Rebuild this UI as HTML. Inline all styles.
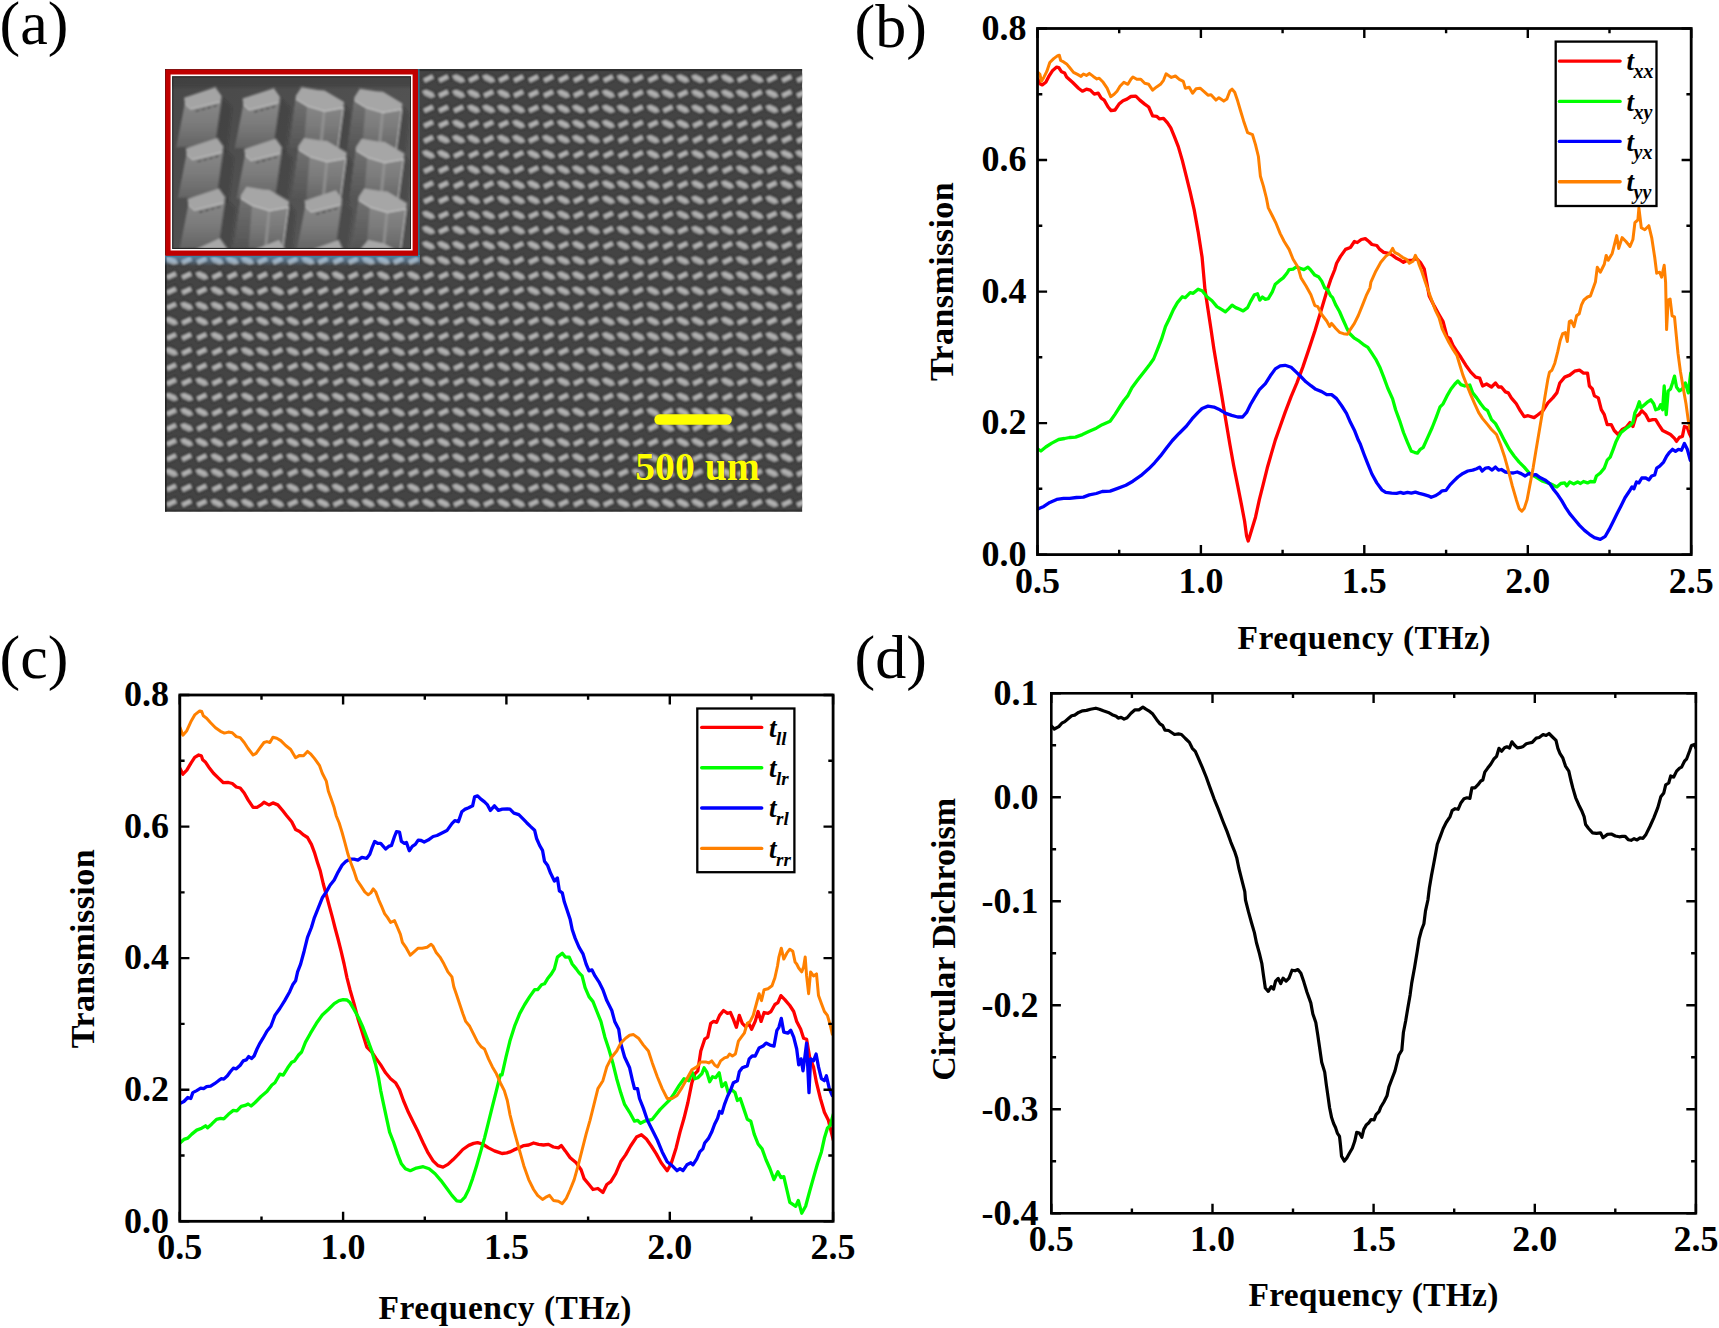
<!DOCTYPE html>
<html><head><meta charset="utf-8"><title>Figure</title>
<style>html,body{margin:0;padding:0;background:#fff}svg{display:block}text{font-family:'Liberation Serif','Times New Roman',serif;fill:#000}</style>
</head><body>
<svg width="1719" height="1328" viewBox="0 0 1719 1328">
<rect width="1719" height="1328" fill="#fff"/>
<defs>
<clipPath id="cb"><rect x="1037.5" y="28.5" width="653.7" height="526.1"/></clipPath>
<clipPath id="cc"><rect x="179.8" y="695" width="653.3" height="526.3"/></clipPath>
<clipPath id="cd"><rect x="1051.3" y="693.3" width="644.6" height="520"/></clipPath>
<clipPath id="csem"><rect x="165" y="69" width="637.3" height="442.8"/></clipPath>
<clipPath id="cins"><rect x="172.7" y="76.8" width="237.9" height="171.7"/></clipPath>
<filter id="blur" x="-2%" y="-2%" width="104%" height="104%"><feGaussianBlur stdDeviation="0.85"/></filter>
<filter id="blur2" x="-2%" y="-2%" width="104%" height="104%"><feGaussianBlur stdDeviation="0.9"/></filter>
<linearGradient id="gbody" x1="0" y1="0" x2="0" y2="1"><stop offset="0" stop-color="#8a8a8a"/><stop offset="0.5" stop-color="#7c7c7c"/><stop offset="1" stop-color="#646464"/></linearGradient>
<linearGradient id="gside" x1="0" y1="0" x2="0" y2="1"><stop offset="0" stop-color="#727272"/><stop offset="1" stop-color="#545454"/></linearGradient>
<linearGradient id="gbg" x1="0" y1="0" x2="1" y2="1"><stop offset="0" stop-color="#484848"/><stop offset="1" stop-color="#5a5a5a"/></linearGradient>
<linearGradient id="gblue" x1="0" y1="0" x2="0" y2="1"><stop offset="0" stop-color="#7ab8ee" stop-opacity="0.55"/><stop offset="0.6" stop-color="#7ab8ee" stop-opacity="0.3"/><stop offset="1" stop-color="#7ab8ee" stop-opacity="0"/></linearGradient>
</defs>
<text x="-0.5" y="43.7" font-size="62.0" text-anchor="start" font-weight="normal" font-style="normal" >(a)</text>
<text x="854.5" y="47.3" font-size="62.0" text-anchor="start" font-weight="normal" font-style="normal" >(b)</text>
<text x="-0.5" y="677.6" font-size="62.0" text-anchor="start" font-weight="normal" font-style="normal" >(c)</text>
<text x="854.5" y="678.0" font-size="62.0" text-anchor="start" font-weight="normal" font-style="normal" >(d)</text>
<g clip-path="url(#csem)">
<rect x="165" y="69" width="637.3" height="442.8" fill="#444444"/>
<g filter="url(#blur)">
<path d="M422.7,78.4L432.1,74.0L434.4,78.8L425.0,83.2ZM437.7,78.4L447.1,74.0L449.4,78.8L440.0,83.2ZM467.8,78.4L477.2,74.0L479.5,78.8L470.0,83.2ZM497.8,78.4L507.2,74.0L509.5,78.8L500.1,83.2ZM512.8,78.4L522.2,74.0L524.5,78.8L515.0,83.2ZM527.7,78.4L537.2,74.0L539.4,78.8L530.0,83.2ZM542.7,78.4L552.1,74.0L554.4,78.8L545.0,83.2ZM557.7,78.4L567.1,74.0L569.4,78.8L560.0,83.2ZM572.6,78.4L582.0,74.0L584.3,78.8L574.9,83.2ZM587.6,78.4L597.0,74.0L599.3,78.8L589.8,83.2ZM602.5,78.4L611.9,74.0L614.2,78.8L604.8,83.2ZM632.3,78.4L641.8,74.0L644.0,78.8L634.6,83.2ZM647.2,78.4L656.7,74.0L658.9,78.8L649.5,83.2ZM706.8,78.4L716.2,74.0L718.5,78.8L709.0,83.2ZM736.5,78.4L745.9,74.0L748.2,78.8L738.7,83.2ZM766.1,78.4L775.6,74.0L777.8,78.8L768.4,83.2ZM780.9,78.4L790.4,74.0L792.7,78.8L783.2,83.2ZM795.8,78.4L805.2,74.0L807.5,78.8L798.0,83.2ZM810.6,78.4L820.0,74.0L822.3,78.8L812.8,83.2ZM437.7,93.5L447.1,89.1L449.4,94.0L440.0,98.4ZM482.8,93.5L492.2,89.1L494.5,94.0L485.1,98.4ZM512.8,93.5L522.2,89.1L524.5,94.0L515.0,98.4ZM527.7,93.5L537.2,89.1L539.4,94.0L530.0,98.4ZM542.7,93.5L552.1,89.1L554.4,94.0L545.0,98.4ZM572.6,93.5L582.0,89.1L584.3,94.0L574.9,98.4ZM587.6,93.5L597.0,89.1L599.3,94.0L589.8,98.4ZM617.4,93.5L626.8,89.1L629.1,94.0L619.7,98.4ZM632.3,93.5L641.8,89.1L644.0,94.0L634.6,98.4ZM677.0,93.5L686.4,89.1L688.7,94.0L679.3,98.4ZM751.3,93.5L760.7,89.1L763.0,94.0L753.6,98.4ZM780.9,93.5L790.4,89.1L792.7,94.0L783.2,98.4ZM795.8,93.5L805.2,89.1L807.5,94.0L798.0,98.4ZM422.7,108.7L432.1,104.3L434.4,109.2L425.0,113.6ZM437.7,108.7L447.1,104.3L449.4,109.2L440.0,113.6ZM452.7,108.7L462.2,104.3L464.5,109.2L455.0,113.6ZM527.7,108.7L537.2,104.3L539.4,109.2L530.0,113.6ZM587.6,108.7L597.0,104.3L599.3,109.2L589.8,113.6ZM632.3,108.7L641.8,104.3L644.0,109.2L634.6,113.6ZM662.1,108.7L671.6,104.3L673.8,109.2L664.4,113.6ZM736.5,108.7L745.9,104.3L748.2,109.2L738.7,113.6ZM751.3,108.7L760.7,104.3L763.0,109.2L753.6,113.6ZM780.9,108.7L790.4,104.3L792.7,109.2L783.2,113.6ZM795.8,108.7L805.2,104.3L807.5,109.2L798.0,113.6ZM810.6,108.7L820.0,104.3L822.3,109.2L812.8,113.6ZM422.7,123.8L432.1,119.4L434.4,124.3L425.0,128.7ZM437.7,123.8L447.1,119.4L449.4,124.3L440.0,128.7ZM467.8,123.8L477.2,119.4L479.5,124.3L470.0,128.7ZM482.8,123.8L492.2,119.4L494.5,124.3L485.1,128.7ZM497.8,123.8L507.2,119.4L509.5,124.3L500.1,128.7ZM527.7,123.8L537.2,119.4L539.4,124.3L530.0,128.7ZM542.7,123.8L552.1,119.4L554.4,124.3L545.0,128.7ZM617.4,123.8L626.8,119.4L629.1,124.3L619.7,128.7ZM632.3,123.8L641.8,119.4L644.0,124.3L634.6,128.7ZM647.2,123.8L656.7,119.4L658.9,124.3L649.5,128.7ZM691.9,123.8L701.3,119.4L703.6,124.3L694.2,128.7ZM706.8,123.8L716.2,119.4L718.5,124.3L709.0,128.7ZM721.6,123.8L731.0,119.4L733.3,124.3L723.9,128.7ZM736.5,123.8L745.9,119.4L748.2,124.3L738.7,128.7ZM751.3,123.8L760.7,119.4L763.0,124.3L753.6,128.7ZM780.9,123.8L790.4,119.4L792.7,124.3L783.2,128.7ZM795.8,123.8L805.2,119.4L807.5,124.3L798.0,128.7ZM810.6,123.8L820.0,119.4L822.3,124.3L812.8,128.7ZM422.7,139.0L432.1,134.6L434.4,139.5L425.0,143.9ZM482.8,139.0L492.2,134.6L494.5,139.5L485.1,143.9ZM527.7,139.0L537.2,134.6L539.4,139.5L530.0,143.9ZM602.5,139.0L611.9,134.6L614.2,139.5L604.8,143.9ZM617.4,139.0L626.8,134.6L629.1,139.5L619.7,143.9ZM632.3,139.0L641.8,134.6L644.0,139.5L634.6,143.9ZM662.1,139.0L671.6,134.6L673.8,139.5L664.4,143.9ZM677.0,139.0L686.4,134.6L688.7,139.5L679.3,143.9ZM691.9,139.0L701.3,134.6L703.6,139.5L694.2,143.9ZM706.8,139.0L716.2,134.6L718.5,139.5L709.0,143.9ZM721.6,139.0L731.0,134.6L733.3,139.5L723.9,143.9ZM736.5,139.0L745.9,134.6L748.2,139.5L738.7,143.9ZM751.3,139.0L760.7,134.6L763.0,139.5L753.6,143.9ZM766.1,139.0L775.6,134.6L777.8,139.5L768.4,143.9ZM780.9,139.0L790.4,134.6L792.7,139.5L783.2,143.9ZM795.8,139.0L805.2,134.6L807.5,139.5L798.0,143.9ZM810.6,139.0L820.0,134.6L822.3,139.5L812.8,143.9ZM452.7,154.2L462.2,149.8L464.5,154.6L455.0,159.0ZM467.8,154.2L477.2,149.8L479.5,154.6L470.0,159.0ZM482.8,154.2L492.2,149.8L494.5,154.6L485.1,159.0ZM497.8,154.2L507.2,149.8L509.5,154.6L500.1,159.0ZM512.8,154.2L522.2,149.8L524.5,154.6L515.0,159.0ZM557.7,154.2L567.1,149.8L569.4,154.6L560.0,159.0ZM572.6,154.2L582.0,149.8L584.3,154.6L574.9,159.0ZM587.6,154.2L597.0,149.8L599.3,154.6L589.8,159.0ZM602.5,154.2L611.9,149.8L614.2,154.6L604.8,159.0ZM617.4,154.2L626.8,149.8L629.1,154.6L619.7,159.0ZM632.3,154.2L641.8,149.8L644.0,154.6L634.6,159.0ZM662.1,154.2L671.6,149.8L673.8,154.6L664.4,159.0ZM677.0,154.2L686.4,149.8L688.7,154.6L679.3,159.0ZM721.6,154.2L731.0,149.8L733.3,154.6L723.9,159.0ZM751.3,154.2L760.7,149.8L763.0,154.6L753.6,159.0ZM422.7,169.3L432.1,164.9L434.4,169.8L425.0,174.2ZM437.7,169.3L447.1,164.9L449.4,169.8L440.0,174.2ZM452.7,169.3L462.2,164.9L464.5,169.8L455.0,174.2ZM512.8,169.3L522.2,164.9L524.5,169.8L515.0,174.2ZM527.7,169.3L537.2,164.9L539.4,169.8L530.0,174.2ZM632.3,169.3L641.8,164.9L644.0,169.8L634.6,174.2ZM647.2,169.3L656.7,164.9L658.9,169.8L649.5,174.2ZM662.1,169.3L671.6,164.9L673.8,169.8L664.4,174.2ZM677.0,169.3L686.4,164.9L688.7,169.8L679.3,174.2ZM691.9,169.3L701.3,164.9L703.6,169.8L694.2,174.2ZM706.8,169.3L716.2,164.9L718.5,169.8L709.0,174.2ZM721.6,169.3L731.0,164.9L733.3,169.8L723.9,174.2ZM766.1,169.3L775.6,164.9L777.8,169.8L768.4,174.2ZM422.7,184.5L432.1,180.1L434.4,185.0L425.0,189.4ZM437.7,184.5L447.1,180.1L449.4,185.0L440.0,189.4ZM452.7,184.5L462.2,180.1L464.5,185.0L455.0,189.4ZM467.8,184.5L477.2,180.1L479.5,185.0L470.0,189.4ZM482.8,184.5L492.2,180.1L494.5,185.0L485.1,189.4ZM542.7,184.5L552.1,180.1L554.4,185.0L545.0,189.4ZM587.6,184.5L597.0,180.1L599.3,185.0L589.8,189.4ZM662.1,184.5L671.6,180.1L673.8,185.0L664.4,189.4ZM677.0,184.5L686.4,180.1L688.7,185.0L679.3,189.4ZM706.8,184.5L716.2,180.1L718.5,185.0L709.0,189.4ZM751.3,184.5L760.7,180.1L763.0,185.0L753.6,189.4ZM766.1,184.5L775.6,180.1L777.8,185.0L768.4,189.4ZM810.6,184.5L820.0,180.1L822.3,185.0L812.8,189.4ZM422.7,199.6L432.1,195.2L434.4,200.1L425.0,204.5ZM437.7,199.6L447.1,195.2L449.4,200.1L440.0,204.5ZM482.8,199.6L492.2,195.2L494.5,200.1L485.1,204.5ZM542.7,199.6L552.1,195.2L554.4,200.1L545.0,204.5ZM572.6,199.6L582.0,195.2L584.3,200.1L574.9,204.5ZM587.6,199.6L597.0,195.2L599.3,200.1L589.8,204.5ZM662.1,199.6L671.6,195.2L673.8,200.1L664.4,204.5ZM706.8,199.6L716.2,195.2L718.5,200.1L709.0,204.5ZM721.6,199.6L731.0,195.2L733.3,200.1L723.9,204.5ZM736.5,199.6L745.9,195.2L748.2,200.1L738.7,204.5ZM751.3,199.6L760.7,195.2L763.0,200.1L753.6,204.5ZM780.9,199.6L790.4,195.2L792.7,200.1L783.2,204.5ZM795.8,199.6L805.2,195.2L807.5,200.1L798.0,204.5ZM810.6,199.6L820.0,195.2L822.3,200.1L812.8,204.5ZM437.7,214.8L447.1,210.4L449.4,215.3L440.0,219.7ZM452.7,214.8L462.2,210.4L464.5,215.3L455.0,219.7ZM497.8,214.8L507.2,210.4L509.5,215.3L500.1,219.7ZM527.7,214.8L537.2,210.4L539.4,215.3L530.0,219.7ZM572.6,214.8L582.0,210.4L584.3,215.3L574.9,219.7ZM587.6,214.8L597.0,210.4L599.3,215.3L589.8,219.7ZM602.5,214.8L611.9,210.4L614.2,215.3L604.8,219.7ZM617.4,214.8L626.8,210.4L629.1,215.3L619.7,219.7ZM647.2,214.8L656.7,210.4L658.9,215.3L649.5,219.7ZM662.1,214.8L671.6,210.4L673.8,215.3L664.4,219.7ZM706.8,214.8L716.2,210.4L718.5,215.3L709.0,219.7ZM721.6,214.8L731.0,210.4L733.3,215.3L723.9,219.7ZM766.1,214.8L775.6,210.4L777.8,215.3L768.4,219.7ZM795.8,214.8L805.2,210.4L807.5,215.3L798.0,219.7ZM810.6,214.8L820.0,210.4L822.3,215.3L812.8,219.7ZM437.7,230.0L447.1,225.6L449.4,230.4L440.0,234.8ZM497.8,230.0L507.2,225.6L509.5,230.4L500.1,234.8ZM527.7,230.0L537.2,225.6L539.4,230.4L530.0,234.8ZM542.7,230.0L552.1,225.6L554.4,230.4L545.0,234.8ZM572.6,230.0L582.0,225.6L584.3,230.4L574.9,234.8ZM602.5,230.0L611.9,225.6L614.2,230.4L604.8,234.8ZM677.0,230.0L686.4,225.6L688.7,230.4L679.3,234.8ZM736.5,230.0L745.9,225.6L748.2,230.4L738.7,234.8ZM751.3,230.0L760.7,225.6L763.0,230.4L753.6,234.8ZM766.1,230.0L775.6,225.6L777.8,230.4L768.4,234.8ZM780.9,230.0L790.4,225.6L792.7,230.4L783.2,234.8ZM795.8,230.0L805.2,225.6L807.5,230.4L798.0,234.8ZM810.6,230.0L820.0,225.6L822.3,230.4L812.8,234.8ZM467.8,245.1L477.2,240.7L479.5,245.6L470.0,250.0ZM512.8,245.1L522.2,240.7L524.5,245.6L515.0,250.0ZM557.7,245.1L567.1,240.7L569.4,245.6L560.0,250.0ZM587.6,245.1L597.0,240.7L599.3,245.6L589.8,250.0ZM602.5,245.1L611.9,240.7L614.2,245.6L604.8,250.0ZM647.2,245.1L656.7,240.7L658.9,245.6L649.5,250.0ZM662.1,245.1L671.6,240.7L673.8,245.6L664.4,250.0ZM677.0,245.1L686.4,240.7L688.7,245.6L679.3,250.0ZM691.9,245.1L701.3,240.7L703.6,245.6L694.2,250.0ZM706.8,245.1L716.2,240.7L718.5,245.6L709.0,250.0ZM721.6,245.1L731.0,240.7L733.3,245.6L723.9,250.0ZM751.3,245.1L760.7,240.7L763.0,245.6L753.6,250.0ZM780.9,245.1L790.4,240.7L792.7,245.6L783.2,250.0ZM795.8,245.1L805.2,240.7L807.5,245.6L798.0,250.0ZM810.6,245.1L820.0,240.7L822.3,245.6L812.8,250.0ZM180.8,260.3L190.3,255.9L192.5,260.8L183.1,265.2ZM196.0,260.3L205.5,255.9L207.7,260.8L198.3,265.2ZM256.7,260.3L266.1,255.9L268.4,260.8L259.0,265.2ZM271.8,260.3L281.2,255.9L283.5,260.8L274.1,265.2ZM286.9,260.3L296.4,255.9L298.7,260.8L289.2,265.2ZM317.2,260.3L326.6,255.9L328.9,260.8L319.5,265.2ZM332.3,260.3L341.7,255.9L344.0,260.8L334.6,265.2ZM347.4,260.3L356.8,255.9L359.1,260.8L349.7,265.2ZM392.6,260.3L402.0,255.9L404.3,260.8L394.9,265.2ZM407.6,260.3L417.1,255.9L419.4,260.8L409.9,265.2ZM467.8,260.3L477.2,255.9L479.5,260.8L470.0,265.2ZM482.8,260.3L492.2,255.9L494.5,260.8L485.1,265.2ZM512.8,260.3L522.2,255.9L524.5,260.8L515.0,265.2ZM527.7,260.3L537.2,255.9L539.4,260.8L530.0,265.2ZM587.6,260.3L597.0,255.9L599.3,260.8L589.8,265.2ZM617.4,260.3L626.8,255.9L629.1,260.8L619.7,265.2ZM647.2,260.3L656.7,255.9L658.9,260.8L649.5,265.2ZM662.1,260.3L671.6,255.9L673.8,260.8L664.4,265.2ZM706.8,260.3L716.2,255.9L718.5,260.8L709.0,265.2ZM721.6,260.3L731.0,255.9L733.3,260.8L723.9,265.2ZM751.3,260.3L760.7,255.9L763.0,260.8L753.6,265.2ZM766.1,260.3L775.6,255.9L777.8,260.8L768.4,265.2ZM780.9,260.3L790.4,255.9L792.7,260.8L783.2,265.2ZM795.8,260.3L805.2,255.9L807.5,260.8L798.0,265.2ZM810.6,260.3L820.0,255.9L822.3,260.8L812.8,265.2ZM165.6,275.4L175.1,271.0L177.4,275.9L167.9,280.3ZM180.8,275.4L190.3,271.0L192.5,275.9L183.1,280.3ZM211.2,275.4L220.6,271.0L222.9,275.9L213.5,280.3ZM226.4,275.4L235.8,271.0L238.1,275.9L228.7,280.3ZM241.5,275.4L251.0,271.0L253.2,275.9L243.8,280.3ZM256.7,275.4L266.1,271.0L268.4,275.9L259.0,280.3ZM271.8,275.4L281.2,271.0L283.5,275.9L274.1,280.3ZM286.9,275.4L296.4,271.0L298.7,275.9L289.2,280.3ZM302.1,275.4L311.5,271.0L313.8,275.9L304.3,280.3ZM347.4,275.4L356.8,271.0L359.1,275.9L349.7,280.3ZM362.5,275.4L371.9,271.0L374.2,275.9L364.7,280.3ZM392.6,275.4L402.0,271.0L404.3,275.9L394.9,280.3ZM422.7,275.4L432.1,271.0L434.4,275.9L425.0,280.3ZM437.7,275.4L447.1,271.0L449.4,275.9L440.0,280.3ZM467.8,275.4L477.2,271.0L479.5,275.9L470.0,280.3ZM482.8,275.4L492.2,271.0L494.5,275.9L485.1,280.3ZM527.7,275.4L537.2,271.0L539.4,275.9L530.0,280.3ZM587.6,275.4L597.0,271.0L599.3,275.9L589.8,280.3ZM602.5,275.4L611.9,271.0L614.2,275.9L604.8,280.3ZM617.4,275.4L626.8,271.0L629.1,275.9L619.7,280.3ZM632.3,275.4L641.8,271.0L644.0,275.9L634.6,280.3ZM647.2,275.4L656.7,271.0L658.9,275.9L649.5,280.3ZM677.0,275.4L686.4,271.0L688.7,275.9L679.3,280.3ZM691.9,275.4L701.3,271.0L703.6,275.9L694.2,280.3ZM706.8,275.4L716.2,271.0L718.5,275.9L709.0,280.3ZM766.1,275.4L775.6,271.0L777.8,275.9L768.4,280.3ZM780.9,275.4L790.4,271.0L792.7,275.9L783.2,280.3ZM795.8,275.4L805.2,271.0L807.5,275.9L798.0,280.3ZM810.6,275.4L820.0,271.0L822.3,275.9L812.8,280.3ZM165.6,290.6L175.1,286.2L177.4,291.1L167.9,295.5ZM180.8,290.6L190.3,286.2L192.5,291.1L183.1,295.5ZM196.0,290.6L205.5,286.2L207.7,291.1L198.3,295.5ZM256.7,290.6L266.1,286.2L268.4,291.1L259.0,295.5ZM286.9,290.6L296.4,286.2L298.7,291.1L289.2,295.5ZM302.1,290.6L311.5,286.2L313.8,291.1L304.3,295.5ZM317.2,290.6L326.6,286.2L328.9,291.1L319.5,295.5ZM332.3,290.6L341.7,286.2L344.0,291.1L334.6,295.5ZM347.4,290.6L356.8,286.2L359.1,291.1L349.7,295.5ZM362.5,290.6L371.9,286.2L374.2,291.1L364.7,295.5ZM377.5,290.6L387.0,286.2L389.2,291.1L379.8,295.5ZM392.6,290.6L402.0,286.2L404.3,291.1L394.9,295.5ZM407.6,290.6L417.1,286.2L419.4,291.1L409.9,295.5ZM422.7,290.6L432.1,286.2L434.4,291.1L425.0,295.5ZM437.7,290.6L447.1,286.2L449.4,291.1L440.0,295.5ZM452.7,290.6L462.2,286.2L464.5,291.1L455.0,295.5ZM467.8,290.6L477.2,286.2L479.5,291.1L470.0,295.5ZM482.8,290.6L492.2,286.2L494.5,291.1L485.1,295.5ZM497.8,290.6L507.2,286.2L509.5,291.1L500.1,295.5ZM512.8,290.6L522.2,286.2L524.5,291.1L515.0,295.5ZM617.4,290.6L626.8,286.2L629.1,291.1L619.7,295.5ZM632.3,290.6L641.8,286.2L644.0,291.1L634.6,295.5ZM662.1,290.6L671.6,286.2L673.8,291.1L664.4,295.5ZM706.8,290.6L716.2,286.2L718.5,291.1L709.0,295.5ZM795.8,290.6L805.2,286.2L807.5,291.1L798.0,295.5ZM165.6,305.8L175.1,301.4L177.4,306.2L167.9,310.6ZM286.9,305.8L296.4,301.4L298.7,306.2L289.2,310.6ZM302.1,305.8L311.5,301.4L313.8,306.2L304.3,310.6ZM317.2,305.8L326.6,301.4L328.9,306.2L319.5,310.6ZM332.3,305.8L341.7,301.4L344.0,306.2L334.6,310.6ZM347.4,305.8L356.8,301.4L359.1,306.2L349.7,310.6ZM437.7,305.8L447.1,301.4L449.4,306.2L440.0,310.6ZM452.7,305.8L462.2,301.4L464.5,306.2L455.0,310.6ZM497.8,305.8L507.2,301.4L509.5,306.2L500.1,310.6ZM542.7,305.8L552.1,301.4L554.4,306.2L545.0,310.6ZM572.6,305.8L582.0,301.4L584.3,306.2L574.9,310.6ZM587.6,305.8L597.0,301.4L599.3,306.2L589.8,310.6ZM602.5,305.8L611.9,301.4L614.2,306.2L604.8,310.6ZM632.3,305.8L641.8,301.4L644.0,306.2L634.6,310.6ZM677.0,305.8L686.4,301.4L688.7,306.2L679.3,310.6ZM691.9,305.8L701.3,301.4L703.6,306.2L694.2,310.6ZM706.8,305.8L716.2,301.4L718.5,306.2L709.0,310.6ZM780.9,305.8L790.4,301.4L792.7,306.2L783.2,310.6ZM795.8,305.8L805.2,301.4L807.5,306.2L798.0,310.6ZM810.6,305.8L820.0,301.4L822.3,306.2L812.8,310.6ZM180.8,320.9L190.3,316.5L192.5,321.4L183.1,325.8ZM211.2,320.9L220.6,316.5L222.9,321.4L213.5,325.8ZM226.4,320.9L235.8,316.5L238.1,321.4L228.7,325.8ZM241.5,320.9L251.0,316.5L253.2,321.4L243.8,325.8ZM302.1,320.9L311.5,316.5L313.8,321.4L304.3,325.8ZM317.2,320.9L326.6,316.5L328.9,321.4L319.5,325.8ZM332.3,320.9L341.7,316.5L344.0,321.4L334.6,325.8ZM347.4,320.9L356.8,316.5L359.1,321.4L349.7,325.8ZM362.5,320.9L371.9,316.5L374.2,321.4L364.7,325.8ZM392.6,320.9L402.0,316.5L404.3,321.4L394.9,325.8ZM437.7,320.9L447.1,316.5L449.4,321.4L440.0,325.8ZM452.7,320.9L462.2,316.5L464.5,321.4L455.0,325.8ZM497.8,320.9L507.2,316.5L509.5,321.4L500.1,325.8ZM512.8,320.9L522.2,316.5L524.5,321.4L515.0,325.8ZM527.7,320.9L537.2,316.5L539.4,321.4L530.0,325.8ZM557.7,320.9L567.1,316.5L569.4,321.4L560.0,325.8ZM587.6,320.9L597.0,316.5L599.3,321.4L589.8,325.8ZM632.3,320.9L641.8,316.5L644.0,321.4L634.6,325.8ZM662.1,320.9L671.6,316.5L673.8,321.4L664.4,325.8ZM706.8,320.9L716.2,316.5L718.5,321.4L709.0,325.8ZM736.5,320.9L745.9,316.5L748.2,321.4L738.7,325.8ZM751.3,320.9L760.7,316.5L763.0,321.4L753.6,325.8ZM766.1,320.9L775.6,316.5L777.8,321.4L768.4,325.8ZM780.9,320.9L790.4,316.5L792.7,321.4L783.2,325.8ZM795.8,320.9L805.2,316.5L807.5,321.4L798.0,325.8ZM810.6,320.9L820.0,316.5L822.3,321.4L812.8,325.8ZM165.6,336.1L175.1,331.7L177.4,336.6L167.9,341.0ZM180.8,336.1L190.3,331.7L192.5,336.6L183.1,341.0ZM196.0,336.1L205.5,331.7L207.7,336.6L198.3,341.0ZM226.4,336.1L235.8,331.7L238.1,336.6L228.7,341.0ZM271.8,336.1L281.2,331.7L283.5,336.6L274.1,341.0ZM332.3,336.1L341.7,331.7L344.0,336.6L334.6,341.0ZM347.4,336.1L356.8,331.7L359.1,336.6L349.7,341.0ZM362.5,336.1L371.9,331.7L374.2,336.6L364.7,341.0ZM407.6,336.1L417.1,331.7L419.4,336.6L409.9,341.0ZM422.7,336.1L432.1,331.7L434.4,336.6L425.0,341.0ZM437.7,336.1L447.1,331.7L449.4,336.6L440.0,341.0ZM452.7,336.1L462.2,331.7L464.5,336.6L455.0,341.0ZM467.8,336.1L477.2,331.7L479.5,336.6L470.0,341.0ZM497.8,336.1L507.2,331.7L509.5,336.6L500.1,341.0ZM527.7,336.1L537.2,331.7L539.4,336.6L530.0,341.0ZM542.7,336.1L552.1,331.7L554.4,336.6L545.0,341.0ZM557.7,336.1L567.1,331.7L569.4,336.6L560.0,341.0ZM572.6,336.1L582.0,331.7L584.3,336.6L574.9,341.0ZM587.6,336.1L597.0,331.7L599.3,336.6L589.8,341.0ZM721.6,336.1L731.0,331.7L733.3,336.6L723.9,341.0ZM751.3,336.1L760.7,331.7L763.0,336.6L753.6,341.0ZM795.8,336.1L805.2,331.7L807.5,336.6L798.0,341.0ZM810.6,336.1L820.0,331.7L822.3,336.6L812.8,341.0ZM180.8,351.2L190.3,346.8L192.5,351.7L183.1,356.1ZM196.0,351.2L205.5,346.8L207.7,351.7L198.3,356.1ZM211.2,351.2L220.6,346.8L222.9,351.7L213.5,356.1ZM226.4,351.2L235.8,346.8L238.1,351.7L228.7,356.1ZM271.8,351.2L281.2,346.8L283.5,351.7L274.1,356.1ZM302.1,351.2L311.5,346.8L313.8,351.7L304.3,356.1ZM332.3,351.2L341.7,346.8L344.0,351.7L334.6,356.1ZM347.4,351.2L356.8,346.8L359.1,351.7L349.7,356.1ZM362.5,351.2L371.9,346.8L374.2,351.7L364.7,356.1ZM377.5,351.2L387.0,346.8L389.2,351.7L379.8,356.1ZM407.6,351.2L417.1,346.8L419.4,351.7L409.9,356.1ZM422.7,351.2L432.1,346.8L434.4,351.7L425.0,356.1ZM467.8,351.2L477.2,346.8L479.5,351.7L470.0,356.1ZM482.8,351.2L492.2,346.8L494.5,351.7L485.1,356.1ZM497.8,351.2L507.2,346.8L509.5,351.7L500.1,356.1ZM512.8,351.2L522.2,346.8L524.5,351.7L515.0,356.1ZM527.7,351.2L537.2,346.8L539.4,351.7L530.0,356.1ZM542.7,351.2L552.1,346.8L554.4,351.7L545.0,356.1ZM557.7,351.2L567.1,346.8L569.4,351.7L560.0,356.1ZM572.6,351.2L582.0,346.8L584.3,351.7L574.9,356.1ZM632.3,351.2L641.8,346.8L644.0,351.7L634.6,356.1ZM647.2,351.2L656.7,346.8L658.9,351.7L649.5,356.1ZM677.0,351.2L686.4,346.8L688.7,351.7L679.3,356.1ZM691.9,351.2L701.3,346.8L703.6,351.7L694.2,356.1ZM706.8,351.2L716.2,346.8L718.5,351.7L709.0,356.1ZM721.6,351.2L731.0,346.8L733.3,351.7L723.9,356.1ZM751.3,351.2L760.7,346.8L763.0,351.7L753.6,356.1ZM766.1,351.2L775.6,346.8L777.8,351.7L768.4,356.1ZM810.6,351.2L820.0,346.8L822.3,351.7L812.8,356.1ZM165.6,366.4L175.1,362.0L177.4,366.9L167.9,371.3ZM180.8,366.4L190.3,362.0L192.5,366.9L183.1,371.3ZM196.0,366.4L205.5,362.0L207.7,366.9L198.3,371.3ZM211.2,366.4L220.6,362.0L222.9,366.9L213.5,371.3ZM271.8,366.4L281.2,362.0L283.5,366.9L274.1,371.3ZM286.9,366.4L296.4,362.0L298.7,366.9L289.2,371.3ZM332.3,366.4L341.7,362.0L344.0,366.9L334.6,371.3ZM362.5,366.4L371.9,362.0L374.2,366.9L364.7,371.3ZM377.5,366.4L387.0,362.0L389.2,366.9L379.8,371.3ZM452.7,366.4L462.2,362.0L464.5,366.9L455.0,371.3ZM467.8,366.4L477.2,362.0L479.5,366.9L470.0,371.3ZM482.8,366.4L492.2,362.0L494.5,366.9L485.1,371.3ZM587.6,366.4L597.0,362.0L599.3,366.9L589.8,371.3ZM617.4,366.4L626.8,362.0L629.1,366.9L619.7,371.3ZM647.2,366.4L656.7,362.0L658.9,366.9L649.5,371.3ZM691.9,366.4L701.3,362.0L703.6,366.9L694.2,371.3ZM706.8,366.4L716.2,362.0L718.5,366.9L709.0,371.3ZM721.6,366.4L731.0,362.0L733.3,366.9L723.9,371.3ZM766.1,366.4L775.6,362.0L777.8,366.9L768.4,371.3ZM780.9,366.4L790.4,362.0L792.7,366.9L783.2,371.3ZM165.6,381.6L175.1,377.2L177.4,382.0L167.9,386.4ZM180.8,381.6L190.3,377.2L192.5,382.0L183.1,386.4ZM211.2,381.6L220.6,377.2L222.9,382.0L213.5,386.4ZM226.4,381.6L235.8,377.2L238.1,382.0L228.7,386.4ZM241.5,381.6L251.0,377.2L253.2,382.0L243.8,386.4ZM302.1,381.6L311.5,377.2L313.8,382.0L304.3,386.4ZM317.2,381.6L326.6,377.2L328.9,382.0L319.5,386.4ZM332.3,381.6L341.7,377.2L344.0,382.0L334.6,386.4ZM377.5,381.6L387.0,377.2L389.2,382.0L379.8,386.4ZM392.6,381.6L402.0,377.2L404.3,382.0L394.9,386.4ZM407.6,381.6L417.1,377.2L419.4,382.0L409.9,386.4ZM437.7,381.6L447.1,377.2L449.4,382.0L440.0,386.4ZM452.7,381.6L462.2,377.2L464.5,382.0L455.0,386.4ZM497.8,381.6L507.2,377.2L509.5,382.0L500.1,386.4ZM512.8,381.6L522.2,377.2L524.5,382.0L515.0,386.4ZM527.7,381.6L537.2,377.2L539.4,382.0L530.0,386.4ZM542.7,381.6L552.1,377.2L554.4,382.0L545.0,386.4ZM572.6,381.6L582.0,377.2L584.3,382.0L574.9,386.4ZM617.4,381.6L626.8,377.2L629.1,382.0L619.7,386.4ZM632.3,381.6L641.8,377.2L644.0,382.0L634.6,386.4ZM662.1,381.6L671.6,377.2L673.8,382.0L664.4,386.4ZM691.9,381.6L701.3,377.2L703.6,382.0L694.2,386.4ZM706.8,381.6L716.2,377.2L718.5,382.0L709.0,386.4ZM736.5,381.6L745.9,377.2L748.2,382.0L738.7,386.4ZM766.1,381.6L775.6,377.2L777.8,382.0L768.4,386.4ZM780.9,381.6L790.4,377.2L792.7,382.0L783.2,386.4ZM795.8,381.6L805.2,377.2L807.5,382.0L798.0,386.4ZM810.6,381.6L820.0,377.2L822.3,382.0L812.8,386.4ZM196.0,396.7L205.5,392.3L207.7,397.2L198.3,401.6ZM211.2,396.7L220.6,392.3L222.9,397.2L213.5,401.6ZM226.4,396.7L235.8,392.3L238.1,397.2L228.7,401.6ZM256.7,396.7L266.1,392.3L268.4,397.2L259.0,401.6ZM271.8,396.7L281.2,392.3L283.5,397.2L274.1,401.6ZM286.9,396.7L296.4,392.3L298.7,397.2L289.2,401.6ZM302.1,396.7L311.5,392.3L313.8,397.2L304.3,401.6ZM392.6,396.7L402.0,392.3L404.3,397.2L394.9,401.6ZM407.6,396.7L417.1,392.3L419.4,397.2L409.9,401.6ZM452.7,396.7L462.2,392.3L464.5,397.2L455.0,401.6ZM482.8,396.7L492.2,392.3L494.5,397.2L485.1,401.6ZM497.8,396.7L507.2,392.3L509.5,397.2L500.1,401.6ZM512.8,396.7L522.2,392.3L524.5,397.2L515.0,401.6ZM527.7,396.7L537.2,392.3L539.4,397.2L530.0,401.6ZM542.7,396.7L552.1,392.3L554.4,397.2L545.0,401.6ZM557.7,396.7L567.1,392.3L569.4,397.2L560.0,401.6ZM572.6,396.7L582.0,392.3L584.3,397.2L574.9,401.6ZM602.5,396.7L611.9,392.3L614.2,397.2L604.8,401.6ZM632.3,396.7L641.8,392.3L644.0,397.2L634.6,401.6ZM647.2,396.7L656.7,392.3L658.9,397.2L649.5,401.6ZM691.9,396.7L701.3,392.3L703.6,397.2L694.2,401.6ZM706.8,396.7L716.2,392.3L718.5,397.2L709.0,401.6ZM721.6,396.7L731.0,392.3L733.3,397.2L723.9,401.6ZM736.5,396.7L745.9,392.3L748.2,397.2L738.7,401.6ZM766.1,396.7L775.6,392.3L777.8,397.2L768.4,401.6ZM780.9,396.7L790.4,392.3L792.7,397.2L783.2,401.6ZM810.6,396.7L820.0,392.3L822.3,397.2L812.8,401.6ZM165.6,411.9L175.1,407.5L177.4,412.4L167.9,416.8ZM211.2,411.9L220.6,407.5L222.9,412.4L213.5,416.8ZM226.4,411.9L235.8,407.5L238.1,412.4L228.7,416.8ZM241.5,411.9L251.0,407.5L253.2,412.4L243.8,416.8ZM271.8,411.9L281.2,407.5L283.5,412.4L274.1,416.8ZM317.2,411.9L326.6,407.5L328.9,412.4L319.5,416.8ZM332.3,411.9L341.7,407.5L344.0,412.4L334.6,416.8ZM377.5,411.9L387.0,407.5L389.2,412.4L379.8,416.8ZM407.6,411.9L417.1,407.5L419.4,412.4L409.9,416.8ZM422.7,411.9L432.1,407.5L434.4,412.4L425.0,416.8ZM437.7,411.9L447.1,407.5L449.4,412.4L440.0,416.8ZM512.8,411.9L522.2,407.5L524.5,412.4L515.0,416.8ZM527.7,411.9L537.2,407.5L539.4,412.4L530.0,416.8ZM542.7,411.9L552.1,407.5L554.4,412.4L545.0,416.8ZM587.6,411.9L597.0,407.5L599.3,412.4L589.8,416.8ZM602.5,411.9L611.9,407.5L614.2,412.4L604.8,416.8ZM617.4,411.9L626.8,407.5L629.1,412.4L619.7,416.8ZM632.3,411.9L641.8,407.5L644.0,412.4L634.6,416.8ZM662.1,411.9L671.6,407.5L673.8,412.4L664.4,416.8ZM751.3,411.9L760.7,407.5L763.0,412.4L753.6,416.8ZM766.1,411.9L775.6,407.5L777.8,412.4L768.4,416.8ZM780.9,411.9L790.4,407.5L792.7,412.4L783.2,416.8ZM810.6,411.9L820.0,407.5L822.3,412.4L812.8,416.8ZM165.6,427.0L175.1,422.6L177.4,427.5L167.9,431.9ZM196.0,427.0L205.5,422.6L207.7,427.5L198.3,431.9ZM211.2,427.0L220.6,422.6L222.9,427.5L213.5,431.9ZM226.4,427.0L235.8,422.6L238.1,427.5L228.7,431.9ZM256.7,427.0L266.1,422.6L268.4,427.5L259.0,431.9ZM317.2,427.0L326.6,422.6L328.9,427.5L319.5,431.9ZM332.3,427.0L341.7,422.6L344.0,427.5L334.6,431.9ZM347.4,427.0L356.8,422.6L359.1,427.5L349.7,431.9ZM362.5,427.0L371.9,422.6L374.2,427.5L364.7,431.9ZM392.6,427.0L402.0,422.6L404.3,427.5L394.9,431.9ZM407.6,427.0L417.1,422.6L419.4,427.5L409.9,431.9ZM422.7,427.0L432.1,422.6L434.4,427.5L425.0,431.9ZM512.8,427.0L522.2,422.6L524.5,427.5L515.0,431.9ZM542.7,427.0L552.1,422.6L554.4,427.5L545.0,431.9ZM572.6,427.0L582.0,422.6L584.3,427.5L574.9,431.9ZM602.5,427.0L611.9,422.6L614.2,427.5L604.8,431.9ZM617.4,427.0L626.8,422.6L629.1,427.5L619.7,431.9ZM632.3,427.0L641.8,422.6L644.0,427.5L634.6,431.9ZM647.2,427.0L656.7,422.6L658.9,427.5L649.5,431.9ZM691.9,427.0L701.3,422.6L703.6,427.5L694.2,431.9ZM706.8,427.0L716.2,422.6L718.5,427.5L709.0,431.9ZM736.5,427.0L745.9,422.6L748.2,427.5L738.7,431.9ZM751.3,427.0L760.7,422.6L763.0,427.5L753.6,431.9ZM810.6,427.0L820.0,422.6L822.3,427.5L812.8,431.9ZM165.6,442.2L175.1,437.8L177.4,442.7L167.9,447.1ZM226.4,442.2L235.8,437.8L238.1,442.7L228.7,447.1ZM241.5,442.2L251.0,437.8L253.2,442.7L243.8,447.1ZM256.7,442.2L266.1,437.8L268.4,442.7L259.0,447.1ZM271.8,442.2L281.2,437.8L283.5,442.7L274.1,447.1ZM332.3,442.2L341.7,437.8L344.0,442.7L334.6,447.1ZM362.5,442.2L371.9,437.8L374.2,442.7L364.7,447.1ZM377.5,442.2L387.0,437.8L389.2,442.7L379.8,447.1ZM422.7,442.2L432.1,437.8L434.4,442.7L425.0,447.1ZM467.8,442.2L477.2,437.8L479.5,442.7L470.0,447.1ZM482.8,442.2L492.2,437.8L494.5,442.7L485.1,447.1ZM497.8,442.2L507.2,437.8L509.5,442.7L500.1,447.1ZM512.8,442.2L522.2,437.8L524.5,442.7L515.0,447.1ZM527.7,442.2L537.2,437.8L539.4,442.7L530.0,447.1ZM572.6,442.2L582.0,437.8L584.3,442.7L574.9,447.1ZM587.6,442.2L597.0,437.8L599.3,442.7L589.8,447.1ZM602.5,442.2L611.9,437.8L614.2,442.7L604.8,447.1ZM632.3,442.2L641.8,437.8L644.0,442.7L634.6,447.1ZM647.2,442.2L656.7,437.8L658.9,442.7L649.5,447.1ZM662.1,442.2L671.6,437.8L673.8,442.7L664.4,447.1ZM706.8,442.2L716.2,437.8L718.5,442.7L709.0,447.1ZM721.6,442.2L731.0,437.8L733.3,442.7L723.9,447.1ZM736.5,442.2L745.9,437.8L748.2,442.7L738.7,447.1ZM780.9,442.2L790.4,437.8L792.7,442.7L783.2,447.1ZM795.8,442.2L805.2,437.8L807.5,442.7L798.0,447.1ZM165.6,457.4L175.1,453.0L177.4,457.8L167.9,462.2ZM180.8,457.4L190.3,453.0L192.5,457.8L183.1,462.2ZM196.0,457.4L205.5,453.0L207.7,457.8L198.3,462.2ZM226.4,457.4L235.8,453.0L238.1,457.8L228.7,462.2ZM256.7,457.4L266.1,453.0L268.4,457.8L259.0,462.2ZM271.8,457.4L281.2,453.0L283.5,457.8L274.1,462.2ZM317.2,457.4L326.6,453.0L328.9,457.8L319.5,462.2ZM332.3,457.4L341.7,453.0L344.0,457.8L334.6,462.2ZM362.5,457.4L371.9,453.0L374.2,457.8L364.7,462.2ZM377.5,457.4L387.0,453.0L389.2,457.8L379.8,462.2ZM407.6,457.4L417.1,453.0L419.4,457.8L409.9,462.2ZM437.7,457.4L447.1,453.0L449.4,457.8L440.0,462.2ZM467.8,457.4L477.2,453.0L479.5,457.8L470.0,462.2ZM482.8,457.4L492.2,453.0L494.5,457.8L485.1,462.2ZM497.8,457.4L507.2,453.0L509.5,457.8L500.1,462.2ZM557.7,457.4L567.1,453.0L569.4,457.8L560.0,462.2ZM587.6,457.4L597.0,453.0L599.3,457.8L589.8,462.2ZM602.5,457.4L611.9,453.0L614.2,457.8L604.8,462.2ZM617.4,457.4L626.8,453.0L629.1,457.8L619.7,462.2ZM632.3,457.4L641.8,453.0L644.0,457.8L634.6,462.2ZM677.0,457.4L686.4,453.0L688.7,457.8L679.3,462.2ZM691.9,457.4L701.3,453.0L703.6,457.8L694.2,462.2ZM736.5,457.4L745.9,453.0L748.2,457.8L738.7,462.2ZM751.3,457.4L760.7,453.0L763.0,457.8L753.6,462.2ZM795.8,457.4L805.2,453.0L807.5,457.8L798.0,462.2ZM810.6,457.4L820.0,453.0L822.3,457.8L812.8,462.2ZM180.8,472.5L190.3,468.1L192.5,473.0L183.1,477.4ZM241.5,472.5L251.0,468.1L253.2,473.0L243.8,477.4ZM271.8,472.5L281.2,468.1L283.5,473.0L274.1,477.4ZM286.9,472.5L296.4,468.1L298.7,473.0L289.2,477.4ZM332.3,472.5L341.7,468.1L344.0,473.0L334.6,477.4ZM347.4,472.5L356.8,468.1L359.1,473.0L349.7,477.4ZM362.5,472.5L371.9,468.1L374.2,473.0L364.7,477.4ZM377.5,472.5L387.0,468.1L389.2,473.0L379.8,477.4ZM392.6,472.5L402.0,468.1L404.3,473.0L394.9,477.4ZM407.6,472.5L417.1,468.1L419.4,473.0L409.9,477.4ZM422.7,472.5L432.1,468.1L434.4,473.0L425.0,477.4ZM467.8,472.5L477.2,468.1L479.5,473.0L470.0,477.4ZM512.8,472.5L522.2,468.1L524.5,473.0L515.0,477.4ZM542.7,472.5L552.1,468.1L554.4,473.0L545.0,477.4ZM602.5,472.5L611.9,468.1L614.2,473.0L604.8,477.4ZM617.4,472.5L626.8,468.1L629.1,473.0L619.7,477.4ZM647.2,472.5L656.7,468.1L658.9,473.0L649.5,477.4ZM677.0,472.5L686.4,468.1L688.7,473.0L679.3,477.4ZM691.9,472.5L701.3,468.1L703.6,473.0L694.2,477.4ZM706.8,472.5L716.2,468.1L718.5,473.0L709.0,477.4ZM736.5,472.5L745.9,468.1L748.2,473.0L738.7,477.4ZM751.3,472.5L760.7,468.1L763.0,473.0L753.6,477.4ZM795.8,472.5L805.2,468.1L807.5,473.0L798.0,477.4ZM810.6,472.5L820.0,468.1L822.3,473.0L812.8,477.4ZM165.6,487.7L175.1,483.3L177.4,488.2L167.9,492.6ZM180.8,487.7L190.3,483.3L192.5,488.2L183.1,492.6ZM196.0,487.7L205.5,483.3L207.7,488.2L198.3,492.6ZM211.2,487.7L220.6,483.3L222.9,488.2L213.5,492.6ZM226.4,487.7L235.8,483.3L238.1,488.2L228.7,492.6ZM241.5,487.7L251.0,483.3L253.2,488.2L243.8,492.6ZM256.7,487.7L266.1,483.3L268.4,488.2L259.0,492.6ZM271.8,487.7L281.2,483.3L283.5,488.2L274.1,492.6ZM302.1,487.7L311.5,483.3L313.8,488.2L304.3,492.6ZM347.4,487.7L356.8,483.3L359.1,488.2L349.7,492.6ZM362.5,487.7L371.9,483.3L374.2,488.2L364.7,492.6ZM377.5,487.7L387.0,483.3L389.2,488.2L379.8,492.6ZM392.6,487.7L402.0,483.3L404.3,488.2L394.9,492.6ZM422.7,487.7L432.1,483.3L434.4,488.2L425.0,492.6ZM497.8,487.7L507.2,483.3L509.5,488.2L500.1,492.6ZM527.7,487.7L537.2,483.3L539.4,488.2L530.0,492.6ZM572.6,487.7L582.0,483.3L584.3,488.2L574.9,492.6ZM617.4,487.7L626.8,483.3L629.1,488.2L619.7,492.6ZM632.3,487.7L641.8,483.3L644.0,488.2L634.6,492.6ZM662.1,487.7L671.6,483.3L673.8,488.2L664.4,492.6ZM691.9,487.7L701.3,483.3L703.6,488.2L694.2,492.6ZM721.6,487.7L731.0,483.3L733.3,488.2L723.9,492.6ZM736.5,487.7L745.9,483.3L748.2,488.2L738.7,492.6ZM766.1,487.7L775.6,483.3L777.8,488.2L768.4,492.6ZM780.9,487.7L790.4,483.3L792.7,488.2L783.2,492.6ZM795.8,487.7L805.2,483.3L807.5,488.2L798.0,492.6ZM810.6,487.7L820.0,483.3L822.3,488.2L812.8,492.6ZM165.6,502.8L175.1,498.4L177.4,503.3L167.9,507.7ZM180.8,502.8L190.3,498.4L192.5,503.3L183.1,507.7ZM196.0,502.8L205.5,498.4L207.7,503.3L198.3,507.7ZM256.7,502.8L266.1,498.4L268.4,503.3L259.0,507.7ZM286.9,502.8L296.4,498.4L298.7,503.3L289.2,507.7ZM332.3,502.8L341.7,498.4L344.0,503.3L334.6,507.7ZM407.6,502.8L417.1,498.4L419.4,503.3L409.9,507.7ZM452.7,502.8L462.2,498.4L464.5,503.3L455.0,507.7ZM482.8,502.8L492.2,498.4L494.5,503.3L485.1,507.7ZM527.7,502.8L537.2,498.4L539.4,503.3L530.0,507.7ZM557.7,502.8L567.1,498.4L569.4,503.3L560.0,507.7ZM572.6,502.8L582.0,498.4L584.3,503.3L574.9,507.7ZM602.5,502.8L611.9,498.4L614.2,503.3L604.8,507.7ZM632.3,502.8L641.8,498.4L644.0,503.3L634.6,507.7ZM706.8,502.8L716.2,498.4L718.5,503.3L709.0,507.7ZM721.6,502.8L731.0,498.4L733.3,503.3L723.9,507.7ZM736.5,502.8L745.9,498.4L748.2,503.3L738.7,507.7ZM751.3,502.8L760.7,498.4L763.0,503.3L753.6,507.7ZM780.9,502.8L790.4,498.4L792.7,503.3L783.2,507.7ZM795.8,502.8L805.2,498.4L807.5,503.3L798.0,507.7ZM165.6,518.0L175.1,513.6L177.4,518.5L167.9,522.9ZM180.8,518.0L190.3,513.6L192.5,518.5L183.1,522.9ZM211.2,518.0L220.6,513.6L222.9,518.5L213.5,522.9ZM226.4,518.0L235.8,513.6L238.1,518.5L228.7,522.9ZM241.5,518.0L251.0,513.6L253.2,518.5L243.8,522.9ZM256.7,518.0L266.1,513.6L268.4,518.5L259.0,522.9ZM271.8,518.0L281.2,513.6L283.5,518.5L274.1,522.9ZM286.9,518.0L296.4,513.6L298.7,518.5L289.2,522.9ZM332.3,518.0L341.7,513.6L344.0,518.5L334.6,522.9ZM362.5,518.0L371.9,513.6L374.2,518.5L364.7,522.9ZM377.5,518.0L387.0,513.6L389.2,518.5L379.8,522.9ZM407.6,518.0L417.1,513.6L419.4,518.5L409.9,522.9ZM422.7,518.0L432.1,513.6L434.4,518.5L425.0,522.9ZM437.7,518.0L447.1,513.6L449.4,518.5L440.0,522.9ZM497.8,518.0L507.2,513.6L509.5,518.5L500.1,522.9ZM512.8,518.0L522.2,513.6L524.5,518.5L515.0,522.9ZM527.7,518.0L537.2,513.6L539.4,518.5L530.0,522.9ZM572.6,518.0L582.0,513.6L584.3,518.5L574.9,522.9ZM602.5,518.0L611.9,513.6L614.2,518.5L604.8,522.9ZM647.2,518.0L656.7,513.6L658.9,518.5L649.5,522.9ZM677.0,518.0L686.4,513.6L688.7,518.5L679.3,522.9ZM706.8,518.0L716.2,513.6L718.5,518.5L709.0,522.9ZM721.6,518.0L731.0,513.6L733.3,518.5L723.9,522.9ZM736.5,518.0L745.9,513.6L748.2,518.5L738.7,522.9ZM766.1,518.0L775.6,513.6L777.8,518.5L768.4,522.9ZM810.6,518.0L820.0,513.6L822.3,518.5L812.8,522.9Z" fill="#a0a0a0" stroke="#2a2a2a" stroke-width="2.6" stroke-linejoin="round" paint-order="stroke"/>
<path d="M451.6,75.7L456.4,74.0L463.0,76.9L465.6,81.5L460.8,83.2L454.2,80.3ZM481.6,75.7L486.4,74.0L493.0,76.9L495.7,81.5L490.8,83.2L484.3,80.3ZM616.2,75.7L621.0,74.0L627.6,76.9L630.3,81.5L625.5,83.2L618.9,80.3ZM661.0,75.7L665.8,74.0L672.3,76.9L675.0,81.5L670.2,83.2L663.6,80.3ZM675.8,75.7L680.6,74.0L687.2,76.9L689.9,81.5L685.1,83.2L678.5,80.3ZM690.7,75.7L695.5,74.0L702.1,76.9L704.8,81.5L700.0,83.2L693.4,80.3ZM720.4,75.7L725.2,74.0L731.8,76.9L734.5,81.5L729.7,83.2L723.1,80.3ZM750.1,75.7L754.9,74.0L761.5,76.9L764.2,81.5L759.4,83.2L752.8,80.3ZM421.5,90.9L426.3,89.2L432.9,92.1L435.6,96.7L430.8,98.4L424.2,95.4ZM451.6,90.9L456.4,89.2L463.0,92.1L465.6,96.7L460.8,98.4L454.2,95.4ZM466.6,90.9L471.4,89.2L478.0,92.1L480.6,96.7L475.8,98.4L469.3,95.4ZM496.6,90.9L501.4,89.2L508.0,92.1L510.6,96.7L505.8,98.4L499.3,95.4ZM556.5,90.9L561.3,89.2L567.9,92.1L570.5,96.7L565.7,98.4L559.2,95.4ZM601.3,90.9L606.1,89.2L612.7,92.1L615.4,96.7L610.6,98.4L604.0,95.4ZM646.1,90.9L650.9,89.2L657.4,92.1L660.1,96.7L655.3,98.4L648.7,95.4ZM661.0,90.9L665.8,89.2L672.3,92.1L675.0,96.7L670.2,98.4L663.6,95.4ZM690.7,90.9L695.5,89.2L702.1,92.1L704.8,96.7L700.0,98.4L693.4,95.4ZM705.6,90.9L710.4,89.2L717.0,92.1L719.6,96.7L714.8,98.4L708.3,95.4ZM720.4,90.9L725.2,89.2L731.8,92.1L734.5,96.7L729.7,98.4L723.1,95.4ZM735.3,90.9L740.1,89.2L746.7,92.1L749.3,96.7L744.5,98.4L738.0,95.4ZM765.0,90.9L769.8,89.2L776.3,92.1L779.0,96.7L774.2,98.4L767.6,95.4ZM809.4,90.9L814.2,89.2L820.8,92.1L823.4,96.7L818.6,98.4L812.1,95.4ZM466.6,106.0L471.4,104.3L478.0,107.2L480.6,111.8L475.8,113.5L469.3,110.6ZM481.6,106.0L486.4,104.3L493.0,107.2L495.7,111.8L490.8,113.5L484.3,110.6ZM496.6,106.0L501.4,104.3L508.0,107.2L510.6,111.8L505.8,113.5L499.3,110.6ZM511.6,106.0L516.4,104.3L523.0,107.2L525.6,111.8L520.8,113.5L514.3,110.6ZM541.5,106.0L546.3,104.3L552.9,107.2L555.6,111.8L550.8,113.5L544.2,110.6ZM556.5,106.0L561.3,104.3L567.9,107.2L570.5,111.8L565.7,113.5L559.2,110.6ZM571.4,106.0L576.3,104.3L582.8,107.2L585.5,111.8L580.7,113.5L574.1,110.6ZM601.3,106.0L606.1,104.3L612.7,107.2L615.4,111.8L610.6,113.5L604.0,110.6ZM616.2,106.0L621.0,104.3L627.6,107.2L630.3,111.8L625.5,113.5L618.9,110.6ZM646.1,106.0L650.9,104.3L657.4,107.2L660.1,111.8L655.3,113.5L648.7,110.6ZM675.8,106.0L680.6,104.3L687.2,107.2L689.9,111.8L685.1,113.5L678.5,110.6ZM690.7,106.0L695.5,104.3L702.1,107.2L704.8,111.8L700.0,113.5L693.4,110.6ZM705.6,106.0L710.4,104.3L717.0,107.2L719.6,111.8L714.8,113.5L708.3,110.6ZM720.4,106.0L725.2,104.3L731.8,107.2L734.5,111.8L729.7,113.5L723.1,110.6ZM765.0,106.0L769.8,104.3L776.3,107.2L779.0,111.8L774.2,113.5L767.6,110.6ZM451.6,121.2L456.4,119.5L463.0,122.4L465.6,127.0L460.8,128.7L454.2,125.8ZM511.6,121.2L516.4,119.5L523.0,122.4L525.6,127.0L520.8,128.7L514.3,125.8ZM556.5,121.2L561.3,119.5L567.9,122.4L570.5,127.0L565.7,128.7L559.2,125.8ZM571.4,121.2L576.3,119.5L582.8,122.4L585.5,127.0L580.7,128.7L574.1,125.8ZM586.4,121.2L591.2,119.5L597.8,122.4L600.4,127.0L595.6,128.7L589.1,125.8ZM601.3,121.2L606.1,119.5L612.7,122.4L615.4,127.0L610.6,128.7L604.0,125.8ZM661.0,121.2L665.8,119.5L672.3,122.4L675.0,127.0L670.2,128.7L663.6,125.8ZM675.8,121.2L680.6,119.5L687.2,122.4L689.9,127.0L685.1,128.7L678.5,125.8ZM765.0,121.2L769.8,119.5L776.3,122.4L779.0,127.0L774.2,128.7L767.6,125.8ZM436.6,136.3L441.4,134.6L447.9,137.6L450.6,142.1L445.8,143.8L439.2,140.9ZM451.6,136.3L456.4,134.6L463.0,137.6L465.6,142.1L460.8,143.8L454.2,140.9ZM466.6,136.3L471.4,134.6L478.0,137.6L480.6,142.1L475.8,143.8L469.3,140.9ZM496.6,136.3L501.4,134.6L508.0,137.6L510.6,142.1L505.8,143.8L499.3,140.9ZM511.6,136.3L516.4,134.6L523.0,137.6L525.6,142.1L520.8,143.8L514.3,140.9ZM541.5,136.3L546.3,134.6L552.9,137.6L555.6,142.1L550.8,143.8L544.2,140.9ZM556.5,136.3L561.3,134.6L567.9,137.6L570.5,142.1L565.7,143.8L559.2,140.9ZM571.4,136.3L576.3,134.6L582.8,137.6L585.5,142.1L580.7,143.8L574.1,140.9ZM586.4,136.3L591.2,134.6L597.8,137.6L600.4,142.1L595.6,143.8L589.1,140.9ZM646.1,136.3L650.9,134.6L657.4,137.6L660.1,142.1L655.3,143.8L648.7,140.9ZM421.5,151.5L426.3,149.8L432.9,152.7L435.6,157.3L430.8,159.0L424.2,156.1ZM436.6,151.5L441.4,149.8L447.9,152.7L450.6,157.3L445.8,159.0L439.2,156.1ZM526.6,151.5L531.4,149.8L537.9,152.7L540.6,157.3L535.8,159.0L529.2,156.1ZM541.5,151.5L546.3,149.8L552.9,152.7L555.6,157.3L550.8,159.0L544.2,156.1ZM646.1,151.5L650.9,149.8L657.4,152.7L660.1,157.3L655.3,159.0L648.7,156.1ZM690.7,151.5L695.5,149.8L702.1,152.7L704.8,157.3L700.0,159.0L693.4,156.1ZM705.6,151.5L710.4,149.8L717.0,152.7L719.6,157.3L714.8,159.0L708.3,156.1ZM735.3,151.5L740.1,149.8L746.7,152.7L749.3,157.3L744.5,159.0L738.0,156.1ZM765.0,151.5L769.8,149.8L776.3,152.7L779.0,157.3L774.2,159.0L767.6,156.1ZM779.8,151.5L784.6,149.8L791.2,152.7L793.8,157.3L789.0,159.0L782.4,156.1ZM794.6,151.5L799.4,149.8L806.0,152.7L808.6,157.3L803.8,159.0L797.3,156.1ZM809.4,151.5L814.2,149.8L820.8,152.7L823.4,157.3L818.6,159.0L812.1,156.1ZM466.6,166.7L471.4,165.0L478.0,167.9L480.6,172.5L475.8,174.2L469.3,171.2ZM481.6,166.7L486.4,165.0L493.0,167.9L495.7,172.5L490.8,174.2L484.3,171.2ZM496.6,166.7L501.4,165.0L508.0,167.9L510.6,172.5L505.8,174.2L499.3,171.2ZM541.5,166.7L546.3,165.0L552.9,167.9L555.6,172.5L550.8,174.2L544.2,171.2ZM556.5,166.7L561.3,165.0L567.9,167.9L570.5,172.5L565.7,174.2L559.2,171.2ZM571.4,166.7L576.3,165.0L582.8,167.9L585.5,172.5L580.7,174.2L574.1,171.2ZM586.4,166.7L591.2,165.0L597.8,167.9L600.4,172.5L595.6,174.2L589.1,171.2ZM601.3,166.7L606.1,165.0L612.7,167.9L615.4,172.5L610.6,174.2L604.0,171.2ZM616.2,166.7L621.0,165.0L627.6,167.9L630.3,172.5L625.5,174.2L618.9,171.2ZM735.3,166.7L740.1,165.0L746.7,167.9L749.3,172.5L744.5,174.2L738.0,171.2ZM750.1,166.7L754.9,165.0L761.5,167.9L764.2,172.5L759.4,174.2L752.8,171.2ZM779.8,166.7L784.6,165.0L791.2,167.9L793.8,172.5L789.0,174.2L782.4,171.2ZM794.6,166.7L799.4,165.0L806.0,167.9L808.6,172.5L803.8,174.2L797.3,171.2ZM809.4,166.7L814.2,165.0L820.8,167.9L823.4,172.5L818.6,174.2L812.1,171.2ZM496.6,181.8L501.4,180.1L508.0,183.0L510.6,187.6L505.8,189.3L499.3,186.4ZM511.6,181.8L516.4,180.1L523.0,183.0L525.6,187.6L520.8,189.3L514.3,186.4ZM526.6,181.8L531.4,180.1L537.9,183.0L540.6,187.6L535.8,189.3L529.2,186.4ZM556.5,181.8L561.3,180.1L567.9,183.0L570.5,187.6L565.7,189.3L559.2,186.4ZM571.4,181.8L576.3,180.1L582.8,183.0L585.5,187.6L580.7,189.3L574.1,186.4ZM601.3,181.8L606.1,180.1L612.7,183.0L615.4,187.6L610.6,189.3L604.0,186.4ZM616.2,181.8L621.0,180.1L627.6,183.0L630.3,187.6L625.5,189.3L618.9,186.4ZM631.2,181.8L636.0,180.1L642.5,183.0L645.2,187.6L640.4,189.3L633.8,186.4ZM646.1,181.8L650.9,180.1L657.4,183.0L660.1,187.6L655.3,189.3L648.7,186.4ZM690.7,181.8L695.5,180.1L702.1,183.0L704.8,187.6L700.0,189.3L693.4,186.4ZM720.4,181.8L725.2,180.1L731.8,183.0L734.5,187.6L729.7,189.3L723.1,186.4ZM735.3,181.8L740.1,180.1L746.7,183.0L749.3,187.6L744.5,189.3L738.0,186.4ZM779.8,181.8L784.6,180.1L791.2,183.0L793.8,187.6L789.0,189.3L782.4,186.4ZM794.6,181.8L799.4,180.1L806.0,183.0L808.6,187.6L803.8,189.3L797.3,186.4ZM451.6,197.0L456.4,195.3L463.0,198.2L465.6,202.8L460.8,204.5L454.2,201.6ZM466.6,197.0L471.4,195.3L478.0,198.2L480.6,202.8L475.8,204.5L469.3,201.6ZM496.6,197.0L501.4,195.3L508.0,198.2L510.6,202.8L505.8,204.5L499.3,201.6ZM511.6,197.0L516.4,195.3L523.0,198.2L525.6,202.8L520.8,204.5L514.3,201.6ZM526.6,197.0L531.4,195.3L537.9,198.2L540.6,202.8L535.8,204.5L529.2,201.6ZM556.5,197.0L561.3,195.3L567.9,198.2L570.5,202.8L565.7,204.5L559.2,201.6ZM601.3,197.0L606.1,195.3L612.7,198.2L615.4,202.8L610.6,204.5L604.0,201.6ZM616.2,197.0L621.0,195.3L627.6,198.2L630.3,202.8L625.5,204.5L618.9,201.6ZM631.2,197.0L636.0,195.3L642.5,198.2L645.2,202.8L640.4,204.5L633.8,201.6ZM646.1,197.0L650.9,195.3L657.4,198.2L660.1,202.8L655.3,204.5L648.7,201.6ZM675.8,197.0L680.6,195.3L687.2,198.2L689.9,202.8L685.1,204.5L678.5,201.6ZM690.7,197.0L695.5,195.3L702.1,198.2L704.8,202.8L700.0,204.5L693.4,201.6ZM765.0,197.0L769.8,195.3L776.3,198.2L779.0,202.8L774.2,204.5L767.6,201.6ZM421.5,212.1L426.3,210.4L432.9,213.4L435.6,217.9L430.8,219.6L424.2,216.7ZM466.6,212.1L471.4,210.4L478.0,213.4L480.6,217.9L475.8,219.6L469.3,216.7ZM481.6,212.1L486.4,210.4L493.0,213.4L495.7,217.9L490.8,219.6L484.3,216.7ZM511.6,212.1L516.4,210.4L523.0,213.4L525.6,217.9L520.8,219.6L514.3,216.7ZM541.5,212.1L546.3,210.4L552.9,213.4L555.6,217.9L550.8,219.6L544.2,216.7ZM556.5,212.1L561.3,210.4L567.9,213.4L570.5,217.9L565.7,219.6L559.2,216.7ZM631.2,212.1L636.0,210.4L642.5,213.4L645.2,217.9L640.4,219.6L633.8,216.7ZM675.8,212.1L680.6,210.4L687.2,213.4L689.9,217.9L685.1,219.6L678.5,216.7ZM690.7,212.1L695.5,210.4L702.1,213.4L704.8,217.9L700.0,219.6L693.4,216.7ZM735.3,212.1L740.1,210.4L746.7,213.4L749.3,217.9L744.5,219.6L738.0,216.7ZM750.1,212.1L754.9,210.4L761.5,213.4L764.2,217.9L759.4,219.6L752.8,216.7ZM779.8,212.1L784.6,210.4L791.2,213.4L793.8,217.9L789.0,219.6L782.4,216.7ZM421.5,227.3L426.3,225.6L432.9,228.5L435.6,233.1L430.8,234.8L424.2,231.9ZM451.6,227.3L456.4,225.6L463.0,228.5L465.6,233.1L460.8,234.8L454.2,231.9ZM466.6,227.3L471.4,225.6L478.0,228.5L480.6,233.1L475.8,234.8L469.3,231.9ZM481.6,227.3L486.4,225.6L493.0,228.5L495.7,233.1L490.8,234.8L484.3,231.9ZM511.6,227.3L516.4,225.6L523.0,228.5L525.6,233.1L520.8,234.8L514.3,231.9ZM556.5,227.3L561.3,225.6L567.9,228.5L570.5,233.1L565.7,234.8L559.2,231.9ZM586.4,227.3L591.2,225.6L597.8,228.5L600.4,233.1L595.6,234.8L589.1,231.9ZM616.2,227.3L621.0,225.6L627.6,228.5L630.3,233.1L625.5,234.8L618.9,231.9ZM631.2,227.3L636.0,225.6L642.5,228.5L645.2,233.1L640.4,234.8L633.8,231.9ZM646.1,227.3L650.9,225.6L657.4,228.5L660.1,233.1L655.3,234.8L648.7,231.9ZM661.0,227.3L665.8,225.6L672.3,228.5L675.0,233.1L670.2,234.8L663.6,231.9ZM690.7,227.3L695.5,225.6L702.1,228.5L704.8,233.1L700.0,234.8L693.4,231.9ZM705.6,227.3L710.4,225.6L717.0,228.5L719.6,233.1L714.8,234.8L708.3,231.9ZM720.4,227.3L725.2,225.6L731.8,228.5L734.5,233.1L729.7,234.8L723.1,231.9ZM421.5,242.5L426.3,240.8L432.9,243.7L435.6,248.3L430.8,250.0L424.2,247.0ZM436.6,242.5L441.4,240.8L447.9,243.7L450.6,248.3L445.8,250.0L439.2,247.0ZM451.6,242.5L456.4,240.8L463.0,243.7L465.6,248.3L460.8,250.0L454.2,247.0ZM481.6,242.5L486.4,240.8L493.0,243.7L495.7,248.3L490.8,250.0L484.3,247.0ZM496.6,242.5L501.4,240.8L508.0,243.7L510.6,248.3L505.8,250.0L499.3,247.0ZM526.6,242.5L531.4,240.8L537.9,243.7L540.6,248.3L535.8,250.0L529.2,247.0ZM541.5,242.5L546.3,240.8L552.9,243.7L555.6,248.3L550.8,250.0L544.2,247.0ZM571.4,242.5L576.3,240.8L582.8,243.7L585.5,248.3L580.7,250.0L574.1,247.0ZM616.2,242.5L621.0,240.8L627.6,243.7L630.3,248.3L625.5,250.0L618.9,247.0ZM631.2,242.5L636.0,240.8L642.5,243.7L645.2,248.3L640.4,250.0L633.8,247.0ZM735.3,242.5L740.1,240.8L746.7,243.7L749.3,248.3L744.5,250.0L738.0,247.0ZM765.0,242.5L769.8,240.8L776.3,243.7L779.0,248.3L774.2,250.0L767.6,247.0ZM164.5,257.6L169.3,255.9L175.9,258.8L178.5,263.4L173.7,265.1L167.1,262.2ZM210.0,257.6L214.8,255.9L221.4,258.8L224.1,263.4L219.3,265.1L212.7,262.2ZM225.2,257.6L230.0,255.9L236.6,258.8L239.2,263.4L234.4,265.1L227.9,262.2ZM240.4,257.6L245.2,255.9L251.7,258.8L254.4,263.4L249.6,265.1L243.0,262.2ZM300.9,257.6L305.7,255.9L312.3,258.8L314.9,263.4L310.1,265.1L303.6,262.2ZM361.3,257.6L366.1,255.9L372.7,258.8L375.3,263.4L370.5,265.1L363.9,262.2ZM376.4,257.6L381.2,255.9L387.7,258.8L390.4,263.4L385.6,265.1L379.0,262.2ZM421.5,257.6L426.3,255.9L432.9,258.8L435.6,263.4L430.8,265.1L424.2,262.2ZM436.6,257.6L441.4,255.9L447.9,258.8L450.6,263.4L445.8,265.1L439.2,262.2ZM451.6,257.6L456.4,255.9L463.0,258.8L465.6,263.4L460.8,265.1L454.2,262.2ZM496.6,257.6L501.4,255.9L508.0,258.8L510.6,263.4L505.8,265.1L499.3,262.2ZM541.5,257.6L546.3,255.9L552.9,258.8L555.6,263.4L550.8,265.1L544.2,262.2ZM556.5,257.6L561.3,255.9L567.9,258.8L570.5,263.4L565.7,265.1L559.2,262.2ZM571.4,257.6L576.3,255.9L582.8,258.8L585.5,263.4L580.7,265.1L574.1,262.2ZM601.3,257.6L606.1,255.9L612.7,258.8L615.4,263.4L610.6,265.1L604.0,262.2ZM631.2,257.6L636.0,255.9L642.5,258.8L645.2,263.4L640.4,265.1L633.8,262.2ZM675.8,257.6L680.6,255.9L687.2,258.8L689.9,263.4L685.1,265.1L678.5,262.2ZM690.7,257.6L695.5,255.9L702.1,258.8L704.8,263.4L700.0,265.1L693.4,262.2ZM735.3,257.6L740.1,255.9L746.7,258.8L749.3,263.4L744.5,265.1L738.0,262.2ZM194.9,272.8L199.7,271.1L206.2,274.0L208.9,278.6L204.1,280.3L197.5,277.4ZM316.0,272.8L320.8,271.1L327.4,274.0L330.1,278.6L325.3,280.3L318.7,277.4ZM331.1,272.8L335.9,271.1L342.5,274.0L345.2,278.6L340.4,280.3L333.8,277.4ZM376.4,272.8L381.2,271.1L387.7,274.0L390.4,278.6L385.6,280.3L379.0,277.4ZM406.5,272.8L411.3,271.1L417.9,274.0L420.5,278.6L415.7,280.3L409.1,277.4ZM451.6,272.8L456.4,271.1L463.0,274.0L465.6,278.6L460.8,280.3L454.2,277.4ZM496.6,272.8L501.4,271.1L508.0,274.0L510.6,278.6L505.8,280.3L499.3,277.4ZM511.6,272.8L516.4,271.1L523.0,274.0L525.6,278.6L520.8,280.3L514.3,277.4ZM541.5,272.8L546.3,271.1L552.9,274.0L555.6,278.6L550.8,280.3L544.2,277.4ZM556.5,272.8L561.3,271.1L567.9,274.0L570.5,278.6L565.7,280.3L559.2,277.4ZM571.4,272.8L576.3,271.1L582.8,274.0L585.5,278.6L580.7,280.3L574.1,277.4ZM661.0,272.8L665.8,271.1L672.3,274.0L675.0,278.6L670.2,280.3L663.6,277.4ZM720.4,272.8L725.2,271.1L731.8,274.0L734.5,278.6L729.7,280.3L723.1,277.4ZM735.3,272.8L740.1,271.1L746.7,274.0L749.3,278.6L744.5,280.3L738.0,277.4ZM750.1,272.8L754.9,271.1L761.5,274.0L764.2,278.6L759.4,280.3L752.8,277.4ZM210.0,287.9L214.8,286.2L221.4,289.2L224.1,293.7L219.3,295.4L212.7,292.5ZM225.2,287.9L230.0,286.2L236.6,289.2L239.2,293.7L234.4,295.4L227.9,292.5ZM240.4,287.9L245.2,286.2L251.7,289.2L254.4,293.7L249.6,295.4L243.0,292.5ZM270.6,287.9L275.4,286.2L282.0,289.2L284.7,293.7L279.9,295.4L273.3,292.5ZM526.6,287.9L531.4,286.2L537.9,289.2L540.6,293.7L535.8,295.4L529.2,292.5ZM541.5,287.9L546.3,286.2L552.9,289.2L555.6,293.7L550.8,295.4L544.2,292.5ZM556.5,287.9L561.3,286.2L567.9,289.2L570.5,293.7L565.7,295.4L559.2,292.5ZM571.4,287.9L576.3,286.2L582.8,289.2L585.5,293.7L580.7,295.4L574.1,292.5ZM586.4,287.9L591.2,286.2L597.8,289.2L600.4,293.7L595.6,295.4L589.1,292.5ZM601.3,287.9L606.1,286.2L612.7,289.2L615.4,293.7L610.6,295.4L604.0,292.5ZM646.1,287.9L650.9,286.2L657.4,289.2L660.1,293.7L655.3,295.4L648.7,292.5ZM675.8,287.9L680.6,286.2L687.2,289.2L689.9,293.7L685.1,295.4L678.5,292.5ZM690.7,287.9L695.5,286.2L702.1,289.2L704.8,293.7L700.0,295.4L693.4,292.5ZM720.4,287.9L725.2,286.2L731.8,289.2L734.5,293.7L729.7,295.4L723.1,292.5ZM735.3,287.9L740.1,286.2L746.7,289.2L749.3,293.7L744.5,295.4L738.0,292.5ZM750.1,287.9L754.9,286.2L761.5,289.2L764.2,293.7L759.4,295.4L752.8,292.5ZM765.0,287.9L769.8,286.2L776.3,289.2L779.0,293.7L774.2,295.4L767.6,292.5ZM779.8,287.9L784.6,286.2L791.2,289.2L793.8,293.7L789.0,295.4L782.4,292.5ZM809.4,287.9L814.2,286.2L820.8,289.2L823.4,293.7L818.6,295.4L812.1,292.5ZM179.7,303.1L184.5,301.4L191.1,304.3L193.7,308.9L188.9,310.6L182.3,307.7ZM194.9,303.1L199.7,301.4L206.2,304.3L208.9,308.9L204.1,310.6L197.5,307.7ZM210.0,303.1L214.8,301.4L221.4,304.3L224.1,308.9L219.3,310.6L212.7,307.7ZM225.2,303.1L230.0,301.4L236.6,304.3L239.2,308.9L234.4,310.6L227.9,307.7ZM240.4,303.1L245.2,301.4L251.7,304.3L254.4,308.9L249.6,310.6L243.0,307.7ZM255.5,303.1L260.3,301.4L266.9,304.3L269.6,308.9L264.8,310.6L258.2,307.7ZM270.6,303.1L275.4,301.4L282.0,304.3L284.7,308.9L279.9,310.6L273.3,307.7ZM361.3,303.1L366.1,301.4L372.7,304.3L375.3,308.9L370.5,310.6L363.9,307.7ZM376.4,303.1L381.2,301.4L387.7,304.3L390.4,308.9L385.6,310.6L379.0,307.7ZM391.4,303.1L396.2,301.4L402.8,304.3L405.5,308.9L400.7,310.6L394.1,307.7ZM406.5,303.1L411.3,301.4L417.9,304.3L420.5,308.9L415.7,310.6L409.1,307.7ZM421.5,303.1L426.3,301.4L432.9,304.3L435.6,308.9L430.8,310.6L424.2,307.7ZM466.6,303.1L471.4,301.4L478.0,304.3L480.6,308.9L475.8,310.6L469.3,307.7ZM481.6,303.1L486.4,301.4L493.0,304.3L495.7,308.9L490.8,310.6L484.3,307.7ZM511.6,303.1L516.4,301.4L523.0,304.3L525.6,308.9L520.8,310.6L514.3,307.7ZM526.6,303.1L531.4,301.4L537.9,304.3L540.6,308.9L535.8,310.6L529.2,307.7ZM556.5,303.1L561.3,301.4L567.9,304.3L570.5,308.9L565.7,310.6L559.2,307.7ZM616.2,303.1L621.0,301.4L627.6,304.3L630.3,308.9L625.5,310.6L618.9,307.7ZM646.1,303.1L650.9,301.4L657.4,304.3L660.1,308.9L655.3,310.6L648.7,307.7ZM661.0,303.1L665.8,301.4L672.3,304.3L675.0,308.9L670.2,310.6L663.6,307.7ZM720.4,303.1L725.2,301.4L731.8,304.3L734.5,308.9L729.7,310.6L723.1,307.7ZM735.3,303.1L740.1,301.4L746.7,304.3L749.3,308.9L744.5,310.6L738.0,307.7ZM750.1,303.1L754.9,301.4L761.5,304.3L764.2,308.9L759.4,310.6L752.8,307.7ZM765.0,303.1L769.8,301.4L776.3,304.3L779.0,308.9L774.2,310.6L767.6,307.7ZM164.5,318.3L169.3,316.6L175.9,319.5L178.5,324.1L173.7,325.8L167.1,322.8ZM194.9,318.3L199.7,316.6L206.2,319.5L208.9,324.1L204.1,325.8L197.5,322.8ZM255.5,318.3L260.3,316.6L266.9,319.5L269.6,324.1L264.8,325.8L258.2,322.8ZM270.6,318.3L275.4,316.6L282.0,319.5L284.7,324.1L279.9,325.8L273.3,322.8ZM285.8,318.3L290.6,316.6L297.2,319.5L299.8,324.1L295.0,325.8L288.4,322.8ZM376.4,318.3L381.2,316.6L387.7,319.5L390.4,324.1L385.6,325.8L379.0,322.8ZM406.5,318.3L411.3,316.6L417.9,319.5L420.5,324.1L415.7,325.8L409.1,322.8ZM421.5,318.3L426.3,316.6L432.9,319.5L435.6,324.1L430.8,325.8L424.2,322.8ZM466.6,318.3L471.4,316.6L478.0,319.5L480.6,324.1L475.8,325.8L469.3,322.8ZM481.6,318.3L486.4,316.6L493.0,319.5L495.7,324.1L490.8,325.8L484.3,322.8ZM541.5,318.3L546.3,316.6L552.9,319.5L555.6,324.1L550.8,325.8L544.2,322.8ZM571.4,318.3L576.3,316.6L582.8,319.5L585.5,324.1L580.7,325.8L574.1,322.8ZM601.3,318.3L606.1,316.6L612.7,319.5L615.4,324.1L610.6,325.8L604.0,322.8ZM616.2,318.3L621.0,316.6L627.6,319.5L630.3,324.1L625.5,325.8L618.9,322.8ZM646.1,318.3L650.9,316.6L657.4,319.5L660.1,324.1L655.3,325.8L648.7,322.8ZM675.8,318.3L680.6,316.6L687.2,319.5L689.9,324.1L685.1,325.8L678.5,322.8ZM690.7,318.3L695.5,316.6L702.1,319.5L704.8,324.1L700.0,325.8L693.4,322.8ZM720.4,318.3L725.2,316.6L731.8,319.5L734.5,324.1L729.7,325.8L723.1,322.8ZM210.0,333.4L214.8,331.7L221.4,334.6L224.1,339.2L219.3,340.9L212.7,338.0ZM240.4,333.4L245.2,331.7L251.7,334.6L254.4,339.2L249.6,340.9L243.0,338.0ZM255.5,333.4L260.3,331.7L266.9,334.6L269.6,339.2L264.8,340.9L258.2,338.0ZM285.8,333.4L290.6,331.7L297.2,334.6L299.8,339.2L295.0,340.9L288.4,338.0ZM300.9,333.4L305.7,331.7L312.3,334.6L314.9,339.2L310.1,340.9L303.6,338.0ZM316.0,333.4L320.8,331.7L327.4,334.6L330.1,339.2L325.3,340.9L318.7,338.0ZM376.4,333.4L381.2,331.7L387.7,334.6L390.4,339.2L385.6,340.9L379.0,338.0ZM391.4,333.4L396.2,331.7L402.8,334.6L405.5,339.2L400.7,340.9L394.1,338.0ZM481.6,333.4L486.4,331.7L493.0,334.6L495.7,339.2L490.8,340.9L484.3,338.0ZM511.6,333.4L516.4,331.7L523.0,334.6L525.6,339.2L520.8,340.9L514.3,338.0ZM601.3,333.4L606.1,331.7L612.7,334.6L615.4,339.2L610.6,340.9L604.0,338.0ZM616.2,333.4L621.0,331.7L627.6,334.6L630.3,339.2L625.5,340.9L618.9,338.0ZM631.2,333.4L636.0,331.7L642.5,334.6L645.2,339.2L640.4,340.9L633.8,338.0ZM646.1,333.4L650.9,331.7L657.4,334.6L660.1,339.2L655.3,340.9L648.7,338.0ZM661.0,333.4L665.8,331.7L672.3,334.6L675.0,339.2L670.2,340.9L663.6,338.0ZM675.8,333.4L680.6,331.7L687.2,334.6L689.9,339.2L685.1,340.9L678.5,338.0ZM690.7,333.4L695.5,331.7L702.1,334.6L704.8,339.2L700.0,340.9L693.4,338.0ZM705.6,333.4L710.4,331.7L717.0,334.6L719.6,339.2L714.8,340.9L708.3,338.0ZM735.3,333.4L740.1,331.7L746.7,334.6L749.3,339.2L744.5,340.9L738.0,338.0ZM765.0,333.4L769.8,331.7L776.3,334.6L779.0,339.2L774.2,340.9L767.6,338.0ZM779.8,333.4L784.6,331.7L791.2,334.6L793.8,339.2L789.0,340.9L782.4,338.0ZM164.5,348.6L169.3,346.9L175.9,349.8L178.5,354.4L173.7,356.1L167.1,353.2ZM240.4,348.6L245.2,346.9L251.7,349.8L254.4,354.4L249.6,356.1L243.0,353.2ZM255.5,348.6L260.3,346.9L266.9,349.8L269.6,354.4L264.8,356.1L258.2,353.2ZM285.8,348.6L290.6,346.9L297.2,349.8L299.8,354.4L295.0,356.1L288.4,353.2ZM316.0,348.6L320.8,346.9L327.4,349.8L330.1,354.4L325.3,356.1L318.7,353.2ZM391.4,348.6L396.2,346.9L402.8,349.8L405.5,354.4L400.7,356.1L394.1,353.2ZM436.6,348.6L441.4,346.9L447.9,349.8L450.6,354.4L445.8,356.1L439.2,353.2ZM451.6,348.6L456.4,346.9L463.0,349.8L465.6,354.4L460.8,356.1L454.2,353.2ZM586.4,348.6L591.2,346.9L597.8,349.8L600.4,354.4L595.6,356.1L589.1,353.2ZM601.3,348.6L606.1,346.9L612.7,349.8L615.4,354.4L610.6,356.1L604.0,353.2ZM616.2,348.6L621.0,346.9L627.6,349.8L630.3,354.4L625.5,356.1L618.9,353.2ZM661.0,348.6L665.8,346.9L672.3,349.8L675.0,354.4L670.2,356.1L663.6,353.2ZM735.3,348.6L740.1,346.9L746.7,349.8L749.3,354.4L744.5,356.1L738.0,353.2ZM779.8,348.6L784.6,346.9L791.2,349.8L793.8,354.4L789.0,356.1L782.4,353.2ZM794.6,348.6L799.4,346.9L806.0,349.8L808.6,354.4L803.8,356.1L797.3,353.2ZM225.2,363.7L230.0,362.0L236.6,365.0L239.2,369.5L234.4,371.2L227.9,368.3ZM240.4,363.7L245.2,362.0L251.7,365.0L254.4,369.5L249.6,371.2L243.0,368.3ZM255.5,363.7L260.3,362.0L266.9,365.0L269.6,369.5L264.8,371.2L258.2,368.3ZM300.9,363.7L305.7,362.0L312.3,365.0L314.9,369.5L310.1,371.2L303.6,368.3ZM316.0,363.7L320.8,362.0L327.4,365.0L330.1,369.5L325.3,371.2L318.7,368.3ZM346.2,363.7L351.0,362.0L357.6,365.0L360.2,369.5L355.4,371.2L348.9,368.3ZM391.4,363.7L396.2,362.0L402.8,365.0L405.5,369.5L400.7,371.2L394.1,368.3ZM406.5,363.7L411.3,362.0L417.9,365.0L420.5,369.5L415.7,371.2L409.1,368.3ZM421.5,363.7L426.3,362.0L432.9,365.0L435.6,369.5L430.8,371.2L424.2,368.3ZM436.6,363.7L441.4,362.0L447.9,365.0L450.6,369.5L445.8,371.2L439.2,368.3ZM496.6,363.7L501.4,362.0L508.0,365.0L510.6,369.5L505.8,371.2L499.3,368.3ZM511.6,363.7L516.4,362.0L523.0,365.0L525.6,369.5L520.8,371.2L514.3,368.3ZM526.6,363.7L531.4,362.0L537.9,365.0L540.6,369.5L535.8,371.2L529.2,368.3ZM541.5,363.7L546.3,362.0L552.9,365.0L555.6,369.5L550.8,371.2L544.2,368.3ZM556.5,363.7L561.3,362.0L567.9,365.0L570.5,369.5L565.7,371.2L559.2,368.3ZM571.4,363.7L576.3,362.0L582.8,365.0L585.5,369.5L580.7,371.2L574.1,368.3ZM601.3,363.7L606.1,362.0L612.7,365.0L615.4,369.5L610.6,371.2L604.0,368.3ZM631.2,363.7L636.0,362.0L642.5,365.0L645.2,369.5L640.4,371.2L633.8,368.3ZM661.0,363.7L665.8,362.0L672.3,365.0L675.0,369.5L670.2,371.2L663.6,368.3ZM675.8,363.7L680.6,362.0L687.2,365.0L689.9,369.5L685.1,371.2L678.5,368.3ZM735.3,363.7L740.1,362.0L746.7,365.0L749.3,369.5L744.5,371.2L738.0,368.3ZM750.1,363.7L754.9,362.0L761.5,365.0L764.2,369.5L759.4,371.2L752.8,368.3ZM794.6,363.7L799.4,362.0L806.0,365.0L808.6,369.5L803.8,371.2L797.3,368.3ZM809.4,363.7L814.2,362.0L820.8,365.0L823.4,369.5L818.6,371.2L812.1,368.3ZM194.9,378.9L199.7,377.2L206.2,380.1L208.9,384.7L204.1,386.4L197.5,383.5ZM255.5,378.9L260.3,377.2L266.9,380.1L269.6,384.7L264.8,386.4L258.2,383.5ZM270.6,378.9L275.4,377.2L282.0,380.1L284.7,384.7L279.9,386.4L273.3,383.5ZM285.8,378.9L290.6,377.2L297.2,380.1L299.8,384.7L295.0,386.4L288.4,383.5ZM346.2,378.9L351.0,377.2L357.6,380.1L360.2,384.7L355.4,386.4L348.9,383.5ZM361.3,378.9L366.1,377.2L372.7,380.1L375.3,384.7L370.5,386.4L363.9,383.5ZM421.5,378.9L426.3,377.2L432.9,380.1L435.6,384.7L430.8,386.4L424.2,383.5ZM466.6,378.9L471.4,377.2L478.0,380.1L480.6,384.7L475.8,386.4L469.3,383.5ZM481.6,378.9L486.4,377.2L493.0,380.1L495.7,384.7L490.8,386.4L484.3,383.5ZM556.5,378.9L561.3,377.2L567.9,380.1L570.5,384.7L565.7,386.4L559.2,383.5ZM586.4,378.9L591.2,377.2L597.8,380.1L600.4,384.7L595.6,386.4L589.1,383.5ZM601.3,378.9L606.1,377.2L612.7,380.1L615.4,384.7L610.6,386.4L604.0,383.5ZM646.1,378.9L650.9,377.2L657.4,380.1L660.1,384.7L655.3,386.4L648.7,383.5ZM675.8,378.9L680.6,377.2L687.2,380.1L689.9,384.7L685.1,386.4L678.5,383.5ZM720.4,378.9L725.2,377.2L731.8,380.1L734.5,384.7L729.7,386.4L723.1,383.5ZM750.1,378.9L754.9,377.2L761.5,380.1L764.2,384.7L759.4,386.4L752.8,383.5ZM164.5,394.1L169.3,392.4L175.9,395.3L178.5,399.9L173.7,401.6L167.1,398.6ZM179.7,394.1L184.5,392.4L191.1,395.3L193.7,399.9L188.9,401.6L182.3,398.6ZM240.4,394.1L245.2,392.4L251.7,395.3L254.4,399.9L249.6,401.6L243.0,398.6ZM316.0,394.1L320.8,392.4L327.4,395.3L330.1,399.9L325.3,401.6L318.7,398.6ZM331.1,394.1L335.9,392.4L342.5,395.3L345.2,399.9L340.4,401.6L333.8,398.6ZM346.2,394.1L351.0,392.4L357.6,395.3L360.2,399.9L355.4,401.6L348.9,398.6ZM361.3,394.1L366.1,392.4L372.7,395.3L375.3,399.9L370.5,401.6L363.9,398.6ZM376.4,394.1L381.2,392.4L387.7,395.3L390.4,399.9L385.6,401.6L379.0,398.6ZM421.5,394.1L426.3,392.4L432.9,395.3L435.6,399.9L430.8,401.6L424.2,398.6ZM436.6,394.1L441.4,392.4L447.9,395.3L450.6,399.9L445.8,401.6L439.2,398.6ZM466.6,394.1L471.4,392.4L478.0,395.3L480.6,399.9L475.8,401.6L469.3,398.6ZM586.4,394.1L591.2,392.4L597.8,395.3L600.4,399.9L595.6,401.6L589.1,398.6ZM616.2,394.1L621.0,392.4L627.6,395.3L630.3,399.9L625.5,401.6L618.9,398.6ZM661.0,394.1L665.8,392.4L672.3,395.3L675.0,399.9L670.2,401.6L663.6,398.6ZM675.8,394.1L680.6,392.4L687.2,395.3L689.9,399.9L685.1,401.6L678.5,398.6ZM750.1,394.1L754.9,392.4L761.5,395.3L764.2,399.9L759.4,401.6L752.8,398.6ZM794.6,394.1L799.4,392.4L806.0,395.3L808.6,399.9L803.8,401.6L797.3,398.6ZM179.7,409.2L184.5,407.5L191.1,410.4L193.7,415.0L188.9,416.7L182.3,413.8ZM194.9,409.2L199.7,407.5L206.2,410.4L208.9,415.0L204.1,416.7L197.5,413.8ZM255.5,409.2L260.3,407.5L266.9,410.4L269.6,415.0L264.8,416.7L258.2,413.8ZM285.8,409.2L290.6,407.5L297.2,410.4L299.8,415.0L295.0,416.7L288.4,413.8ZM300.9,409.2L305.7,407.5L312.3,410.4L314.9,415.0L310.1,416.7L303.6,413.8ZM346.2,409.2L351.0,407.5L357.6,410.4L360.2,415.0L355.4,416.7L348.9,413.8ZM361.3,409.2L366.1,407.5L372.7,410.4L375.3,415.0L370.5,416.7L363.9,413.8ZM391.4,409.2L396.2,407.5L402.8,410.4L405.5,415.0L400.7,416.7L394.1,413.8ZM451.6,409.2L456.4,407.5L463.0,410.4L465.6,415.0L460.8,416.7L454.2,413.8ZM466.6,409.2L471.4,407.5L478.0,410.4L480.6,415.0L475.8,416.7L469.3,413.8ZM481.6,409.2L486.4,407.5L493.0,410.4L495.7,415.0L490.8,416.7L484.3,413.8ZM496.6,409.2L501.4,407.5L508.0,410.4L510.6,415.0L505.8,416.7L499.3,413.8ZM556.5,409.2L561.3,407.5L567.9,410.4L570.5,415.0L565.7,416.7L559.2,413.8ZM571.4,409.2L576.3,407.5L582.8,410.4L585.5,415.0L580.7,416.7L574.1,413.8ZM646.1,409.2L650.9,407.5L657.4,410.4L660.1,415.0L655.3,416.7L648.7,413.8ZM675.8,409.2L680.6,407.5L687.2,410.4L689.9,415.0L685.1,416.7L678.5,413.8ZM690.7,409.2L695.5,407.5L702.1,410.4L704.8,415.0L700.0,416.7L693.4,413.8ZM705.6,409.2L710.4,407.5L717.0,410.4L719.6,415.0L714.8,416.7L708.3,413.8ZM720.4,409.2L725.2,407.5L731.8,410.4L734.5,415.0L729.7,416.7L723.1,413.8ZM735.3,409.2L740.1,407.5L746.7,410.4L749.3,415.0L744.5,416.7L738.0,413.8ZM794.6,409.2L799.4,407.5L806.0,410.4L808.6,415.0L803.8,416.7L797.3,413.8ZM179.7,424.4L184.5,422.7L191.1,425.6L193.7,430.2L188.9,431.9L182.3,429.0ZM240.4,424.4L245.2,422.7L251.7,425.6L254.4,430.2L249.6,431.9L243.0,429.0ZM270.6,424.4L275.4,422.7L282.0,425.6L284.7,430.2L279.9,431.9L273.3,429.0ZM285.8,424.4L290.6,422.7L297.2,425.6L299.8,430.2L295.0,431.9L288.4,429.0ZM300.9,424.4L305.7,422.7L312.3,425.6L314.9,430.2L310.1,431.9L303.6,429.0ZM376.4,424.4L381.2,422.7L387.7,425.6L390.4,430.2L385.6,431.9L379.0,429.0ZM436.6,424.4L441.4,422.7L447.9,425.6L450.6,430.2L445.8,431.9L439.2,429.0ZM451.6,424.4L456.4,422.7L463.0,425.6L465.6,430.2L460.8,431.9L454.2,429.0ZM466.6,424.4L471.4,422.7L478.0,425.6L480.6,430.2L475.8,431.9L469.3,429.0ZM481.6,424.4L486.4,422.7L493.0,425.6L495.7,430.2L490.8,431.9L484.3,429.0ZM496.6,424.4L501.4,422.7L508.0,425.6L510.6,430.2L505.8,431.9L499.3,429.0ZM526.6,424.4L531.4,422.7L537.9,425.6L540.6,430.2L535.8,431.9L529.2,429.0ZM556.5,424.4L561.3,422.7L567.9,425.6L570.5,430.2L565.7,431.9L559.2,429.0ZM586.4,424.4L591.2,422.7L597.8,425.6L600.4,430.2L595.6,431.9L589.1,429.0ZM661.0,424.4L665.8,422.7L672.3,425.6L675.0,430.2L670.2,431.9L663.6,429.0ZM675.8,424.4L680.6,422.7L687.2,425.6L689.9,430.2L685.1,431.9L678.5,429.0ZM720.4,424.4L725.2,422.7L731.8,425.6L734.5,430.2L729.7,431.9L723.1,429.0ZM765.0,424.4L769.8,422.7L776.3,425.6L779.0,430.2L774.2,431.9L767.6,429.0ZM779.8,424.4L784.6,422.7L791.2,425.6L793.8,430.2L789.0,431.9L782.4,429.0ZM794.6,424.4L799.4,422.7L806.0,425.6L808.6,430.2L803.8,431.9L797.3,429.0ZM179.7,439.5L184.5,437.8L191.1,440.8L193.7,445.3L188.9,447.0L182.3,444.1ZM194.9,439.5L199.7,437.8L206.2,440.8L208.9,445.3L204.1,447.0L197.5,444.1ZM210.0,439.5L214.8,437.8L221.4,440.8L224.1,445.3L219.3,447.0L212.7,444.1ZM285.8,439.5L290.6,437.8L297.2,440.8L299.8,445.3L295.0,447.0L288.4,444.1ZM300.9,439.5L305.7,437.8L312.3,440.8L314.9,445.3L310.1,447.0L303.6,444.1ZM316.0,439.5L320.8,437.8L327.4,440.8L330.1,445.3L325.3,447.0L318.7,444.1ZM346.2,439.5L351.0,437.8L357.6,440.8L360.2,445.3L355.4,447.0L348.9,444.1ZM391.4,439.5L396.2,437.8L402.8,440.8L405.5,445.3L400.7,447.0L394.1,444.1ZM406.5,439.5L411.3,437.8L417.9,440.8L420.5,445.3L415.7,447.0L409.1,444.1ZM436.6,439.5L441.4,437.8L447.9,440.8L450.6,445.3L445.8,447.0L439.2,444.1ZM451.6,439.5L456.4,437.8L463.0,440.8L465.6,445.3L460.8,447.0L454.2,444.1ZM541.5,439.5L546.3,437.8L552.9,440.8L555.6,445.3L550.8,447.0L544.2,444.1ZM556.5,439.5L561.3,437.8L567.9,440.8L570.5,445.3L565.7,447.0L559.2,444.1ZM616.2,439.5L621.0,437.8L627.6,440.8L630.3,445.3L625.5,447.0L618.9,444.1ZM675.8,439.5L680.6,437.8L687.2,440.8L689.9,445.3L685.1,447.0L678.5,444.1ZM690.7,439.5L695.5,437.8L702.1,440.8L704.8,445.3L700.0,447.0L693.4,444.1ZM750.1,439.5L754.9,437.8L761.5,440.8L764.2,445.3L759.4,447.0L752.8,444.1ZM765.0,439.5L769.8,437.8L776.3,440.8L779.0,445.3L774.2,447.0L767.6,444.1ZM809.4,439.5L814.2,437.8L820.8,440.8L823.4,445.3L818.6,447.0L812.1,444.1ZM210.0,454.7L214.8,453.0L221.4,455.9L224.1,460.5L219.3,462.2L212.7,459.3ZM240.4,454.7L245.2,453.0L251.7,455.9L254.4,460.5L249.6,462.2L243.0,459.3ZM285.8,454.7L290.6,453.0L297.2,455.9L299.8,460.5L295.0,462.2L288.4,459.3ZM300.9,454.7L305.7,453.0L312.3,455.9L314.9,460.5L310.1,462.2L303.6,459.3ZM346.2,454.7L351.0,453.0L357.6,455.9L360.2,460.5L355.4,462.2L348.9,459.3ZM391.4,454.7L396.2,453.0L402.8,455.9L405.5,460.5L400.7,462.2L394.1,459.3ZM421.5,454.7L426.3,453.0L432.9,455.9L435.6,460.5L430.8,462.2L424.2,459.3ZM451.6,454.7L456.4,453.0L463.0,455.9L465.6,460.5L460.8,462.2L454.2,459.3ZM511.6,454.7L516.4,453.0L523.0,455.9L525.6,460.5L520.8,462.2L514.3,459.3ZM526.6,454.7L531.4,453.0L537.9,455.9L540.6,460.5L535.8,462.2L529.2,459.3ZM541.5,454.7L546.3,453.0L552.9,455.9L555.6,460.5L550.8,462.2L544.2,459.3ZM571.4,454.7L576.3,453.0L582.8,455.9L585.5,460.5L580.7,462.2L574.1,459.3ZM646.1,454.7L650.9,453.0L657.4,455.9L660.1,460.5L655.3,462.2L648.7,459.3ZM661.0,454.7L665.8,453.0L672.3,455.9L675.0,460.5L670.2,462.2L663.6,459.3ZM705.6,454.7L710.4,453.0L717.0,455.9L719.6,460.5L714.8,462.2L708.3,459.3ZM720.4,454.7L725.2,453.0L731.8,455.9L734.5,460.5L729.7,462.2L723.1,459.3ZM765.0,454.7L769.8,453.0L776.3,455.9L779.0,460.5L774.2,462.2L767.6,459.3ZM779.8,454.7L784.6,453.0L791.2,455.9L793.8,460.5L789.0,462.2L782.4,459.3ZM164.5,469.9L169.3,468.2L175.9,471.1L178.5,475.7L173.7,477.4L167.1,474.4ZM194.9,469.9L199.7,468.2L206.2,471.1L208.9,475.7L204.1,477.4L197.5,474.4ZM210.0,469.9L214.8,468.2L221.4,471.1L224.1,475.7L219.3,477.4L212.7,474.4ZM225.2,469.9L230.0,468.2L236.6,471.1L239.2,475.7L234.4,477.4L227.9,474.4ZM255.5,469.9L260.3,468.2L266.9,471.1L269.6,475.7L264.8,477.4L258.2,474.4ZM300.9,469.9L305.7,468.2L312.3,471.1L314.9,475.7L310.1,477.4L303.6,474.4ZM316.0,469.9L320.8,468.2L327.4,471.1L330.1,475.7L325.3,477.4L318.7,474.4ZM436.6,469.9L441.4,468.2L447.9,471.1L450.6,475.7L445.8,477.4L439.2,474.4ZM451.6,469.9L456.4,468.2L463.0,471.1L465.6,475.7L460.8,477.4L454.2,474.4ZM481.6,469.9L486.4,468.2L493.0,471.1L495.7,475.7L490.8,477.4L484.3,474.4ZM496.6,469.9L501.4,468.2L508.0,471.1L510.6,475.7L505.8,477.4L499.3,474.4ZM526.6,469.9L531.4,468.2L537.9,471.1L540.6,475.7L535.8,477.4L529.2,474.4ZM556.5,469.9L561.3,468.2L567.9,471.1L570.5,475.7L565.7,477.4L559.2,474.4ZM571.4,469.9L576.3,468.2L582.8,471.1L585.5,475.7L580.7,477.4L574.1,474.4ZM586.4,469.9L591.2,468.2L597.8,471.1L600.4,475.7L595.6,477.4L589.1,474.4ZM631.2,469.9L636.0,468.2L642.5,471.1L645.2,475.7L640.4,477.4L633.8,474.4ZM661.0,469.9L665.8,468.2L672.3,471.1L675.0,475.7L670.2,477.4L663.6,474.4ZM720.4,469.9L725.2,468.2L731.8,471.1L734.5,475.7L729.7,477.4L723.1,474.4ZM765.0,469.9L769.8,468.2L776.3,471.1L779.0,475.7L774.2,477.4L767.6,474.4ZM779.8,469.9L784.6,468.2L791.2,471.1L793.8,475.7L789.0,477.4L782.4,474.4ZM285.8,485.0L290.6,483.3L297.2,486.2L299.8,490.8L295.0,492.5L288.4,489.6ZM316.0,485.0L320.8,483.3L327.4,486.2L330.1,490.8L325.3,492.5L318.7,489.6ZM331.1,485.0L335.9,483.3L342.5,486.2L345.2,490.8L340.4,492.5L333.8,489.6ZM406.5,485.0L411.3,483.3L417.9,486.2L420.5,490.8L415.7,492.5L409.1,489.6ZM436.6,485.0L441.4,483.3L447.9,486.2L450.6,490.8L445.8,492.5L439.2,489.6ZM451.6,485.0L456.4,483.3L463.0,486.2L465.6,490.8L460.8,492.5L454.2,489.6ZM466.6,485.0L471.4,483.3L478.0,486.2L480.6,490.8L475.8,492.5L469.3,489.6ZM481.6,485.0L486.4,483.3L493.0,486.2L495.7,490.8L490.8,492.5L484.3,489.6ZM511.6,485.0L516.4,483.3L523.0,486.2L525.6,490.8L520.8,492.5L514.3,489.6ZM541.5,485.0L546.3,483.3L552.9,486.2L555.6,490.8L550.8,492.5L544.2,489.6ZM556.5,485.0L561.3,483.3L567.9,486.2L570.5,490.8L565.7,492.5L559.2,489.6ZM586.4,485.0L591.2,483.3L597.8,486.2L600.4,490.8L595.6,492.5L589.1,489.6ZM601.3,485.0L606.1,483.3L612.7,486.2L615.4,490.8L610.6,492.5L604.0,489.6ZM646.1,485.0L650.9,483.3L657.4,486.2L660.1,490.8L655.3,492.5L648.7,489.6ZM675.8,485.0L680.6,483.3L687.2,486.2L689.9,490.8L685.1,492.5L678.5,489.6ZM705.6,485.0L710.4,483.3L717.0,486.2L719.6,490.8L714.8,492.5L708.3,489.6ZM750.1,485.0L754.9,483.3L761.5,486.2L764.2,490.8L759.4,492.5L752.8,489.6ZM210.0,500.2L214.8,498.5L221.4,501.4L224.1,506.0L219.3,507.7L212.7,504.8ZM225.2,500.2L230.0,498.5L236.6,501.4L239.2,506.0L234.4,507.7L227.9,504.8ZM240.4,500.2L245.2,498.5L251.7,501.4L254.4,506.0L249.6,507.7L243.0,504.8ZM270.6,500.2L275.4,498.5L282.0,501.4L284.7,506.0L279.9,507.7L273.3,504.8ZM300.9,500.2L305.7,498.5L312.3,501.4L314.9,506.0L310.1,507.7L303.6,504.8ZM316.0,500.2L320.8,498.5L327.4,501.4L330.1,506.0L325.3,507.7L318.7,504.8ZM346.2,500.2L351.0,498.5L357.6,501.4L360.2,506.0L355.4,507.7L348.9,504.8ZM361.3,500.2L366.1,498.5L372.7,501.4L375.3,506.0L370.5,507.7L363.9,504.8ZM376.4,500.2L381.2,498.5L387.7,501.4L390.4,506.0L385.6,507.7L379.0,504.8ZM391.4,500.2L396.2,498.5L402.8,501.4L405.5,506.0L400.7,507.7L394.1,504.8ZM421.5,500.2L426.3,498.5L432.9,501.4L435.6,506.0L430.8,507.7L424.2,504.8ZM436.6,500.2L441.4,498.5L447.9,501.4L450.6,506.0L445.8,507.7L439.2,504.8ZM466.6,500.2L471.4,498.5L478.0,501.4L480.6,506.0L475.8,507.7L469.3,504.8ZM496.6,500.2L501.4,498.5L508.0,501.4L510.6,506.0L505.8,507.7L499.3,504.8ZM511.6,500.2L516.4,498.5L523.0,501.4L525.6,506.0L520.8,507.7L514.3,504.8ZM541.5,500.2L546.3,498.5L552.9,501.4L555.6,506.0L550.8,507.7L544.2,504.8ZM586.4,500.2L591.2,498.5L597.8,501.4L600.4,506.0L595.6,507.7L589.1,504.8ZM616.2,500.2L621.0,498.5L627.6,501.4L630.3,506.0L625.5,507.7L618.9,504.8ZM646.1,500.2L650.9,498.5L657.4,501.4L660.1,506.0L655.3,507.7L648.7,504.8ZM661.0,500.2L665.8,498.5L672.3,501.4L675.0,506.0L670.2,507.7L663.6,504.8ZM675.8,500.2L680.6,498.5L687.2,501.4L689.9,506.0L685.1,507.7L678.5,504.8ZM690.7,500.2L695.5,498.5L702.1,501.4L704.8,506.0L700.0,507.7L693.4,504.8ZM765.0,500.2L769.8,498.5L776.3,501.4L779.0,506.0L774.2,507.7L767.6,504.8ZM809.4,500.2L814.2,498.5L820.8,501.4L823.4,506.0L818.6,507.7L812.1,504.8ZM194.9,515.3L199.7,513.6L206.2,516.6L208.9,521.1L204.1,522.8L197.5,519.9ZM300.9,515.3L305.7,513.6L312.3,516.6L314.9,521.1L310.1,522.8L303.6,519.9ZM316.0,515.3L320.8,513.6L327.4,516.6L330.1,521.1L325.3,522.8L318.7,519.9ZM346.2,515.3L351.0,513.6L357.6,516.6L360.2,521.1L355.4,522.8L348.9,519.9ZM391.4,515.3L396.2,513.6L402.8,516.6L405.5,521.1L400.7,522.8L394.1,519.9ZM451.6,515.3L456.4,513.6L463.0,516.6L465.6,521.1L460.8,522.8L454.2,519.9ZM466.6,515.3L471.4,513.6L478.0,516.6L480.6,521.1L475.8,522.8L469.3,519.9ZM481.6,515.3L486.4,513.6L493.0,516.6L495.7,521.1L490.8,522.8L484.3,519.9ZM541.5,515.3L546.3,513.6L552.9,516.6L555.6,521.1L550.8,522.8L544.2,519.9ZM556.5,515.3L561.3,513.6L567.9,516.6L570.5,521.1L565.7,522.8L559.2,519.9ZM586.4,515.3L591.2,513.6L597.8,516.6L600.4,521.1L595.6,522.8L589.1,519.9ZM616.2,515.3L621.0,513.6L627.6,516.6L630.3,521.1L625.5,522.8L618.9,519.9ZM631.2,515.3L636.0,513.6L642.5,516.6L645.2,521.1L640.4,522.8L633.8,519.9ZM661.0,515.3L665.8,513.6L672.3,516.6L675.0,521.1L670.2,522.8L663.6,519.9ZM690.7,515.3L695.5,513.6L702.1,516.6L704.8,521.1L700.0,522.8L693.4,519.9ZM750.1,515.3L754.9,513.6L761.5,516.6L764.2,521.1L759.4,522.8L752.8,519.9ZM779.8,515.3L784.6,513.6L791.2,516.6L793.8,521.1L789.0,522.8L782.4,519.9ZM794.6,515.3L799.4,513.6L806.0,516.6L808.6,521.1L803.8,522.8L797.3,519.9Z" fill="#9e9e9e" stroke="#2a2a2a" stroke-width="2.6" stroke-linejoin="round" paint-order="stroke"/>
<path d="M425.6,79.6L431.4,76.8M440.7,79.6L446.5,76.8M470.7,79.6L476.5,76.8M500.7,79.6L506.5,76.8M515.7,79.6L521.5,76.8M530.7,79.6L536.5,76.8M545.7,79.6L551.5,76.8M560.6,79.6L566.4,76.8M575.6,79.6L581.4,76.8M590.5,79.6L596.3,76.8M605.4,79.6L611.2,76.8M635.3,79.6L641.1,76.8M650.2,79.6L656.0,76.8M709.7,79.6L715.5,76.8M739.4,79.6L745.2,76.8M769.1,79.6L774.9,76.8M783.9,79.6L789.7,76.8M798.7,79.6L804.5,76.8M813.5,79.6L819.3,76.8M440.7,94.7L446.5,92.0M485.7,94.7L491.5,92.0M515.7,94.7L521.5,92.0M530.7,94.7L536.5,92.0M545.7,94.7L551.5,92.0M575.6,94.7L581.4,92.0M590.5,94.7L596.3,92.0M620.4,94.7L626.2,92.0M635.3,94.7L641.1,92.0M680.0,94.7L685.8,92.0M754.3,94.7L760.1,92.0M783.9,94.7L789.7,92.0M798.7,94.7L804.5,92.0M425.6,109.9L431.4,107.2M440.7,109.9L446.5,107.2M455.7,109.9L461.5,107.2M530.7,109.9L536.5,107.2M590.5,109.9L596.3,107.2M635.3,109.9L641.1,107.2M665.1,109.9L670.9,107.2M739.4,109.9L745.2,107.2M754.3,109.9L760.1,107.2M783.9,109.9L789.7,107.2M798.7,109.9L804.5,107.2M813.5,109.9L819.3,107.2M425.6,125.0L431.4,122.3M440.7,125.0L446.5,122.3M470.7,125.0L476.5,122.3M485.7,125.0L491.5,122.3M500.7,125.0L506.5,122.3M530.7,125.0L536.5,122.3M545.7,125.0L551.5,122.3M620.4,125.0L626.2,122.3M635.3,125.0L641.1,122.3M650.2,125.0L656.0,122.3M694.8,125.0L700.6,122.3M709.7,125.0L715.5,122.3M724.6,125.0L730.4,122.3M739.4,125.0L745.2,122.3M754.3,125.0L760.1,122.3M783.9,125.0L789.7,122.3M798.7,125.0L804.5,122.3M813.5,125.0L819.3,122.3M425.6,140.2L431.4,137.5M485.7,140.2L491.5,137.5M530.7,140.2L536.5,137.5M605.4,140.2L611.2,137.5M620.4,140.2L626.2,137.5M635.3,140.2L641.1,137.5M665.1,140.2L670.9,137.5M680.0,140.2L685.8,137.5M694.8,140.2L700.6,137.5M709.7,140.2L715.5,137.5M724.6,140.2L730.4,137.5M739.4,140.2L745.2,137.5M754.3,140.2L760.1,137.5M769.1,140.2L774.9,137.5M783.9,140.2L789.7,137.5M798.7,140.2L804.5,137.5M813.5,140.2L819.3,137.5M455.7,155.4L461.5,152.6M470.7,155.4L476.5,152.6M485.7,155.4L491.5,152.6M500.7,155.4L506.5,152.6M515.7,155.4L521.5,152.6M560.6,155.4L566.4,152.6M575.6,155.4L581.4,152.6M590.5,155.4L596.3,152.6M605.4,155.4L611.2,152.6M620.4,155.4L626.2,152.6M635.3,155.4L641.1,152.6M665.1,155.4L670.9,152.6M680.0,155.4L685.8,152.6M724.6,155.4L730.4,152.6M754.3,155.4L760.1,152.6M425.6,170.5L431.4,167.8M440.7,170.5L446.5,167.8M455.7,170.5L461.5,167.8M515.7,170.5L521.5,167.8M530.7,170.5L536.5,167.8M635.3,170.5L641.1,167.8M650.2,170.5L656.0,167.8M665.1,170.5L670.9,167.8M680.0,170.5L685.8,167.8M694.8,170.5L700.6,167.8M709.7,170.5L715.5,167.8M724.6,170.5L730.4,167.8M769.1,170.5L774.9,167.8M425.6,185.7L431.4,183.0M440.7,185.7L446.5,183.0M455.7,185.7L461.5,183.0M470.7,185.7L476.5,183.0M485.7,185.7L491.5,183.0M545.7,185.7L551.5,183.0M590.5,185.7L596.3,183.0M665.1,185.7L670.9,183.0M680.0,185.7L685.8,183.0M709.7,185.7L715.5,183.0M754.3,185.7L760.1,183.0M769.1,185.7L774.9,183.0M813.5,185.7L819.3,183.0M425.6,200.8L431.4,198.1M440.7,200.8L446.5,198.1M485.7,200.8L491.5,198.1M545.7,200.8L551.5,198.1M575.6,200.8L581.4,198.1M590.5,200.8L596.3,198.1M665.1,200.8L670.9,198.1M709.7,200.8L715.5,198.1M724.6,200.8L730.4,198.1M739.4,200.8L745.2,198.1M754.3,200.8L760.1,198.1M783.9,200.8L789.7,198.1M798.7,200.8L804.5,198.1M813.5,200.8L819.3,198.1M440.7,216.0L446.5,213.3M455.7,216.0L461.5,213.3M500.7,216.0L506.5,213.3M530.7,216.0L536.5,213.3M575.6,216.0L581.4,213.3M590.5,216.0L596.3,213.3M605.4,216.0L611.2,213.3M620.4,216.0L626.2,213.3M650.2,216.0L656.0,213.3M665.1,216.0L670.9,213.3M709.7,216.0L715.5,213.3M724.6,216.0L730.4,213.3M769.1,216.0L774.9,213.3M798.7,216.0L804.5,213.3M813.5,216.0L819.3,213.3M440.7,231.2L446.5,228.4M500.7,231.2L506.5,228.4M530.7,231.2L536.5,228.4M545.7,231.2L551.5,228.4M575.6,231.2L581.4,228.4M605.4,231.2L611.2,228.4M680.0,231.2L685.8,228.4M739.4,231.2L745.2,228.4M754.3,231.2L760.1,228.4M769.1,231.2L774.9,228.4M783.9,231.2L789.7,228.4M798.7,231.2L804.5,228.4M813.5,231.2L819.3,228.4M470.7,246.3L476.5,243.6M515.7,246.3L521.5,243.6M560.6,246.3L566.4,243.6M590.5,246.3L596.3,243.6M605.4,246.3L611.2,243.6M650.2,246.3L656.0,243.6M665.1,246.3L670.9,243.6M680.0,246.3L685.8,243.6M694.8,246.3L700.6,243.6M709.7,246.3L715.5,243.6M724.6,246.3L730.4,243.6M754.3,246.3L760.1,243.6M783.9,246.3L789.7,243.6M798.7,246.3L804.5,243.6M813.5,246.3L819.3,243.6M183.8,261.5L189.6,258.8M199.0,261.5L204.8,258.8M259.6,261.5L265.4,258.8M274.8,261.5L280.6,258.8M289.9,261.5L295.7,258.8M320.1,261.5L325.9,258.8M335.2,261.5L341.0,258.8M350.3,261.5L356.1,258.8M395.5,261.5L401.3,258.8M410.6,261.5L416.4,258.8M470.7,261.5L476.5,258.8M485.7,261.5L491.5,258.8M515.7,261.5L521.5,258.8M530.7,261.5L536.5,258.8M590.5,261.5L596.3,258.8M620.4,261.5L626.2,258.8M650.2,261.5L656.0,258.8M665.1,261.5L670.9,258.8M709.7,261.5L715.5,258.8M724.6,261.5L730.4,258.8M754.3,261.5L760.1,258.8M769.1,261.5L774.9,258.8M783.9,261.5L789.7,258.8M798.7,261.5L804.5,258.8M813.5,261.5L819.3,258.8M168.6,276.6L174.4,273.9M183.8,276.6L189.6,273.9M214.2,276.6L220.0,273.9M229.3,276.6L235.1,273.9M244.5,276.6L250.3,273.9M259.6,276.6L265.4,273.9M274.8,276.6L280.6,273.9M289.9,276.6L295.7,273.9M305.0,276.6L310.8,273.9M350.3,276.6L356.1,273.9M365.4,276.6L371.2,273.9M395.5,276.6L401.3,273.9M425.6,276.6L431.4,273.9M440.7,276.6L446.5,273.9M470.7,276.6L476.5,273.9M485.7,276.6L491.5,273.9M530.7,276.6L536.5,273.9M590.5,276.6L596.3,273.9M605.4,276.6L611.2,273.9M620.4,276.6L626.2,273.9M635.3,276.6L641.1,273.9M650.2,276.6L656.0,273.9M680.0,276.6L685.8,273.9M694.8,276.6L700.6,273.9M709.7,276.6L715.5,273.9M769.1,276.6L774.9,273.9M783.9,276.6L789.7,273.9M798.7,276.6L804.5,273.9M813.5,276.6L819.3,273.9M168.6,291.8L174.4,289.1M183.8,291.8L189.6,289.1M199.0,291.8L204.8,289.1M259.6,291.8L265.4,289.1M289.9,291.8L295.7,289.1M305.0,291.8L310.8,289.1M320.1,291.8L325.9,289.1M335.2,291.8L341.0,289.1M350.3,291.8L356.1,289.1M365.4,291.8L371.2,289.1M380.5,291.8L386.3,289.1M395.5,291.8L401.3,289.1M410.6,291.8L416.4,289.1M425.6,291.8L431.4,289.1M440.7,291.8L446.5,289.1M455.7,291.8L461.5,289.1M470.7,291.8L476.5,289.1M485.7,291.8L491.5,289.1M500.7,291.8L506.5,289.1M515.7,291.8L521.5,289.1M620.4,291.8L626.2,289.1M635.3,291.8L641.1,289.1M665.1,291.8L670.9,289.1M709.7,291.8L715.5,289.1M798.7,291.8L804.5,289.1M168.6,307.0L174.4,304.2M289.9,307.0L295.7,304.2M305.0,307.0L310.8,304.2M320.1,307.0L325.9,304.2M335.2,307.0L341.0,304.2M350.3,307.0L356.1,304.2M440.7,307.0L446.5,304.2M455.7,307.0L461.5,304.2M500.7,307.0L506.5,304.2M545.7,307.0L551.5,304.2M575.6,307.0L581.4,304.2M590.5,307.0L596.3,304.2M605.4,307.0L611.2,304.2M635.3,307.0L641.1,304.2M680.0,307.0L685.8,304.2M694.8,307.0L700.6,304.2M709.7,307.0L715.5,304.2M783.9,307.0L789.7,304.2M798.7,307.0L804.5,304.2M813.5,307.0L819.3,304.2M183.8,322.1L189.6,319.4M214.2,322.1L220.0,319.4M229.3,322.1L235.1,319.4M244.5,322.1L250.3,319.4M305.0,322.1L310.8,319.4M320.1,322.1L325.9,319.4M335.2,322.1L341.0,319.4M350.3,322.1L356.1,319.4M365.4,322.1L371.2,319.4M395.5,322.1L401.3,319.4M440.7,322.1L446.5,319.4M455.7,322.1L461.5,319.4M500.7,322.1L506.5,319.4M515.7,322.1L521.5,319.4M530.7,322.1L536.5,319.4M560.6,322.1L566.4,319.4M590.5,322.1L596.3,319.4M635.3,322.1L641.1,319.4M665.1,322.1L670.9,319.4M709.7,322.1L715.5,319.4M739.4,322.1L745.2,319.4M754.3,322.1L760.1,319.4M769.1,322.1L774.9,319.4M783.9,322.1L789.7,319.4M798.7,322.1L804.5,319.4M813.5,322.1L819.3,319.4M168.6,337.3L174.4,334.6M183.8,337.3L189.6,334.6M199.0,337.3L204.8,334.6M229.3,337.3L235.1,334.6M274.8,337.3L280.6,334.6M335.2,337.3L341.0,334.6M350.3,337.3L356.1,334.6M365.4,337.3L371.2,334.6M410.6,337.3L416.4,334.6M425.6,337.3L431.4,334.6M440.7,337.3L446.5,334.6M455.7,337.3L461.5,334.6M470.7,337.3L476.5,334.6M500.7,337.3L506.5,334.6M530.7,337.3L536.5,334.6M545.7,337.3L551.5,334.6M560.6,337.3L566.4,334.6M575.6,337.3L581.4,334.6M590.5,337.3L596.3,334.6M724.6,337.3L730.4,334.6M754.3,337.3L760.1,334.6M798.7,337.3L804.5,334.6M813.5,337.3L819.3,334.6M183.8,352.4L189.6,349.7M199.0,352.4L204.8,349.7M214.2,352.4L220.0,349.7M229.3,352.4L235.1,349.7M274.8,352.4L280.6,349.7M305.0,352.4L310.8,349.7M335.2,352.4L341.0,349.7M350.3,352.4L356.1,349.7M365.4,352.4L371.2,349.7M380.5,352.4L386.3,349.7M410.6,352.4L416.4,349.7M425.6,352.4L431.4,349.7M470.7,352.4L476.5,349.7M485.7,352.4L491.5,349.7M500.7,352.4L506.5,349.7M515.7,352.4L521.5,349.7M530.7,352.4L536.5,349.7M545.7,352.4L551.5,349.7M560.6,352.4L566.4,349.7M575.6,352.4L581.4,349.7M635.3,352.4L641.1,349.7M650.2,352.4L656.0,349.7M680.0,352.4L685.8,349.7M694.8,352.4L700.6,349.7M709.7,352.4L715.5,349.7M724.6,352.4L730.4,349.7M754.3,352.4L760.1,349.7M769.1,352.4L774.9,349.7M813.5,352.4L819.3,349.7M168.6,367.6L174.4,364.9M183.8,367.6L189.6,364.9M199.0,367.6L204.8,364.9M214.2,367.6L220.0,364.9M274.8,367.6L280.6,364.9M289.9,367.6L295.7,364.9M335.2,367.6L341.0,364.9M365.4,367.6L371.2,364.9M380.5,367.6L386.3,364.9M455.7,367.6L461.5,364.9M470.7,367.6L476.5,364.9M485.7,367.6L491.5,364.9M590.5,367.6L596.3,364.9M620.4,367.6L626.2,364.9M650.2,367.6L656.0,364.9M694.8,367.6L700.6,364.9M709.7,367.6L715.5,364.9M724.6,367.6L730.4,364.9M769.1,367.6L774.9,364.9M783.9,367.6L789.7,364.9M168.6,382.8L174.4,380.0M183.8,382.8L189.6,380.0M214.2,382.8L220.0,380.0M229.3,382.8L235.1,380.0M244.5,382.8L250.3,380.0M305.0,382.8L310.8,380.0M320.1,382.8L325.9,380.0M335.2,382.8L341.0,380.0M380.5,382.8L386.3,380.0M395.5,382.8L401.3,380.0M410.6,382.8L416.4,380.0M440.7,382.8L446.5,380.0M455.7,382.8L461.5,380.0M500.7,382.8L506.5,380.0M515.7,382.8L521.5,380.0M530.7,382.8L536.5,380.0M545.7,382.8L551.5,380.0M575.6,382.8L581.4,380.0M620.4,382.8L626.2,380.0M635.3,382.8L641.1,380.0M665.1,382.8L670.9,380.0M694.8,382.8L700.6,380.0M709.7,382.8L715.5,380.0M739.4,382.8L745.2,380.0M769.1,382.8L774.9,380.0M783.9,382.8L789.7,380.0M798.7,382.8L804.5,380.0M813.5,382.8L819.3,380.0M199.0,397.9L204.8,395.2M214.2,397.9L220.0,395.2M229.3,397.9L235.1,395.2M259.6,397.9L265.4,395.2M274.8,397.9L280.6,395.2M289.9,397.9L295.7,395.2M305.0,397.9L310.8,395.2M395.5,397.9L401.3,395.2M410.6,397.9L416.4,395.2M455.7,397.9L461.5,395.2M485.7,397.9L491.5,395.2M500.7,397.9L506.5,395.2M515.7,397.9L521.5,395.2M530.7,397.9L536.5,395.2M545.7,397.9L551.5,395.2M560.6,397.9L566.4,395.2M575.6,397.9L581.4,395.2M605.4,397.9L611.2,395.2M635.3,397.9L641.1,395.2M650.2,397.9L656.0,395.2M694.8,397.9L700.6,395.2M709.7,397.9L715.5,395.2M724.6,397.9L730.4,395.2M739.4,397.9L745.2,395.2M769.1,397.9L774.9,395.2M783.9,397.9L789.7,395.2M813.5,397.9L819.3,395.2M168.6,413.1L174.4,410.4M214.2,413.1L220.0,410.4M229.3,413.1L235.1,410.4M244.5,413.1L250.3,410.4M274.8,413.1L280.6,410.4M320.1,413.1L325.9,410.4M335.2,413.1L341.0,410.4M380.5,413.1L386.3,410.4M410.6,413.1L416.4,410.4M425.6,413.1L431.4,410.4M440.7,413.1L446.5,410.4M515.7,413.1L521.5,410.4M530.7,413.1L536.5,410.4M545.7,413.1L551.5,410.4M590.5,413.1L596.3,410.4M605.4,413.1L611.2,410.4M620.4,413.1L626.2,410.4M635.3,413.1L641.1,410.4M665.1,413.1L670.9,410.4M754.3,413.1L760.1,410.4M769.1,413.1L774.9,410.4M783.9,413.1L789.7,410.4M813.5,413.1L819.3,410.4M168.6,428.2L174.4,425.5M199.0,428.2L204.8,425.5M214.2,428.2L220.0,425.5M229.3,428.2L235.1,425.5M259.6,428.2L265.4,425.5M320.1,428.2L325.9,425.5M335.2,428.2L341.0,425.5M350.3,428.2L356.1,425.5M365.4,428.2L371.2,425.5M395.5,428.2L401.3,425.5M410.6,428.2L416.4,425.5M425.6,428.2L431.4,425.5M515.7,428.2L521.5,425.5M545.7,428.2L551.5,425.5M575.6,428.2L581.4,425.5M605.4,428.2L611.2,425.5M620.4,428.2L626.2,425.5M635.3,428.2L641.1,425.5M650.2,428.2L656.0,425.5M694.8,428.2L700.6,425.5M709.7,428.2L715.5,425.5M739.4,428.2L745.2,425.5M754.3,428.2L760.1,425.5M813.5,428.2L819.3,425.5M168.6,443.4L174.4,440.7M229.3,443.4L235.1,440.7M244.5,443.4L250.3,440.7M259.6,443.4L265.4,440.7M274.8,443.4L280.6,440.7M335.2,443.4L341.0,440.7M365.4,443.4L371.2,440.7M380.5,443.4L386.3,440.7M425.6,443.4L431.4,440.7M470.7,443.4L476.5,440.7M485.7,443.4L491.5,440.7M500.7,443.4L506.5,440.7M515.7,443.4L521.5,440.7M530.7,443.4L536.5,440.7M575.6,443.4L581.4,440.7M590.5,443.4L596.3,440.7M605.4,443.4L611.2,440.7M635.3,443.4L641.1,440.7M650.2,443.4L656.0,440.7M665.1,443.4L670.9,440.7M709.7,443.4L715.5,440.7M724.6,443.4L730.4,440.7M739.4,443.4L745.2,440.7M783.9,443.4L789.7,440.7M798.7,443.4L804.5,440.7M168.6,458.6L174.4,455.8M183.8,458.6L189.6,455.8M199.0,458.6L204.8,455.8M229.3,458.6L235.1,455.8M259.6,458.6L265.4,455.8M274.8,458.6L280.6,455.8M320.1,458.6L325.9,455.8M335.2,458.6L341.0,455.8M365.4,458.6L371.2,455.8M380.5,458.6L386.3,455.8M410.6,458.6L416.4,455.8M440.7,458.6L446.5,455.8M470.7,458.6L476.5,455.8M485.7,458.6L491.5,455.8M500.7,458.6L506.5,455.8M560.6,458.6L566.4,455.8M590.5,458.6L596.3,455.8M605.4,458.6L611.2,455.8M620.4,458.6L626.2,455.8M635.3,458.6L641.1,455.8M680.0,458.6L685.8,455.8M694.8,458.6L700.6,455.8M739.4,458.6L745.2,455.8M754.3,458.6L760.1,455.8M798.7,458.6L804.5,455.8M813.5,458.6L819.3,455.8M183.8,473.7L189.6,471.0M244.5,473.7L250.3,471.0M274.8,473.7L280.6,471.0M289.9,473.7L295.7,471.0M335.2,473.7L341.0,471.0M350.3,473.7L356.1,471.0M365.4,473.7L371.2,471.0M380.5,473.7L386.3,471.0M395.5,473.7L401.3,471.0M410.6,473.7L416.4,471.0M425.6,473.7L431.4,471.0M470.7,473.7L476.5,471.0M515.7,473.7L521.5,471.0M545.7,473.7L551.5,471.0M605.4,473.7L611.2,471.0M620.4,473.7L626.2,471.0M650.2,473.7L656.0,471.0M680.0,473.7L685.8,471.0M694.8,473.7L700.6,471.0M709.7,473.7L715.5,471.0M739.4,473.7L745.2,471.0M754.3,473.7L760.1,471.0M798.7,473.7L804.5,471.0M813.5,473.7L819.3,471.0M168.6,488.9L174.4,486.2M183.8,488.9L189.6,486.2M199.0,488.9L204.8,486.2M214.2,488.9L220.0,486.2M229.3,488.9L235.1,486.2M244.5,488.9L250.3,486.2M259.6,488.9L265.4,486.2M274.8,488.9L280.6,486.2M305.0,488.9L310.8,486.2M350.3,488.9L356.1,486.2M365.4,488.9L371.2,486.2M380.5,488.9L386.3,486.2M395.5,488.9L401.3,486.2M425.6,488.9L431.4,486.2M500.7,488.9L506.5,486.2M530.7,488.9L536.5,486.2M575.6,488.9L581.4,486.2M620.4,488.9L626.2,486.2M635.3,488.9L641.1,486.2M665.1,488.9L670.9,486.2M694.8,488.9L700.6,486.2M724.6,488.9L730.4,486.2M739.4,488.9L745.2,486.2M769.1,488.9L774.9,486.2M783.9,488.9L789.7,486.2M798.7,488.9L804.5,486.2M813.5,488.9L819.3,486.2M168.6,504.0L174.4,501.3M183.8,504.0L189.6,501.3M199.0,504.0L204.8,501.3M259.6,504.0L265.4,501.3M289.9,504.0L295.7,501.3M335.2,504.0L341.0,501.3M410.6,504.0L416.4,501.3M455.7,504.0L461.5,501.3M485.7,504.0L491.5,501.3M530.7,504.0L536.5,501.3M560.6,504.0L566.4,501.3M575.6,504.0L581.4,501.3M605.4,504.0L611.2,501.3M635.3,504.0L641.1,501.3M709.7,504.0L715.5,501.3M724.6,504.0L730.4,501.3M739.4,504.0L745.2,501.3M754.3,504.0L760.1,501.3M783.9,504.0L789.7,501.3M798.7,504.0L804.5,501.3M168.6,519.2L174.4,516.5M183.8,519.2L189.6,516.5M214.2,519.2L220.0,516.5M229.3,519.2L235.1,516.5M244.5,519.2L250.3,516.5M259.6,519.2L265.4,516.5M274.8,519.2L280.6,516.5M289.9,519.2L295.7,516.5M335.2,519.2L341.0,516.5M365.4,519.2L371.2,516.5M380.5,519.2L386.3,516.5M410.6,519.2L416.4,516.5M425.6,519.2L431.4,516.5M440.7,519.2L446.5,516.5M500.7,519.2L506.5,516.5M515.7,519.2L521.5,516.5M530.7,519.2L536.5,516.5M575.6,519.2L581.4,516.5M605.4,519.2L611.2,516.5M650.2,519.2L656.0,516.5M680.0,519.2L685.8,516.5M709.7,519.2L715.5,516.5M724.6,519.2L730.4,516.5M739.4,519.2L745.2,516.5M769.1,519.2L774.9,516.5M813.5,519.2L819.3,516.5M454.9,76.6L462.3,79.8M485.0,76.6L492.3,79.8M619.6,76.6L626.9,79.8M664.3,76.6L671.6,79.8M679.2,76.6L686.5,79.8M694.1,76.6L701.4,79.8M723.8,76.6L731.1,79.8M753.5,76.6L760.8,79.8M424.9,91.7L432.2,95.0M454.9,91.7L462.3,95.0M470.0,91.7L477.3,95.0M500.0,91.7L507.3,95.0M559.9,91.7L567.2,95.0M604.7,91.7L612.0,95.0M649.4,91.7L656.7,95.0M664.3,91.7L671.6,95.0M694.1,91.7L701.4,95.0M709.0,91.7L716.3,95.0M723.8,91.7L731.1,95.0M738.7,91.7L746.0,95.0M768.3,91.7L775.6,95.0M812.8,91.7L820.1,95.0M470.0,106.9L477.3,110.1M485.0,106.9L492.3,110.1M500.0,106.9L507.3,110.1M515.0,106.9L522.3,110.1M544.9,106.9L552.2,110.1M559.9,106.9L567.2,110.1M574.8,106.9L582.1,110.1M604.7,106.9L612.0,110.1M619.6,106.9L626.9,110.1M649.4,106.9L656.7,110.1M679.2,106.9L686.5,110.1M694.1,106.9L701.4,110.1M709.0,106.9L716.3,110.1M723.8,106.9L731.1,110.1M768.3,106.9L775.6,110.1M454.9,122.1L462.3,125.3M515.0,122.1L522.3,125.3M559.9,122.1L567.2,125.3M574.8,122.1L582.1,125.3M589.8,122.1L597.1,125.3M604.7,122.1L612.0,125.3M664.3,122.1L671.6,125.3M679.2,122.1L686.5,125.3M768.3,122.1L775.6,125.3M439.9,137.2L447.2,140.5M454.9,137.2L462.3,140.5M470.0,137.2L477.3,140.5M500.0,137.2L507.3,140.5M515.0,137.2L522.3,140.5M544.9,137.2L552.2,140.5M559.9,137.2L567.2,140.5M574.8,137.2L582.1,140.5M589.8,137.2L597.1,140.5M649.4,137.2L656.7,140.5M424.9,152.4L432.2,155.6M439.9,152.4L447.2,155.6M529.9,152.4L537.2,155.6M544.9,152.4L552.2,155.6M649.4,152.4L656.7,155.6M694.1,152.4L701.4,155.6M709.0,152.4L716.3,155.6M738.7,152.4L746.0,155.6M768.3,152.4L775.6,155.6M783.1,152.4L790.5,155.6M798.0,152.4L805.3,155.6M812.8,152.4L820.1,155.6M470.0,167.5L477.3,170.8M485.0,167.5L492.3,170.8M500.0,167.5L507.3,170.8M544.9,167.5L552.2,170.8M559.9,167.5L567.2,170.8M574.8,167.5L582.1,170.8M589.8,167.5L597.1,170.8M604.7,167.5L612.0,170.8M619.6,167.5L626.9,170.8M738.7,167.5L746.0,170.8M753.5,167.5L760.8,170.8M783.1,167.5L790.5,170.8M798.0,167.5L805.3,170.8M812.8,167.5L820.1,170.8M500.0,182.7L507.3,185.9M515.0,182.7L522.3,185.9M529.9,182.7L537.2,185.9M559.9,182.7L567.2,185.9M574.8,182.7L582.1,185.9M604.7,182.7L612.0,185.9M619.6,182.7L626.9,185.9M634.5,182.7L641.8,185.9M649.4,182.7L656.7,185.9M694.1,182.7L701.4,185.9M723.8,182.7L731.1,185.9M738.7,182.7L746.0,185.9M783.1,182.7L790.5,185.9M798.0,182.7L805.3,185.9M454.9,197.9L462.3,201.1M470.0,197.9L477.3,201.1M500.0,197.9L507.3,201.1M515.0,197.9L522.3,201.1M529.9,197.9L537.2,201.1M559.9,197.9L567.2,201.1M604.7,197.9L612.0,201.1M619.6,197.9L626.9,201.1M634.5,197.9L641.8,201.1M649.4,197.9L656.7,201.1M679.2,197.9L686.5,201.1M694.1,197.9L701.4,201.1M768.3,197.9L775.6,201.1M424.9,213.0L432.2,216.3M470.0,213.0L477.3,216.3M485.0,213.0L492.3,216.3M515.0,213.0L522.3,216.3M544.9,213.0L552.2,216.3M559.9,213.0L567.2,216.3M634.5,213.0L641.8,216.3M679.2,213.0L686.5,216.3M694.1,213.0L701.4,216.3M738.7,213.0L746.0,216.3M753.5,213.0L760.8,216.3M783.1,213.0L790.5,216.3M424.9,228.2L432.2,231.4M454.9,228.2L462.3,231.4M470.0,228.2L477.3,231.4M485.0,228.2L492.3,231.4M515.0,228.2L522.3,231.4M559.9,228.2L567.2,231.4M589.8,228.2L597.1,231.4M619.6,228.2L626.9,231.4M634.5,228.2L641.8,231.4M649.4,228.2L656.7,231.4M664.3,228.2L671.6,231.4M694.1,228.2L701.4,231.4M709.0,228.2L716.3,231.4M723.8,228.2L731.1,231.4M424.9,243.3L432.2,246.6M439.9,243.3L447.2,246.6M454.9,243.3L462.3,246.6M485.0,243.3L492.3,246.6M500.0,243.3L507.3,246.6M529.9,243.3L537.2,246.6M544.9,243.3L552.2,246.6M574.8,243.3L582.1,246.6M619.6,243.3L626.9,246.6M634.5,243.3L641.8,246.6M738.7,243.3L746.0,246.6M768.3,243.3L775.6,246.6M167.8,258.5L175.2,261.7M213.4,258.5L220.7,261.7M228.6,258.5L235.9,261.7M243.7,258.5L251.0,261.7M304.3,258.5L311.6,261.7M364.7,258.5L372.0,261.7M379.7,258.5L387.0,261.7M424.9,258.5L432.2,261.7M439.9,258.5L447.2,261.7M454.9,258.5L462.3,261.7M500.0,258.5L507.3,261.7M544.9,258.5L552.2,261.7M559.9,258.5L567.2,261.7M574.8,258.5L582.1,261.7M604.7,258.5L612.0,261.7M634.5,258.5L641.8,261.7M679.2,258.5L686.5,261.7M694.1,258.5L701.4,261.7M738.7,258.5L746.0,261.7M198.2,273.7L205.5,276.9M319.4,273.7L326.7,276.9M334.5,273.7L341.8,276.9M379.7,273.7L387.0,276.9M409.8,273.7L417.2,276.9M454.9,273.7L462.3,276.9M500.0,273.7L507.3,276.9M515.0,273.7L522.3,276.9M544.9,273.7L552.2,276.9M559.9,273.7L567.2,276.9M574.8,273.7L582.1,276.9M664.3,273.7L671.6,276.9M723.8,273.7L731.1,276.9M738.7,273.7L746.0,276.9M753.5,273.7L760.8,276.9M213.4,288.8L220.7,292.1M228.6,288.8L235.9,292.1M243.7,288.8L251.0,292.1M274.0,288.8L281.3,292.1M529.9,288.8L537.2,292.1M544.9,288.8L552.2,292.1M559.9,288.8L567.2,292.1M574.8,288.8L582.1,292.1M589.8,288.8L597.1,292.1M604.7,288.8L612.0,292.1M649.4,288.8L656.7,292.1M679.2,288.8L686.5,292.1M694.1,288.8L701.4,292.1M723.8,288.8L731.1,292.1M738.7,288.8L746.0,292.1M753.5,288.8L760.8,292.1M768.3,288.8L775.6,292.1M783.1,288.8L790.5,292.1M812.8,288.8L820.1,292.1M183.0,304.0L190.3,307.2M198.2,304.0L205.5,307.2M213.4,304.0L220.7,307.2M228.6,304.0L235.9,307.2M243.7,304.0L251.0,307.2M258.9,304.0L266.2,307.2M274.0,304.0L281.3,307.2M364.7,304.0L372.0,307.2M379.7,304.0L387.0,307.2M394.8,304.0L402.1,307.2M409.8,304.0L417.2,307.2M424.9,304.0L432.2,307.2M470.0,304.0L477.3,307.2M485.0,304.0L492.3,307.2M515.0,304.0L522.3,307.2M529.9,304.0L537.2,307.2M559.9,304.0L567.2,307.2M619.6,304.0L626.9,307.2M649.4,304.0L656.7,307.2M664.3,304.0L671.6,307.2M723.8,304.0L731.1,307.2M738.7,304.0L746.0,307.2M753.5,304.0L760.8,307.2M768.3,304.0L775.6,307.2M167.8,319.1L175.2,322.4M198.2,319.1L205.5,322.4M258.9,319.1L266.2,322.4M274.0,319.1L281.3,322.4M289.1,319.1L296.5,322.4M379.7,319.1L387.0,322.4M409.8,319.1L417.2,322.4M424.9,319.1L432.2,322.4M470.0,319.1L477.3,322.4M485.0,319.1L492.3,322.4M544.9,319.1L552.2,322.4M574.8,319.1L582.1,322.4M604.7,319.1L612.0,322.4M619.6,319.1L626.9,322.4M649.4,319.1L656.7,322.4M679.2,319.1L686.5,322.4M694.1,319.1L701.4,322.4M723.8,319.1L731.1,322.4M213.4,334.3L220.7,337.5M243.7,334.3L251.0,337.5M258.9,334.3L266.2,337.5M289.1,334.3L296.5,337.5M304.3,334.3L311.6,337.5M319.4,334.3L326.7,337.5M379.7,334.3L387.0,337.5M394.8,334.3L402.1,337.5M485.0,334.3L492.3,337.5M515.0,334.3L522.3,337.5M604.7,334.3L612.0,337.5M619.6,334.3L626.9,337.5M634.5,334.3L641.8,337.5M649.4,334.3L656.7,337.5M664.3,334.3L671.6,337.5M679.2,334.3L686.5,337.5M694.1,334.3L701.4,337.5M709.0,334.3L716.3,337.5M738.7,334.3L746.0,337.5M768.3,334.3L775.6,337.5M783.1,334.3L790.5,337.5M167.8,349.5L175.2,352.7M243.7,349.5L251.0,352.7M258.9,349.5L266.2,352.7M289.1,349.5L296.5,352.7M319.4,349.5L326.7,352.7M394.8,349.5L402.1,352.7M439.9,349.5L447.2,352.7M454.9,349.5L462.3,352.7M589.8,349.5L597.1,352.7M604.7,349.5L612.0,352.7M619.6,349.5L626.9,352.7M664.3,349.5L671.6,352.7M738.7,349.5L746.0,352.7M783.1,349.5L790.5,352.7M798.0,349.5L805.3,352.7M228.6,364.6L235.9,367.9M243.7,364.6L251.0,367.9M258.9,364.6L266.2,367.9M304.3,364.6L311.6,367.9M319.4,364.6L326.7,367.9M349.6,364.6L356.9,367.9M394.8,364.6L402.1,367.9M409.8,364.6L417.2,367.9M424.9,364.6L432.2,367.9M439.9,364.6L447.2,367.9M500.0,364.6L507.3,367.9M515.0,364.6L522.3,367.9M529.9,364.6L537.2,367.9M544.9,364.6L552.2,367.9M559.9,364.6L567.2,367.9M574.8,364.6L582.1,367.9M604.7,364.6L612.0,367.9M634.5,364.6L641.8,367.9M664.3,364.6L671.6,367.9M679.2,364.6L686.5,367.9M738.7,364.6L746.0,367.9M753.5,364.6L760.8,367.9M798.0,364.6L805.3,367.9M812.8,364.6L820.1,367.9M198.2,379.8L205.5,383.0M258.9,379.8L266.2,383.0M274.0,379.8L281.3,383.0M289.1,379.8L296.5,383.0M349.6,379.8L356.9,383.0M364.7,379.8L372.0,383.0M424.9,379.8L432.2,383.0M470.0,379.8L477.3,383.0M485.0,379.8L492.3,383.0M559.9,379.8L567.2,383.0M589.8,379.8L597.1,383.0M604.7,379.8L612.0,383.0M649.4,379.8L656.7,383.0M679.2,379.8L686.5,383.0M723.8,379.8L731.1,383.0M753.5,379.8L760.8,383.0M167.8,394.9L175.2,398.2M183.0,394.9L190.3,398.2M243.7,394.9L251.0,398.2M319.4,394.9L326.7,398.2M334.5,394.9L341.8,398.2M349.6,394.9L356.9,398.2M364.7,394.9L372.0,398.2M379.7,394.9L387.0,398.2M424.9,394.9L432.2,398.2M439.9,394.9L447.2,398.2M470.0,394.9L477.3,398.2M589.8,394.9L597.1,398.2M619.6,394.9L626.9,398.2M664.3,394.9L671.6,398.2M679.2,394.9L686.5,398.2M753.5,394.9L760.8,398.2M798.0,394.9L805.3,398.2M183.0,410.1L190.3,413.3M198.2,410.1L205.5,413.3M258.9,410.1L266.2,413.3M289.1,410.1L296.5,413.3M304.3,410.1L311.6,413.3M349.6,410.1L356.9,413.3M364.7,410.1L372.0,413.3M394.8,410.1L402.1,413.3M454.9,410.1L462.3,413.3M470.0,410.1L477.3,413.3M485.0,410.1L492.3,413.3M500.0,410.1L507.3,413.3M559.9,410.1L567.2,413.3M574.8,410.1L582.1,413.3M649.4,410.1L656.7,413.3M679.2,410.1L686.5,413.3M694.1,410.1L701.4,413.3M709.0,410.1L716.3,413.3M723.8,410.1L731.1,413.3M738.7,410.1L746.0,413.3M798.0,410.1L805.3,413.3M183.0,425.3L190.3,428.5M243.7,425.3L251.0,428.5M274.0,425.3L281.3,428.5M289.1,425.3L296.5,428.5M304.3,425.3L311.6,428.5M379.7,425.3L387.0,428.5M439.9,425.3L447.2,428.5M454.9,425.3L462.3,428.5M470.0,425.3L477.3,428.5M485.0,425.3L492.3,428.5M500.0,425.3L507.3,428.5M529.9,425.3L537.2,428.5M559.9,425.3L567.2,428.5M589.8,425.3L597.1,428.5M664.3,425.3L671.6,428.5M679.2,425.3L686.5,428.5M723.8,425.3L731.1,428.5M768.3,425.3L775.6,428.5M783.1,425.3L790.5,428.5M798.0,425.3L805.3,428.5M183.0,440.4L190.3,443.7M198.2,440.4L205.5,443.7M213.4,440.4L220.7,443.7M289.1,440.4L296.5,443.7M304.3,440.4L311.6,443.7M319.4,440.4L326.7,443.7M349.6,440.4L356.9,443.7M394.8,440.4L402.1,443.7M409.8,440.4L417.2,443.7M439.9,440.4L447.2,443.7M454.9,440.4L462.3,443.7M544.9,440.4L552.2,443.7M559.9,440.4L567.2,443.7M619.6,440.4L626.9,443.7M679.2,440.4L686.5,443.7M694.1,440.4L701.4,443.7M753.5,440.4L760.8,443.7M768.3,440.4L775.6,443.7M812.8,440.4L820.1,443.7M213.4,455.6L220.7,458.8M243.7,455.6L251.0,458.8M289.1,455.6L296.5,458.8M304.3,455.6L311.6,458.8M349.6,455.6L356.9,458.8M394.8,455.6L402.1,458.8M424.9,455.6L432.2,458.8M454.9,455.6L462.3,458.8M515.0,455.6L522.3,458.8M529.9,455.6L537.2,458.8M544.9,455.6L552.2,458.8M574.8,455.6L582.1,458.8M649.4,455.6L656.7,458.8M664.3,455.6L671.6,458.8M709.0,455.6L716.3,458.8M723.8,455.6L731.1,458.8M768.3,455.6L775.6,458.8M783.1,455.6L790.5,458.8M167.8,470.7L175.2,474.0M198.2,470.7L205.5,474.0M213.4,470.7L220.7,474.0M228.6,470.7L235.9,474.0M258.9,470.7L266.2,474.0M304.3,470.7L311.6,474.0M319.4,470.7L326.7,474.0M439.9,470.7L447.2,474.0M454.9,470.7L462.3,474.0M485.0,470.7L492.3,474.0M500.0,470.7L507.3,474.0M529.9,470.7L537.2,474.0M559.9,470.7L567.2,474.0M574.8,470.7L582.1,474.0M589.8,470.7L597.1,474.0M634.5,470.7L641.8,474.0M664.3,470.7L671.6,474.0M723.8,470.7L731.1,474.0M768.3,470.7L775.6,474.0M783.1,470.7L790.5,474.0M289.1,485.9L296.5,489.1M319.4,485.9L326.7,489.1M334.5,485.9L341.8,489.1M409.8,485.9L417.2,489.1M439.9,485.9L447.2,489.1M454.9,485.9L462.3,489.1M470.0,485.9L477.3,489.1M485.0,485.9L492.3,489.1M515.0,485.9L522.3,489.1M544.9,485.9L552.2,489.1M559.9,485.9L567.2,489.1M589.8,485.9L597.1,489.1M604.7,485.9L612.0,489.1M649.4,485.9L656.7,489.1M679.2,485.9L686.5,489.1M709.0,485.9L716.3,489.1M753.5,485.9L760.8,489.1M213.4,501.1L220.7,504.3M228.6,501.1L235.9,504.3M243.7,501.1L251.0,504.3M274.0,501.1L281.3,504.3M304.3,501.1L311.6,504.3M319.4,501.1L326.7,504.3M349.6,501.1L356.9,504.3M364.7,501.1L372.0,504.3M379.7,501.1L387.0,504.3M394.8,501.1L402.1,504.3M424.9,501.1L432.2,504.3M439.9,501.1L447.2,504.3M470.0,501.1L477.3,504.3M500.0,501.1L507.3,504.3M515.0,501.1L522.3,504.3M544.9,501.1L552.2,504.3M589.8,501.1L597.1,504.3M619.6,501.1L626.9,504.3M649.4,501.1L656.7,504.3M664.3,501.1L671.6,504.3M679.2,501.1L686.5,504.3M694.1,501.1L701.4,504.3M768.3,501.1L775.6,504.3M812.8,501.1L820.1,504.3M198.2,516.2L205.5,519.5M304.3,516.2L311.6,519.5M319.4,516.2L326.7,519.5M349.6,516.2L356.9,519.5M394.8,516.2L402.1,519.5M454.9,516.2L462.3,519.5M470.0,516.2L477.3,519.5M485.0,516.2L492.3,519.5M544.9,516.2L552.2,519.5M559.9,516.2L567.2,519.5M589.8,516.2L597.1,519.5M619.6,516.2L626.9,519.5M634.5,516.2L641.8,519.5M664.3,516.2L671.6,519.5M694.1,516.2L701.4,519.5M753.5,516.2L760.8,519.5M783.1,516.2L790.5,519.5M798.0,516.2L805.3,519.5" stroke="#c6c6c6" stroke-width="1.3" stroke-linecap="round" fill="none"/>
</g>
<rect x="165" y="69" width="637.3" height="2.2" fill="#2c2c2c" opacity="0.8"/>
<rect x="165" y="509.6" width="637.3" height="2.2" fill="#2c2c2c" opacity="0.7"/>
<rect x="165" y="69" width="1.6" height="442.8" fill="#1c1c1c" opacity="0.8"/>
</g>
<rect x="165" y="255" width="255" height="11" fill="url(#gblue)"/>
<rect x="165" y="255.4" width="255" height="1.8" fill="#2f80a4" opacity="0.75"/>
<rect x="417.6" y="69" width="2.0" height="188" fill="#2f80a4" opacity="0.7"/>
<rect x="165.4" y="69.4" width="252.6" height="186.4" fill="#c00000"/>
<rect x="170.6" y="74.5" width="242.0" height="176.0" fill="#ffffff"/>
<g clip-path="url(#cins)">
<rect x="172.7" y="76.8" width="237.9" height="171.7" fill="url(#gbg)"/>
<g filter="url(#blur2)">
<polygon points="170.9,75.9 415.3,75.9 415.3,86.4 170.9,86.4" fill="#3e3e3e" opacity="0.6"/>
<polygon points="222.4,96.9 232.0,107.4 226.8,152.7 214.9,145.8" fill="#2a2a2a" opacity="0.28"/>
<polygon points="184.9,103.0 190.5,108.8 220.2,101.4 221.9,96.5 214.9,145.8 176.2,147.5" fill="url(#gbody)"/>
<polygon points="184.0,97.8 215.4,87.3 221.6,96.0 220.2,101.8 190.5,109.1 184.9,103.5" fill="#a4a4a4"/>
<polyline points="184.9,103.5 190.5,109.1 220.2,101.8" fill="none" stroke="#c9c9c9" stroke-width="1"/>
<polyline points="195.7,111.2 207.6,108.1 217.0,105.4" fill="none" stroke="#303030" stroke-width="1.1" opacity="0.8" stroke-dasharray="4 2"/>
<polygon points="280.9,97.8 290.5,108.2 285.3,153.6 273.4,146.6" fill="#2a2a2a" opacity="0.28"/>
<polygon points="243.4,103.9 249.0,109.6 278.6,102.3 280.4,97.4 273.4,146.6 234.6,148.4" fill="url(#gbody)"/>
<polygon points="242.5,98.6 273.9,88.2 280.0,96.9 278.6,102.6 249.0,110.0 243.4,104.4" fill="#a4a4a4"/>
<polyline points="243.4,104.4 249.0,110.0 278.6,102.6" fill="none" stroke="#c9c9c9" stroke-width="1"/>
<polyline points="254.2,112.1 266.1,108.9 275.5,106.3" fill="none" stroke="#303030" stroke-width="1.1" opacity="0.8" stroke-dasharray="4 2"/>
<polygon points="344.1,103.9 350.7,112.6 347.2,152.7 337.1,150.1" fill="#2a2a2a" opacity="0.28"/>
<polygon points="295.7,98.6 307.1,105.6 324.5,110.8 343.0,107.7 344.1,103.9 337.1,150.1 289.6,147.5" fill="url(#gbody)"/>
<polygon points="295.7,98.6 307.1,105.6 303.6,149.2 289.6,147.5" fill="url(#gside)"/>
<polygon points="322.8,110.5 325.6,110.8 321.9,150.1 318.9,150.1" fill="#9a9a9a" opacity="0.7"/>
<polygon points="295.7,96.0 301.5,87.3 317.5,89.9 324.5,90.4 344.1,102.1 343.0,107.9 324.5,111.2 307.1,106.0 295.9,99.0" fill="#a6a6a6"/>
<polyline points="295.9,99.0 307.1,106.0 324.5,111.2 343.0,107.9" fill="none" stroke="#cfcfcf" stroke-width="1"/>
<polyline points="343.4,107.4 337.6,149.2" fill="none" stroke="#d0d0d0" stroke-width="0.9"/>
<polygon points="402.5,105.3 409.2,114.0 405.7,154.1 395.5,151.5" fill="#2a2a2a" opacity="0.28"/>
<polygon points="354.2,100.0 365.5,107.0 383.0,112.2 401.5,109.1 402.5,105.3 395.5,151.5 348.1,148.9" fill="url(#gbody)"/>
<polygon points="354.2,100.0 365.5,107.0 362.0,150.6 348.1,148.9" fill="url(#gside)"/>
<polygon points="381.2,111.9 384.0,112.2 380.4,151.5 377.4,151.5" fill="#9a9a9a" opacity="0.7"/>
<polygon points="354.2,97.4 359.9,88.7 376.0,91.3 383.0,91.8 402.5,103.5 401.5,109.3 383.0,112.6 365.5,107.4 354.4,100.4" fill="#a6a6a6"/>
<polyline points="354.4,100.4 365.5,107.4 383.0,112.6 401.5,109.3" fill="none" stroke="#cfcfcf" stroke-width="1"/>
<polyline points="401.8,108.8 396.1,150.6" fill="none" stroke="#d0d0d0" stroke-width="0.9"/>
<polygon points="224.2,147.5 233.8,158.0 228.5,203.3 216.7,196.4" fill="#2a2a2a" opacity="0.28"/>
<polygon points="186.6,153.6 192.2,159.4 221.9,152.0 223.6,147.1 216.7,196.4 177.9,198.1" fill="url(#gbody)"/>
<polygon points="185.8,148.4 217.2,137.9 223.3,146.6 221.9,152.4 192.2,159.7 186.6,154.1" fill="#a4a4a4"/>
<polyline points="186.6,154.1 192.2,159.7 221.9,152.4" fill="none" stroke="#c9c9c9" stroke-width="1"/>
<polyline points="197.5,161.8 209.3,158.7 218.8,156.0" fill="none" stroke="#303030" stroke-width="1.1" opacity="0.8" stroke-dasharray="4 2"/>
<polygon points="282.6,148.4 292.2,158.8 287.0,204.2 275.1,197.2" fill="#2a2a2a" opacity="0.28"/>
<polygon points="245.1,154.5 250.7,160.2 280.4,152.9 282.1,148.0 275.1,197.2 236.4,199.0" fill="url(#gbody)"/>
<polygon points="244.2,149.2 275.7,138.8 281.8,147.5 280.4,153.3 250.7,160.6 245.1,155.0" fill="#a4a4a4"/>
<polyline points="245.1,155.0 250.7,160.6 280.4,153.3" fill="none" stroke="#c9c9c9" stroke-width="1"/>
<polyline points="255.9,162.7 267.8,159.5 277.2,156.9" fill="none" stroke="#303030" stroke-width="1.1" opacity="0.8" stroke-dasharray="4 2"/>
<polygon points="346.7,154.5 353.3,163.2 349.8,203.3 339.7,200.7" fill="#2a2a2a" opacity="0.28"/>
<polygon points="298.3,149.2 309.7,156.2 327.1,161.5 345.6,158.3 346.7,154.5 339.7,200.7 292.2,198.1" fill="url(#gbody)"/>
<polygon points="298.3,149.2 309.7,156.2 306.2,199.9 292.2,198.1" fill="url(#gside)"/>
<polygon points="325.4,161.1 328.2,161.5 324.5,200.7 321.6,200.7" fill="#9a9a9a" opacity="0.7"/>
<polygon points="298.3,146.6 304.1,137.9 320.2,140.5 327.1,141.0 346.7,152.7 345.6,158.5 327.1,161.8 309.7,156.6 298.5,149.6" fill="#a6a6a6"/>
<polyline points="298.5,149.6 309.7,156.6 327.1,161.8 345.6,158.5" fill="none" stroke="#cfcfcf" stroke-width="1"/>
<polyline points="346.0,158.0 340.2,199.9" fill="none" stroke="#d0d0d0" stroke-width="0.9"/>
<polygon points="404.3,155.3 410.9,164.1 407.4,204.2 397.3,201.6" fill="#2a2a2a" opacity="0.28"/>
<polygon points="355.9,150.1 367.3,157.1 384.7,162.3 403.2,159.2 404.3,155.3 397.3,201.6 349.8,199.0" fill="url(#gbody)"/>
<polygon points="355.9,150.1 367.3,157.1 363.8,200.7 349.8,199.0" fill="url(#gside)"/>
<polygon points="383.0,162.0 385.8,162.3 382.1,201.6 379.1,201.6" fill="#9a9a9a" opacity="0.7"/>
<polygon points="355.9,147.5 361.7,138.8 377.7,141.4 384.7,141.9 404.3,153.6 403.2,159.4 384.7,162.7 367.3,157.4 356.1,150.5" fill="#a6a6a6"/>
<polyline points="356.1,150.5 367.3,157.4 384.7,162.7 403.2,159.4" fill="none" stroke="#cfcfcf" stroke-width="1"/>
<polyline points="403.6,158.8 397.8,200.7" fill="none" stroke="#d0d0d0" stroke-width="0.9"/>
<polygon points="225.9,198.1 235.5,208.6 230.3,254.0 218.4,247.0" fill="#2a2a2a" opacity="0.28"/>
<polygon points="188.4,204.2 194.0,210.0 223.6,202.6 225.4,197.8 218.4,247.0 179.7,248.7" fill="url(#gbody)"/>
<polygon points="187.5,199.0 218.9,188.5 225.0,197.2 223.6,203.0 194.0,210.3 188.4,204.7" fill="#a4a4a4"/>
<polyline points="188.4,204.7 194.0,210.3 223.6,203.0" fill="none" stroke="#c9c9c9" stroke-width="1"/>
<polyline points="199.2,212.4 211.1,209.3 220.5,206.7" fill="none" stroke="#303030" stroke-width="1.1" opacity="0.8" stroke-dasharray="4 2"/>
<polygon points="289.1,203.3 295.7,212.1 292.2,252.2 282.1,249.6" fill="#2a2a2a" opacity="0.28"/>
<polygon points="240.8,198.1 252.1,205.1 269.5,210.3 288.0,207.2 289.1,203.3 282.1,249.6 234.6,247.0" fill="url(#gbody)"/>
<polygon points="240.8,198.1 252.1,205.1 248.6,248.7 234.6,247.0" fill="url(#gside)"/>
<polygon points="267.8,210.0 270.6,210.3 266.9,249.6 264.0,249.6" fill="#9a9a9a" opacity="0.7"/>
<polygon points="240.8,195.5 246.5,186.8 262.6,189.4 269.5,189.9 289.1,201.6 288.0,207.4 269.5,210.7 252.1,205.4 240.9,198.5" fill="#a6a6a6"/>
<polyline points="240.9,198.5 252.1,205.4 269.5,210.7 288.0,207.4" fill="none" stroke="#cfcfcf" stroke-width="1"/>
<polyline points="288.4,206.8 282.6,248.7" fill="none" stroke="#d0d0d0" stroke-width="0.9"/>
<polygon points="342.8,199.9 352.4,210.3 347.2,255.7 335.3,248.7" fill="#2a2a2a" opacity="0.28"/>
<polygon points="305.3,206.0 310.9,211.7 340.6,204.4 342.3,199.5 335.3,248.7 296.6,250.5" fill="url(#gbody)"/>
<polygon points="304.5,200.7 335.9,190.3 342.0,199.0 340.6,204.7 310.9,212.1 305.3,206.5" fill="#a4a4a4"/>
<polyline points="305.3,206.5 310.9,212.1 340.6,204.7" fill="none" stroke="#c9c9c9" stroke-width="1"/>
<polyline points="316.1,214.2 328.0,211.0 337.4,208.4" fill="none" stroke="#303030" stroke-width="1.1" opacity="0.8" stroke-dasharray="4 2"/>
<polygon points="406.9,205.1 413.5,213.8 410.0,254.0 399.9,251.3" fill="#2a2a2a" opacity="0.28"/>
<polygon points="358.6,199.9 369.9,206.8 387.3,212.1 405.8,208.9 406.9,205.1 399.9,251.3 352.4,248.7" fill="url(#gbody)"/>
<polygon points="358.6,199.9 369.9,206.8 366.4,250.5 352.4,248.7" fill="url(#gside)"/>
<polygon points="385.6,211.7 388.4,212.1 384.7,251.3 381.8,251.3" fill="#9a9a9a" opacity="0.7"/>
<polygon points="358.6,197.2 364.3,188.5 380.4,191.1 387.3,191.6 406.9,203.3 405.8,209.1 387.3,212.4 369.9,207.2 358.7,200.2" fill="#a6a6a6"/>
<polyline points="358.7,200.2 369.9,207.2 387.3,212.4 405.8,209.1" fill="none" stroke="#cfcfcf" stroke-width="1"/>
<polyline points="406.2,208.6 400.4,250.5" fill="none" stroke="#d0d0d0" stroke-width="0.9"/>
<polygon points="195.4,249.6 219.8,238.2 227.7,249.6" fill="#a8a8a8"/>
<polygon points="254.7,249.6 279.1,240.0 285.3,249.6" fill="#a8a8a8"/>
<polygon points="312.3,249.6 338.5,240.0 342.8,249.6" fill="#a8a8a8"/>
<polygon points="360.3,249.6 368.2,240.0 383.9,243.5 395.2,249.6" fill="#a8a8a8"/>
</g>
<rect x="172.7" y="76.8" width="237.9" height="171.7" fill="none" stroke="#262626" stroke-width="1.2"/>
</g>
<line x1="659.6" y1="419.5" x2="726.6" y2="419.5" stroke="#ffff00" stroke-width="10.5" stroke-linecap="round"/>
<text x="697.6" y="479.8" font-size="40" text-anchor="middle" font-weight="bold" style="fill:#ffff00;stroke:#1a1a50;stroke-width:0.7;paint-order:stroke" textLength="124.8" lengthAdjust="spacingAndGlyphs">500 um</text>
<polyline points="1037.9,79.3 1039.9,83.7 1042.3,84.9 1045.8,82.3 1048.8,76.4 1052.7,70.4 1056.7,67.1 1058.7,67.5 1061.6,71.8 1064.6,73.0 1066.6,77.0 1072.5,82.3 1078.5,88.2 1082.4,91.2 1086.4,89.2 1090.3,90.2 1094.3,94.2 1098.2,93.2 1101.2,98.1 1104.2,100.1 1108.1,107.0 1111.1,110.6 1115.0,110.0 1119.0,104.1 1123.0,100.7 1126.9,99.1 1130.9,96.5 1135.8,96.1 1139.8,100.1 1144.7,104.1 1148.7,107.0 1152.6,115.9 1156.6,116.3 1159.6,118.9 1163.5,118.3 1167.5,122.9 1170.8,127.8 1174.4,136.7 1178.3,146.6 1182.3,160.4 1186.3,176.3 1190.2,192.1 1194.2,209.9 1198.1,231.6 1202.1,257.3 1205.0,289.8 1208.0,309.6 1211.0,329.3 1213.9,349.1 1217.9,372.9 1221.9,396.6 1225.8,420.3 1229.8,444.1 1233.7,465.8 1237.7,485.6 1241.6,505.4 1244.6,521.2 1246.6,536.0 1248.2,541.0 1249.8,536.0 1255.5,517.2 1259.4,499.4 1263.4,483.6 1267.3,467.8 1271.3,453.9 1275.3,440.1 1280.2,426.3 1285.1,412.4 1291.1,396.6 1297.0,382.7 1302.9,366.9 1308.9,349.1 1314.8,331.3 1320.8,311.5 1326.7,291.8 1330.6,279.9 1334.6,270.0 1336.6,263.3 1340.5,256.4 1345.5,249.4 1350.4,247.5 1354.4,241.5 1357.3,242.5 1361.3,239.5 1365.3,238.6 1368.9,241.5 1371.9,244.5 1376.8,245.5 1379.8,249.4 1383.7,252.4 1388.7,253.4 1392.6,255.4 1396.6,258.3 1400.5,260.3 1403.5,262.3 1407.5,260.3 1412.4,260.3 1416.4,258.3 1420.3,262.3 1424.3,269.2 1429.2,296.0 1434.2,305.9 1439.1,314.8 1443.1,321.7 1447.0,336.5 1450.0,338.5 1453.0,345.4 1456.9,351.4 1460.9,357.3 1465.8,365.2 1470.8,372.1 1475.7,377.1 1479.7,378.1 1482.6,386.0 1486.6,384.0 1491.5,387.0 1495.5,383.0 1498.5,387.0 1501.4,387.0 1505.4,391.9 1508.3,392.9 1511.3,397.9 1516.3,403.8 1520.2,410.7 1524.2,416.7 1528.1,415.7 1534.1,417.6 1538.0,414.7 1543.0,410.7 1547.9,402.8 1552.8,397.9 1556.8,392.9 1559.8,383.0 1564.7,377.1 1569.7,375.1 1574.6,371.2 1579.5,370.2 1583.5,373.1 1587.5,373.1 1589.4,386.0 1592.4,389.0 1594.4,395.9 1598.3,397.9 1601.3,409.7 1604.3,414.7 1607.2,424.6 1611.2,424.6 1614.2,430.5 1618.1,434.5 1622.1,429.5 1626.0,427.5 1630.0,422.6 1632.9,426.5 1635.9,416.7 1638.9,414.7 1641.8,410.7 1645.8,414.7 1648.8,420.6 1652.7,419.6 1655.7,419.6 1658.7,424.6 1662.6,430.5 1666.6,432.5 1670.5,434.5 1674.5,438.4 1676.5,441.4 1679.4,437.4 1682.4,436.4 1684.4,426.5 1687.3,427.5 1689.3,433.5 1691.3,437.4" fill="none" stroke="#ff0000" stroke-width="3.30" stroke-linejoin="round" stroke-linecap="round" clip-path="url(#cb)"/>
<polyline points="1037.9,449.0 1040.9,451.0 1045.8,447.0 1051.8,443.1 1058.7,439.5 1064.6,438.5 1069.6,437.5 1075.5,437.1 1082.4,434.6 1089.3,431.2 1096.3,428.2 1102.2,424.7 1110.1,421.3 1115.0,414.4 1120.0,406.5 1123.9,400.5 1127.9,395.6 1131.9,387.7 1137.8,379.8 1144.7,370.9 1149.7,364.5 1153.6,359.0 1157.6,349.1 1161.5,339.2 1165.5,326.4 1169.4,318.5 1173.4,309.6 1177.4,302.6 1182.3,296.7 1185.3,297.7 1190.2,292.7 1193.2,293.3 1198.1,289.2 1202.1,290.8 1207.0,296.7 1212.0,300.7 1216.9,306.6 1221.9,309.6 1225.4,311.9 1228.8,308.6 1232.1,305.2 1235.7,307.6 1239.7,309.2 1243.2,310.9 1247.6,307.6 1250.5,301.6 1254.5,294.7 1257.5,293.7 1259.8,300.1 1262.4,297.1 1265.4,299.3 1268.3,298.7 1272.3,291.8 1275.3,284.2 1279.2,280.9 1283.2,277.9 1287.1,273.0 1289.1,269.6 1293.1,269.2 1296.0,267.2 1300.0,268.2 1303.9,269.6 1307.9,267.2 1310.9,270.2 1314.8,275.1 1318.8,277.1 1321.7,281.1 1324.7,287.8 1327.7,289.8 1330.6,295.7 1332.6,297.7 1335.6,304.6 1339.5,311.5 1342.5,318.5 1346.5,327.4 1349.4,333.3 1354.4,338.2 1359.3,341.2 1364.3,345.2 1367.9,347.4 1371.9,353.4 1375.8,359.3 1379.8,367.2 1383.7,377.1 1387.7,388.0 1392.6,398.9 1395.6,409.7 1399.6,420.6 1403.5,432.5 1407.5,442.4 1411.4,451.3 1414.4,452.3 1417.4,453.2 1420.3,449.3 1423.3,447.3 1428.2,436.4 1432.2,427.5 1436.1,417.6 1440.1,406.8 1443.1,403.8 1447.0,395.9 1451.0,389.0 1454.9,384.0 1457.9,381.0 1460.9,384.6 1464.8,386.0 1469.8,385.0 1472.7,392.9 1476.7,397.9 1480.7,403.8 1484.6,408.7 1487.6,410.7 1491.5,419.6 1495.5,423.6 1500.4,432.5 1504.4,440.4 1509.3,449.3 1514.3,456.2 1519.2,462.1 1524.2,467.1 1530.1,474.0 1536.0,477.0 1542.0,480.9 1547.9,482.9 1552.8,484.9 1556.8,486.9 1560.8,483.5 1564.7,482.9 1566.7,485.9 1569.7,481.9 1573.6,483.9 1577.6,481.9 1580.5,483.5 1583.5,481.5 1587.5,482.9 1590.4,481.5 1594.4,481.9 1596.4,476.0 1600.3,473.0 1604.3,468.1 1607.2,460.2 1610.2,457.2 1613.2,449.3 1616.1,441.4 1618.1,437.4 1621.1,432.5 1626.0,428.5 1630.0,425.6 1632.9,422.6 1634.9,412.7 1636.9,408.7 1639.3,401.8 1640.9,407.8 1644.8,404.4 1647.8,401.8 1650.8,399.8 1653.7,403.8 1655.7,409.7 1658.7,408.7 1660.6,404.8 1662.6,409.7 1664.2,386.0 1666.2,414.7 1668.2,390.9 1670.5,389.0 1672.5,383.0 1674.5,376.1 1676.5,387.0 1679.4,390.9 1682.4,389.0 1685.4,383.0 1688.3,392.9 1690.7,373.1" fill="none" stroke="#00ff00" stroke-width="3.30" stroke-linejoin="round" stroke-linecap="round" clip-path="url(#cb)"/>
<polyline points="1037.9,508.9 1043.8,506.4 1049.8,502.4 1056.7,499.4 1063.6,498.4 1069.6,498.4 1076.5,497.5 1083.4,497.1 1089.3,494.9 1096.3,493.5 1102.2,491.5 1110.1,491.1 1117.0,488.6 1125.9,485.2 1132.9,481.2 1140.8,475.7 1148.7,468.8 1154.6,462.8 1160.5,455.9 1166.5,448.0 1172.4,440.5 1179.3,433.2 1186.3,426.3 1192.2,418.7 1198.1,412.4 1202.1,408.5 1208.0,406.1 1213.9,407.1 1219.9,409.8 1225.8,413.4 1231.7,415.4 1237.7,417.0 1242.6,417.0 1246.6,412.4 1250.5,404.5 1254.5,397.6 1259.4,389.7 1265.4,383.7 1270.3,375.8 1275.3,368.9 1280.2,365.9 1285.1,365.3 1291.1,367.3 1296.0,371.9 1301.0,376.8 1305.9,381.8 1310.9,385.7 1315.8,389.3 1321.7,391.6 1326.7,394.6 1331.6,394.6 1336.6,398.6 1341.5,405.5 1346.5,413.4 1350.4,422.3 1354.4,430.2 1358.3,440.1 1360.0,443.4 1364.0,454.2 1367.9,464.1 1371.9,474.0 1376.8,482.9 1381.8,489.8 1385.7,492.4 1391.6,493.2 1396.6,493.4 1400.5,492.4 1403.5,493.4 1407.5,492.4 1411.4,493.2 1415.4,492.2 1419.3,493.4 1423.3,494.4 1428.2,495.8 1431.2,497.3 1435.2,495.8 1439.1,493.4 1442.1,490.8 1446.0,490.4 1450.0,484.9 1453.9,480.9 1457.9,477.0 1462.9,473.4 1467.8,471.0 1472.7,470.1 1476.7,468.7 1479.7,467.1 1482.2,471.0 1485.6,468.1 1488.6,467.7 1492.1,470.1 1495.5,467.1 1498.5,470.1 1501.4,469.5 1505.4,472.0 1509.3,472.6 1513.3,473.0 1517.2,472.0 1521.2,473.6 1525.2,476.0 1529.1,473.4 1533.1,475.0 1536.0,474.6 1540.0,477.6 1544.9,479.9 1549.9,483.9 1553.8,489.8 1557.8,494.8 1561.7,500.7 1565.7,507.6 1569.7,513.6 1574.6,519.5 1579.5,525.4 1584.5,530.4 1589.4,534.3 1594.4,537.7 1600.3,539.3 1605.3,536.3 1609.2,529.4 1613.2,521.5 1617.1,513.6 1621.1,505.7 1625.0,497.7 1629.0,491.8 1632.0,486.9 1633.9,488.8 1636.5,481.9 1638.9,482.9 1641.8,478.0 1645.8,478.0 1648.8,479.9 1651.7,476.0 1654.7,475.0 1656.7,468.1 1659.7,466.1 1663.6,462.1 1666.6,456.2 1669.5,452.3 1672.5,449.3 1675.5,451.3 1678.4,449.3 1681.4,450.3 1684.4,443.4 1687.3,449.3 1690.3,460.2" fill="none" stroke="#0000ff" stroke-width="3.30" stroke-linejoin="round" stroke-linecap="round" clip-path="url(#cb)"/>
<polyline points="1037.9,72.4 1039.9,74.4 1041.5,81.3 1043.8,77.4 1046.8,71.4 1049.8,62.5 1053.7,58.6 1057.7,55.6 1059.3,55.2 1060.7,60.5 1063.6,61.9 1066.6,63.9 1069.6,67.5 1073.5,72.4 1077.5,74.4 1081.0,76.4 1083.4,74.0 1086.4,75.4 1089.3,73.4 1093.3,76.4 1096.9,78.9 1099.2,78.3 1103.2,82.3 1107.1,88.2 1110.7,96.7 1114.1,94.2 1117.0,91.2 1120.0,86.3 1123.9,82.3 1127.9,84.3 1130.9,79.3 1132.9,77.0 1136.8,79.3 1140.8,79.3 1144.7,83.3 1148.7,84.3 1152.6,90.2 1156.6,86.9 1160.5,84.3 1163.5,80.3 1166.1,73.8 1168.5,75.4 1171.4,77.4 1175.4,76.0 1179.3,79.3 1183.3,81.3 1185.3,88.2 1189.2,87.2 1192.6,93.2 1196.1,88.8 1200.1,88.2 1204.1,91.6 1208.0,95.2 1211.0,94.8 1215.9,100.1 1218.9,97.7 1223.8,101.1 1226.8,99.1 1229.8,91.2 1232.1,89.2 1234.7,92.2 1237.7,101.1 1240.6,111.0 1243.6,120.9 1247.6,132.7 1252.5,134.7 1255.5,144.6 1258.4,156.5 1260.4,176.3 1263.4,186.1 1266.4,198.0 1268.3,207.9 1272.3,215.8 1276.2,223.7 1280.2,233.6 1284.2,241.5 1289.1,249.4 1293.1,259.3 1298.0,267.2 1301.0,277.9 1305.9,285.8 1310.9,294.7 1314.8,305.6 1317.8,306.6 1321.7,314.5 1326.7,321.0 1329.7,326.4 1331.6,323.4 1335.6,328.3 1339.5,332.3 1343.5,333.7 1347.5,334.3 1350.4,329.3 1354.4,323.4 1358.3,315.5 1362.3,305.6 1366.2,295.7 1370.0,287.8 1370.9,282.1 1375.8,271.2 1380.8,262.3 1385.7,256.4 1389.7,253.4 1392.6,248.4 1394.6,252.4 1398.6,254.4 1402.5,257.3 1406.5,259.3 1409.4,263.3 1413.0,261.3 1415.4,255.4 1417.8,260.3 1419.3,265.3 1421.7,271.2 1425.3,282.1 1430.2,296.0 1435.2,309.8 1439.1,317.8 1442.1,328.6 1445.0,334.6 1449.0,342.5 1453.0,349.4 1456.9,355.3 1459.9,365.2 1462.9,375.1 1466.8,385.0 1470.8,394.9 1474.7,403.8 1478.7,412.7 1482.6,418.6 1487.6,424.6 1491.5,429.5 1496.5,434.5 1500.4,444.3 1504.4,456.2 1508.3,470.1 1512.3,485.9 1516.3,499.7 1519.2,508.6 1521.8,511.2 1524.2,508.6 1527.1,499.7 1530.1,483.9 1533.1,468.1 1536.0,450.3 1539.0,432.5 1542.0,414.7 1544.9,396.9 1547.9,379.1 1549.5,372.1 1551.9,370.2 1554.8,363.2 1557.8,351.4 1560.2,340.5 1562.7,333.6 1565.3,332.6 1567.3,341.5 1569.3,321.7 1571.2,320.7 1574.0,326.7 1576.6,315.8 1579.2,313.8 1581.5,304.9 1583.9,300.0 1587.5,297.0 1590.4,296.0 1595.4,282.1 1597.3,267.2 1600.3,272.2 1604.3,264.3 1606.2,255.4 1608.2,260.3 1612.2,253.4 1614.2,245.5 1616.7,235.6 1618.7,248.4 1622.1,237.6 1626.0,241.5 1630.0,246.5 1632.9,239.5 1634.9,222.7 1637.9,219.8 1638.9,207.9 1641.3,227.7 1644.8,229.7 1648.8,225.7 1651.7,237.6 1654.7,257.3 1656.7,273.2 1659.7,272.2 1661.6,277.1 1664.2,265.3 1665.6,282.1 1666.6,329.6 1668.2,300.0 1670.1,299.0 1672.1,315.8 1674.5,316.8 1676.1,333.6 1678.0,353.4 1680.4,371.2 1683.4,389.0 1686.0,403.8 1688.3,420.6 1689.9,428.5" fill="none" stroke="#ff8000" stroke-width="3.00" stroke-linejoin="round" stroke-linecap="round" clip-path="url(#cb)"/>
<rect x="1037.5" y="28.5" width="653.7" height="526.1" fill="none" stroke="#000" stroke-width="2.8"/>
<path d="M1037.5,554.6v-9.6M1037.5,28.5v9.6M1200.9,554.6v-9.6M1200.9,28.5v9.6M1364.3,554.6v-9.6M1364.3,28.5v9.6M1527.8,554.6v-9.6M1527.8,28.5v9.6M1691.2,554.6v-9.6M1691.2,28.5v9.6M1119.2,554.6v-4.8M1119.2,28.5v4.8M1282.6,554.6v-4.8M1282.6,28.5v4.8M1446.1,554.6v-4.8M1446.1,28.5v4.8M1609.5,554.6v-4.8M1609.5,28.5v4.8M1037.5,554.6h9.6M1691.2,554.6h-9.6M1037.5,423.1h9.6M1691.2,423.1h-9.6M1037.5,291.6h9.6M1691.2,291.6h-9.6M1037.5,160.0h9.6M1691.2,160.0h-9.6M1037.5,28.5h9.6M1691.2,28.5h-9.6M1037.5,488.8h4.8M1691.2,488.8h-4.8M1037.5,357.3h4.8M1691.2,357.3h-4.8M1037.5,225.8h4.8M1691.2,225.8h-4.8M1037.5,94.3h4.8M1691.2,94.3h-4.8" stroke="#000" stroke-width="2.4" fill="none"/>
<text x="1037.5" y="592.8" font-size="36.0" text-anchor="middle" font-weight="bold" font-style="normal" >0.5</text>
<text x="1200.9" y="592.8" font-size="36.0" text-anchor="middle" font-weight="bold" font-style="normal" >1.0</text>
<text x="1364.3" y="592.8" font-size="36.0" text-anchor="middle" font-weight="bold" font-style="normal" >1.5</text>
<text x="1527.8" y="592.8" font-size="36.0" text-anchor="middle" font-weight="bold" font-style="normal" >2.0</text>
<text x="1691.2" y="592.8" font-size="36.0" text-anchor="middle" font-weight="bold" font-style="normal" >2.5</text>
<text x="1026.5" y="565.8" font-size="36.0" text-anchor="end" font-weight="bold" font-style="normal" >0.0</text>
<text x="1026.5" y="434.2" font-size="36.0" text-anchor="end" font-weight="bold" font-style="normal" >0.2</text>
<text x="1026.5" y="302.7" font-size="36.0" text-anchor="end" font-weight="bold" font-style="normal" >0.4</text>
<text x="1026.5" y="171.2" font-size="36.0" text-anchor="end" font-weight="bold" font-style="normal" >0.6</text>
<text x="1026.5" y="39.7" font-size="36.0" text-anchor="end" font-weight="bold" font-style="normal" >0.8</text>
<text x="1364.0" y="649.0" font-size="33.5" text-anchor="middle" font-weight="bold" font-style="normal" textLength="253" lengthAdjust="spacing">Frequency (THz)</text>
<text transform="translate(952.5,281.7) rotate(-90)" font-size="34" text-anchor="middle" font-weight="bold" textLength="198.8" lengthAdjust="spacing">Transmission</text>
<rect x="1555.7" y="41.6" width="100.8" height="164.4" fill="#fff" stroke="#000" stroke-width="2.3"/>
<line x1="1559.4" y1="61.1" x2="1620.1" y2="61.1" stroke="#ff0000" stroke-width="3.4" stroke-linecap="round"/>
<text x="1626.6" y="70.3" font-size="27" font-style="italic" font-weight="bold" text-anchor="start">t<tspan font-size="20" dx="-0.6" dy="7.9">xx</tspan></text>
<line x1="1559.4" y1="101.4" x2="1620.1" y2="101.4" stroke="#00ff00" stroke-width="3.4" stroke-linecap="round"/>
<text x="1626.6" y="110.6" font-size="27" font-style="italic" font-weight="bold" text-anchor="start">t<tspan font-size="20" dx="-0.6" dy="7.9">xy</tspan></text>
<line x1="1559.4" y1="141.4" x2="1620.1" y2="141.4" stroke="#0000ff" stroke-width="3.4" stroke-linecap="round"/>
<text x="1626.6" y="150.6" font-size="27" font-style="italic" font-weight="bold" text-anchor="start">t<tspan font-size="20" dx="-0.6" dy="7.9">yx</tspan></text>
<line x1="1559.4" y1="181.8" x2="1620.1" y2="181.8" stroke="#ff8000" stroke-width="3.4" stroke-linecap="round"/>
<text x="1626.6" y="191.0" font-size="27" font-style="italic" font-weight="bold" text-anchor="start">t<tspan font-size="20" dx="-0.6" dy="7.9">yy</tspan></text>
<polyline points="179.9,768.3 182.9,774.2 186.8,770.2 190.8,763.3 194.7,757.4 198.7,755.0 201.3,755.8 202.7,759.8 205.6,762.3 209.6,768.3 213.5,773.2 218.5,778.1 223.4,782.7 228.4,782.5 232.3,783.5 236.3,787.0 240.2,788.0 244.2,793.0 248.1,799.9 253.1,807.4 257.0,807.4 261.0,804.9 264.0,802.3 268.9,804.9 272.9,802.9 277.8,804.9 282.8,810.8 286.7,815.7 291.7,821.7 295.6,829.6 299.6,831.6 303.5,834.9 307.5,837.5 311.4,844.4 314.4,852.3 317.4,862.2 320.3,871.1 323.3,884.0 326.3,894.8 329.2,905.7 332.2,916.6 335.2,928.5 338.1,939.3 341.1,951.2 344.1,964.0 347.0,977.8 350.0,989.7 354.0,1003.6 357.9,1018.4 361.9,1031.2 366.8,1047.1 371.8,1052.0 375.7,1057.9 380.7,1064.9 385.6,1072.8 390.6,1078.7 395.5,1082.7 399.5,1089.6 403.4,1100.5 408.4,1112.3 413.3,1122.2 418.2,1132.1 423.2,1143.0 428.1,1152.9 433.1,1160.8 438.0,1165.7 443.0,1167.1 447.9,1164.4 452.9,1159.8 457.8,1154.9 462.8,1149.5 468.7,1145.4 473.6,1143.4 477.6,1142.6 482.5,1144.0 488.5,1147.9 494.4,1150.9 500.3,1152.9 502.0,1153.5 506.9,1152.9 509.9,1151.9 513.9,1149.9 518.8,1147.9 523.8,1145.6 528.7,1145.0 533.6,1143.0 538.6,1144.4 543.5,1145.0 548.5,1144.4 553.4,1147.0 558.4,1147.9 561.3,1145.6 565.3,1150.9 570.2,1157.8 576.2,1162.8 581.1,1169.7 584.1,1178.6 589.0,1184.5 593.0,1189.5 597.9,1188.5 602.9,1192.4 606.8,1184.5 610.8,1181.6 615.7,1173.7 620.7,1161.8 625.6,1154.9 630.6,1146.0 636.5,1137.1 641.4,1134.7 646.4,1139.0 651.3,1146.0 656.3,1153.9 661.2,1162.8 667.2,1170.7 671.1,1163.8 676.1,1147.9 680.0,1132.1 684.0,1118.3 687.9,1102.5 691.9,1082.7 694.8,1073.8 697.8,1070.8 700.8,1051.0 704.7,1039.2 707.7,1037.2 710.7,1023.3 713.6,1021.4 716.6,1022.3 719.6,1015.4 723.5,1010.5 727.5,1013.4 730.4,1012.5 733.4,1019.4 736.4,1027.3 739.3,1015.4 742.3,1023.3 745.3,1026.3 749.2,1024.3 751.6,1029.3 755.2,1021.4 758.1,1011.5 761.1,1021.4 764.1,1012.5 768.0,1013.4 771.0,1011.5 774.9,1004.5 777.9,1002.6 780.9,995.6 784.8,999.6 789.8,1005.5 793.7,1011.5 796.7,1021.4 800.7,1029.3 803.6,1038.2 806.6,1039.2 809.6,1057.0 813.5,1066.9 816.5,1082.7 820.4,1098.5 824.4,1112.3 828.4,1120.3 831.3,1132.1 833.3,1140.0" fill="none" stroke="#ff0000" stroke-width="3.30" stroke-linejoin="round" stroke-linecap="round" clip-path="url(#cc)"/>
<polyline points="179.9,1143.0 183.9,1139.4 187.8,1138.1 191.8,1134.1 196.7,1130.1 201.7,1128.2 205.6,1125.8 207.6,1127.8 211.6,1124.2 216.5,1119.3 220.5,1118.3 223.8,1118.9 228.4,1114.3 233.3,1110.4 236.9,1110.8 241.2,1106.4 245.2,1105.4 248.1,1104.0 251.1,1106.0 255.1,1102.5 261.0,1096.5 266.9,1091.6 271.9,1085.0 274.9,1082.7 279.8,1074.2 283.2,1075.2 287.7,1067.8 291.7,1062.3 294.6,1060.9 298.6,1055.0 301.6,1052.0 305.5,1042.1 310.5,1033.2 316.4,1023.3 322.3,1015.0 328.3,1009.5 334.2,1003.6 339.1,1000.6 343.1,999.6 347.0,1000.0 350.0,1002.6 354.0,1009.5 358.9,1018.4 362.9,1027.3 367.8,1040.1 371.8,1051.0 375.7,1064.9 378.7,1078.7 380.7,1090.6 383.6,1104.4 386.6,1118.3 389.6,1132.1 393.5,1142.0 397.5,1153.9 401.4,1163.8 405.4,1168.7 410.3,1170.7 416.3,1168.1 423.2,1166.7 429.1,1168.7 435.1,1173.7 441.0,1180.6 446.9,1188.5 451.9,1195.4 456.8,1200.8 460.8,1201.3 464.7,1197.4 468.7,1189.5 472.6,1178.6 476.6,1165.7 480.6,1151.9 484.5,1138.1 488.5,1122.2 492.4,1106.4 496.4,1090.6 500.3,1074.8 502.0,1074.8 506.0,1057.0 509.9,1041.1 514.9,1025.3 519.8,1013.4 524.7,1004.5 529.7,996.6 534.6,989.7 537.6,989.7 541.6,984.8 544.5,983.8 547.5,978.8 551.4,973.9 554.4,968.9 557.4,957.1 562.3,953.2 565.3,957.1 569.2,957.1 572.2,964.0 576.2,968.9 579.1,972.9 582.1,975.9 585.1,987.7 589.0,996.6 593.0,1001.6 596.9,1011.5 600.9,1021.4 604.9,1037.2 608.8,1049.0 612.8,1062.9 616.7,1078.7 620.7,1092.6 624.6,1104.4 629.6,1112.3 634.5,1121.2 637.5,1120.3 640.5,1123.2 644.4,1121.2 648.4,1120.3 652.3,1119.3 656.3,1114.3 660.2,1109.4 665.2,1104.4 670.1,1099.5 674.1,1093.6 679.0,1085.6 684.0,1078.7 688.9,1080.7 691.9,1071.8 694.8,1078.7 697.8,1077.7 701.8,1073.8 704.1,1067.8 706.7,1071.8 709.7,1081.7 712.6,1076.7 715.6,1077.7 719.2,1072.8 721.9,1086.6 725.5,1082.7 728.5,1093.6 731.4,1089.6 735.0,1092.6 737.4,1100.5 740.3,1098.5 744.3,1110.4 747.3,1119.3 750.8,1121.2 754.2,1134.1 758.1,1144.0 762.1,1148.9 766.0,1159.8 770.0,1168.7 774.0,1179.6 777.9,1171.7 780.9,1177.6 783.8,1176.6 786.8,1189.5 789.8,1202.3 792.8,1204.3 795.7,1206.3 798.3,1200.4 801.7,1213.2 805.6,1206.3 809.6,1191.5 813.5,1177.6 817.5,1163.8 821.4,1151.9 824.4,1138.1 827.4,1128.2 830.3,1125.2 833.3,1114.3" fill="none" stroke="#00ff00" stroke-width="3.30" stroke-linejoin="round" stroke-linecap="round" clip-path="url(#cc)"/>
<polyline points="179.9,1103.4 183.9,1101.5 187.8,1097.5 190.8,1098.5 192.8,1092.6 196.7,1090.6 200.7,1088.2 203.6,1088.6 206.6,1086.6 210.6,1086.2 214.5,1083.7 218.5,1080.7 221.4,1078.7 223.8,1079.1 227.4,1075.8 230.3,1071.8 233.3,1068.2 236.3,1068.8 240.2,1065.3 243.2,1060.9 246.2,1059.9 248.7,1056.6 251.5,1058.5 254.1,1056.0 257.0,1049.0 260.0,1043.1 263.0,1038.2 266.9,1031.2 270.9,1026.3 274.9,1015.4 279.8,1008.5 284.7,1000.6 289.7,991.7 292.7,984.8 295.6,980.8 297.6,971.9 300.6,964.1 304.1,951.2 307.5,937.4 311.4,927.5 314.4,917.6 318.4,907.7 322.3,897.8 326.3,891.9 330.2,885.0 334.2,880.0 338.1,872.1 342.1,865.2 346.1,861.2 350.0,859.2 354.0,859.2 357.9,860.2 361.9,857.3 366.8,858.3 369.8,854.3 372.2,847.4 374.7,841.4 377.7,843.4 380.7,843.4 385.6,849.0 388.6,846.4 391.5,845.4 394.5,836.5 396.5,831.6 399.5,832.1 401.4,841.4 404.4,843.4 406.4,842.4 409.3,850.7 412.3,846.4 415.3,844.4 418.2,840.1 421.2,840.5 424.2,842.0 428.1,840.1 433.1,836.5 437.0,835.5 441.0,833.5 446.9,830.6 451.9,823.6 454.8,820.7 458.4,821.7 461.8,811.8 464.7,809.4 468.7,807.8 472.6,805.8 474.6,796.9 477.6,795.9 480.6,798.9 484.5,801.9 487.5,804.9 490.4,810.4 494.4,805.8 498.4,810.4 502.3,809.2 507.3,808.8 509.9,809.2 513.9,813.2 518.8,814.7 522.8,818.7 526.7,822.7 530.7,826.6 534.6,830.2 536.6,838.5 539.6,845.4 542.5,850.3 544.5,861.2 547.5,865.2 550.5,873.1 554.4,881.0 557.4,878.0 559.4,890.9 562.3,892.9 564.3,901.8 567.3,910.7 570.2,919.6 572.2,929.5 575.2,938.4 579.1,947.3 583.1,954.2 586.1,964.0 589.0,970.9 592.0,969.9 595.0,975.9 598.9,981.8 602.9,989.7 606.8,1000.6 611.8,1010.5 614.7,1021.4 618.7,1029.3 620.7,1043.1 624.6,1057.0 629.6,1067.8 632.5,1080.7 634.5,1088.6 637.5,1088.6 639.5,1098.5 643.4,1108.4 647.4,1120.3 652.3,1130.1 657.3,1140.0 662.2,1151.9 667.2,1161.8 672.1,1165.7 677.0,1170.7 680.0,1168.7 683.0,1170.7 686.9,1164.8 690.9,1162.8 692.9,1164.8 696.8,1158.8 699.8,1151.9 702.8,1148.9 704.7,1143.0 708.7,1138.1 711.7,1132.1 714.6,1124.2 717.6,1118.3 719.6,1111.4 721.9,1113.3 724.5,1104.4 727.5,1096.5 730.4,1090.6 733.4,1082.7 737.4,1080.7 739.3,1071.8 742.3,1067.8 747.3,1065.9 749.2,1058.9 752.2,1056.0 755.2,1056.0 759.1,1048.1 763.1,1046.1 766.0,1043.1 770.0,1045.1 774.0,1046.1 776.9,1030.3 778.9,1027.3 781.3,1018.4 783.8,1032.2 787.8,1033.2 790.8,1030.3 793.7,1037.2 796.7,1049.0 798.7,1064.9 801.1,1058.9 803.0,1070.8 804.6,1058.9 806.6,1043.1 809.0,1092.6 810.6,1058.9 813.5,1060.9 816.1,1054.0 818.5,1066.9 821.4,1078.7 824.4,1080.7 826.4,1075.8 829.3,1088.6 832.3,1095.5" fill="none" stroke="#0000ff" stroke-width="3.30" stroke-linejoin="round" stroke-linecap="round" clip-path="url(#cc)"/>
<polyline points="179.9,727.3 182.9,735.2 186.8,730.7 190.8,721.8 194.7,714.9 199.7,710.9 201.7,711.5 203.3,715.8 206.6,718.2 210.6,722.8 215.5,727.7 220.5,731.3 224.4,733.1 228.4,732.1 232.3,732.7 236.3,736.6 240.2,737.6 244.2,742.5 248.1,748.5 253.1,755.0 256.1,753.4 260.0,747.9 264.0,742.5 266.9,741.6 269.9,742.5 272.9,737.2 276.8,738.2 280.8,740.6 285.7,745.5 290.7,749.5 295.6,757.8 299.6,755.4 303.5,755.8 307.5,751.4 310.5,753.8 314.4,758.4 319.4,765.3 322.3,773.2 326.3,781.1 328.3,791.0 331.2,798.9 334.2,807.8 336.2,815.7 339.1,822.7 342.1,832.5 345.1,843.4 348.0,854.3 351.0,863.2 354.0,871.1 356.9,880.0 360.9,885.9 364.8,891.9 368.2,894.8 370.8,892.9 373.3,888.9 375.7,891.9 378.7,899.8 381.7,906.7 384.6,913.6 387.6,917.6 390.6,922.5 394.5,920.6 397.5,927.5 400.4,934.4 402.4,942.3 406.4,948.2 410.3,955.2 414.3,951.6 418.2,948.2 422.2,948.2 427.1,947.3 431.1,944.3 433.1,946.3 436.0,952.2 440.0,957.1 444.0,964.1 447.9,971.9 451.9,976.9 453.8,986.7 456.8,995.6 459.8,1004.5 462.8,1013.4 465.7,1021.4 469.7,1026.3 473.6,1034.2 477.6,1042.1 481.5,1047.1 484.5,1049.0 488.5,1058.9 492.4,1066.9 496.4,1073.8 500.3,1082.7 504.3,1090.6 507.3,1100.5 509.2,1110.4 509.9,1114.3 513.9,1130.1 518.8,1147.9 523.8,1165.7 528.7,1179.6 533.6,1189.5 537.6,1195.4 542.5,1199.4 545.5,1197.4 549.5,1195.4 553.4,1200.4 558.4,1201.3 562.3,1203.7 566.3,1198.4 570.2,1189.5 574.2,1179.6 578.1,1165.7 582.1,1149.9 586.1,1134.1 590.0,1120.3 594.0,1104.4 597.9,1088.6 602.9,1080.7 606.8,1066.9 611.8,1057.0 616.7,1051.0 620.7,1043.1 625.6,1038.2 629.6,1035.2 633.5,1034.6 638.5,1038.2 643.4,1045.1 648.4,1051.0 652.3,1062.9 657.3,1076.7 662.2,1088.6 667.2,1098.5 672.1,1098.5 677.0,1095.5 682.0,1087.6 686.9,1078.7 691.9,1069.8 696.8,1066.9 700.8,1061.9 705.7,1061.9 708.7,1062.9 711.7,1060.9 714.6,1064.9 717.6,1066.9 720.6,1060.9 724.5,1057.9 727.5,1057.0 729.5,1054.0 732.4,1056.0 735.4,1054.0 738.4,1041.1 741.3,1037.2 744.3,1033.2 747.3,1023.3 750.2,1021.4 753.2,1015.4 756.2,1004.5 759.1,993.7 761.5,1000.6 764.1,989.7 768.0,988.7 772.0,985.8 774.9,977.8 777.5,966.0 778.9,957.1 781.3,948.2 783.8,959.1 786.8,953.2 789.8,949.2 792.8,951.2 795.1,962.1 796.7,964.0 798.7,968.0 801.7,971.9 803.6,967.0 805.2,957.1 806.6,975.9 808.6,993.7 810.6,971.9 813.5,975.9 816.5,973.9 818.5,995.6 821.4,1003.6 824.4,1011.5 827.4,1015.4 830.3,1025.3 832.3,1034.2" fill="none" stroke="#ff8000" stroke-width="3.00" stroke-linejoin="round" stroke-linecap="round" clip-path="url(#cc)"/>
<rect x="179.8" y="695.0" width="653.3" height="526.3" fill="none" stroke="#000" stroke-width="2.8"/>
<path d="M179.8,1221.3v-9.6M179.8,695.0v9.6M343.1,1221.3v-9.6M343.1,695.0v9.6M506.4,1221.3v-9.6M506.4,695.0v9.6M669.8,1221.3v-9.6M669.8,695.0v9.6M833.1,1221.3v-9.6M833.1,695.0v9.6M261.5,1221.3v-4.8M261.5,695.0v4.8M424.8,1221.3v-4.8M424.8,695.0v4.8M588.1,1221.3v-4.8M588.1,695.0v4.8M751.4,1221.3v-4.8M751.4,695.0v4.8M179.8,1221.3h9.6M833.1,1221.3h-9.6M179.8,1089.7h9.6M833.1,1089.7h-9.6M179.8,958.1h9.6M833.1,958.1h-9.6M179.8,826.6h9.6M833.1,826.6h-9.6M179.8,695.0h9.6M833.1,695.0h-9.6M179.8,1155.5h4.8M833.1,1155.5h-4.8M179.8,1023.9h4.8M833.1,1023.9h-4.8M179.8,892.4h4.8M833.1,892.4h-4.8M179.8,760.8h4.8M833.1,760.8h-4.8" stroke="#000" stroke-width="2.4" fill="none"/>
<text x="179.8" y="1258.8" font-size="36.0" text-anchor="middle" font-weight="bold" font-style="normal" >0.5</text>
<text x="343.1" y="1258.8" font-size="36.0" text-anchor="middle" font-weight="bold" font-style="normal" >1.0</text>
<text x="506.4" y="1258.8" font-size="36.0" text-anchor="middle" font-weight="bold" font-style="normal" >1.5</text>
<text x="669.8" y="1258.8" font-size="36.0" text-anchor="middle" font-weight="bold" font-style="normal" >2.0</text>
<text x="833.1" y="1258.8" font-size="36.0" text-anchor="middle" font-weight="bold" font-style="normal" >2.5</text>
<text x="169.0" y="1232.5" font-size="36.0" text-anchor="end" font-weight="bold" font-style="normal" >0.0</text>
<text x="169.0" y="1100.9" font-size="36.0" text-anchor="end" font-weight="bold" font-style="normal" >0.2</text>
<text x="169.0" y="969.3" font-size="36.0" text-anchor="end" font-weight="bold" font-style="normal" >0.4</text>
<text x="169.0" y="837.7" font-size="36.0" text-anchor="end" font-weight="bold" font-style="normal" >0.6</text>
<text x="169.0" y="706.2" font-size="36.0" text-anchor="end" font-weight="bold" font-style="normal" >0.8</text>
<text x="505.0" y="1319.0" font-size="33.5" text-anchor="middle" font-weight="bold" font-style="normal" textLength="253" lengthAdjust="spacing">Frequency (THz)</text>
<text transform="translate(94,948.8) rotate(-90)" font-size="34" text-anchor="middle" font-weight="bold" textLength="198.8" lengthAdjust="spacing">Transmission</text>
<rect x="697.3" y="708.5" width="97.1" height="163.7" fill="#fff" stroke="#000" stroke-width="2.3"/>
<line x1="701.7" y1="727.4" x2="761.7" y2="727.4" stroke="#ff0000" stroke-width="3.4" stroke-linecap="round"/>
<text x="769.1" y="736.6" font-size="27" font-style="italic" font-weight="bold" text-anchor="start">t<tspan font-size="19" dx="-0.6" dy="7.9">ll</tspan></text>
<line x1="701.7" y1="767.7" x2="761.7" y2="767.7" stroke="#00ff00" stroke-width="3.4" stroke-linecap="round"/>
<text x="769.1" y="776.9" font-size="27" font-style="italic" font-weight="bold" text-anchor="start">t<tspan font-size="19" dx="-0.6" dy="7.9">lr</tspan></text>
<line x1="701.7" y1="808.0" x2="761.7" y2="808.0" stroke="#0000ff" stroke-width="3.4" stroke-linecap="round"/>
<text x="769.1" y="817.2" font-size="27" font-style="italic" font-weight="bold" text-anchor="start">t<tspan font-size="19" dx="-0.6" dy="7.9">rl</tspan></text>
<line x1="701.7" y1="848.4" x2="761.7" y2="848.4" stroke="#ff8000" stroke-width="3.4" stroke-linecap="round"/>
<text x="769.1" y="857.6" font-size="27" font-style="italic" font-weight="bold" text-anchor="start">t<tspan font-size="19" dx="-0.6" dy="7.9">rr</tspan></text>
<polyline points="1050.9,725.6 1054.3,729.0 1058.8,726.6 1061.8,723.2 1064.8,721.6 1068.7,718.3 1071.7,715.7 1074.7,715.1 1078.6,712.4 1082.6,710.8 1086.5,710.4 1090.5,709.2 1095.8,708.2 1099.4,709.2 1103.3,710.8 1108.3,712.4 1112.2,714.7 1116.2,716.3 1118.2,718.1 1121.1,717.3 1124.1,719.1 1127.1,717.7 1131.0,713.3 1135.0,709.8 1138.9,709.8 1142.9,707.2 1145.9,709.2 1148.8,710.8 1152.8,714.1 1156.7,719.7 1159.7,723.6 1162.7,725.6 1165.0,730.2 1168.6,730.5 1171.6,732.5 1174.5,734.5 1178.5,733.9 1181.5,734.5 1185.4,738.5 1189.4,742.4 1192.3,748.3 1195.3,751.3 1198.3,758.2 1202.2,767.1 1206.2,777.0 1210.1,787.9 1214.1,798.8 1218.1,808.7 1223.0,821.5 1227.0,831.4 1230.9,842.3 1234.9,852.2 1236.8,858.1 1238.8,868.0 1241.8,879.9 1244.8,891.7 1245.5,900.0 1248.5,911.9 1251.5,922.7 1254.4,932.6 1256.4,942.5 1259.4,953.4 1261.8,963.3 1263.3,974.2 1265.3,988.0 1268.3,991.4 1271.2,986.6 1273.6,989.0 1275.6,981.1 1278.2,978.5 1280.7,983.5 1283.1,978.1 1286.1,981.1 1289.0,978.1 1292.0,970.2 1295.0,970.8 1297.9,969.6 1300.9,973.2 1303.9,982.1 1306.9,992.0 1310.8,1002.9 1312.8,1013.7 1315.8,1022.6 1317.7,1034.5 1319.7,1048.3 1321.7,1062.2 1324.7,1072.1 1326.2,1083.9 1328.2,1097.8 1329.6,1107.7 1331.6,1117.6 1333.6,1123.5 1335.5,1127.5 1337.5,1133.4 1339.5,1136.4 1340.5,1145.3 1341.5,1156.1 1344.4,1161.1 1346.8,1158.1 1349.4,1153.2 1352.3,1148.2 1354.7,1141.3 1356.7,1132.4 1359.3,1133.0 1361.8,1137.3 1363.8,1129.4 1366.2,1125.1 1368.6,1123.1 1371.1,1119.5 1374.1,1119.9 1376.1,1114.6 1379.0,1111.6 1381.0,1106.7 1384.0,1101.7 1387.0,1095.8 1388.9,1086.9 1391.9,1079.0 1394.9,1071.1 1397.4,1061.2 1398.8,1055.3 1401.8,1050.3 1403.4,1032.5 1405.7,1020.7 1407.7,1008.8 1410.1,994.9 1411.7,983.1 1414.6,967.2 1417.2,951.4 1419.2,938.6 1421.6,929.7 1423.9,923.7 1425.5,910.9 1427.9,900.0 1429.4,887.8 1431.4,875.9 1433.3,866.0 1435.3,855.2 1437.3,844.3 1440.3,836.4 1443.2,828.5 1446.2,822.5 1450.1,816.6 1452.1,810.7 1455.1,808.7 1458.1,809.3 1461.0,802.7 1464.0,798.8 1467.0,797.8 1469.9,798.4 1471.9,787.9 1474.9,787.9 1477.8,784.9 1480.8,781.0 1482.8,780.0 1484.8,772.1 1487.7,768.1 1490.7,764.2 1493.7,759.2 1496.6,756.3 1499.0,748.3 1501.6,751.3 1504.5,747.8 1506.9,746.8 1509.5,748.0 1511.9,741.8 1514.4,745.0 1517.4,747.8 1520.4,747.4 1523.3,746.4 1526.3,743.8 1529.3,743.0 1532.2,742.4 1536.2,738.1 1539.2,737.5 1543.1,734.5 1546.1,735.5 1549.0,733.5 1552.0,736.5 1556.0,740.4 1557.9,748.3 1559.9,753.3 1562.9,758.2 1565.5,766.1 1568.8,771.1 1570.8,780.0 1572.8,787.9 1575.7,797.8 1578.7,804.7 1581.7,810.7 1584.1,816.6 1585.6,824.5 1588.6,828.5 1592.6,832.8 1596.5,833.4 1600.5,832.8 1603.0,837.7 1607.4,834.4 1611.3,834.0 1615.3,836.0 1619.3,836.8 1622.2,836.4 1625.2,836.4 1628.2,839.7 1631.1,840.3 1634.1,838.7 1637.1,839.9 1640.0,837.9 1643.0,838.3 1646.0,834.4 1649.9,826.5 1653.9,817.6 1657.8,807.7 1660.8,796.8 1663.8,792.9 1665.7,784.9 1668.7,783.0 1670.7,776.0 1673.7,777.0 1676.6,771.1 1679.6,768.1 1681.6,767.1 1684.5,761.2 1686.5,759.2 1689.5,751.3 1691.5,745.4 1694.4,744.4 1696.0,748.3" fill="none" stroke="#000000" stroke-width="3.20" stroke-linejoin="round" stroke-linecap="round" clip-path="url(#cd)"/>
<rect x="1051.3" y="693.3" width="644.6" height="520.0" fill="none" stroke="#000" stroke-width="2.6"/>
<path d="M1051.3,1213.3v-9.6M1051.3,693.3v9.6M1212.5,1213.3v-9.6M1212.5,693.3v9.6M1373.6,1213.3v-9.6M1373.6,693.3v9.6M1534.8,1213.3v-9.6M1534.8,693.3v9.6M1695.9,1213.3v-9.6M1695.9,693.3v9.6M1131.9,1213.3v-4.8M1131.9,693.3v4.8M1293.0,1213.3v-4.8M1293.0,693.3v4.8M1454.2,1213.3v-4.8M1454.2,693.3v4.8M1615.3,1213.3v-4.8M1615.3,693.3v4.8M1051.3,693.3h9.6M1695.9,693.3h-9.6M1051.3,797.3h9.6M1695.9,797.3h-9.6M1051.3,901.3h9.6M1695.9,901.3h-9.6M1051.3,1005.3h9.6M1695.9,1005.3h-9.6M1051.3,1109.3h9.6M1695.9,1109.3h-9.6M1051.3,1213.3h9.6M1695.9,1213.3h-9.6M1051.3,745.3h4.8M1695.9,745.3h-4.8M1051.3,849.3h4.8M1695.9,849.3h-4.8M1051.3,953.3h4.8M1695.9,953.3h-4.8M1051.3,1057.3h4.8M1695.9,1057.3h-4.8M1051.3,1161.3h4.8M1695.9,1161.3h-4.8" stroke="#000" stroke-width="2.4" fill="none"/>
<text x="1051.3" y="1251.2" font-size="36.0" text-anchor="middle" font-weight="bold" font-style="normal" >0.5</text>
<text x="1212.5" y="1251.2" font-size="36.0" text-anchor="middle" font-weight="bold" font-style="normal" >1.0</text>
<text x="1373.6" y="1251.2" font-size="36.0" text-anchor="middle" font-weight="bold" font-style="normal" >1.5</text>
<text x="1534.8" y="1251.2" font-size="36.0" text-anchor="middle" font-weight="bold" font-style="normal" >2.0</text>
<text x="1695.9" y="1251.2" font-size="36.0" text-anchor="middle" font-weight="bold" font-style="normal" >2.5</text>
<text x="1038.5" y="704.5" font-size="36.0" text-anchor="end" font-weight="bold" font-style="normal" >0.1</text>
<text x="1038.5" y="808.5" font-size="36.0" text-anchor="end" font-weight="bold" font-style="normal" >0.0</text>
<text x="1038.5" y="912.5" font-size="36.0" text-anchor="end" font-weight="bold" font-style="normal" >-0.1</text>
<text x="1038.5" y="1016.5" font-size="36.0" text-anchor="end" font-weight="bold" font-style="normal" >-0.2</text>
<text x="1038.5" y="1120.5" font-size="36.0" text-anchor="end" font-weight="bold" font-style="normal" >-0.3</text>
<text x="1038.5" y="1224.5" font-size="36.0" text-anchor="end" font-weight="bold" font-style="normal" >-0.4</text>
<text x="1373.4" y="1306.4" font-size="33.5" text-anchor="middle" font-weight="bold" font-style="normal" textLength="250" lengthAdjust="spacing">Frequency (THz)</text>
<text transform="translate(955,939.3) rotate(-90)" font-size="34" text-anchor="middle" font-weight="bold" textLength="283" lengthAdjust="spacing">Circular Dichroism</text>
</svg></body></html>
